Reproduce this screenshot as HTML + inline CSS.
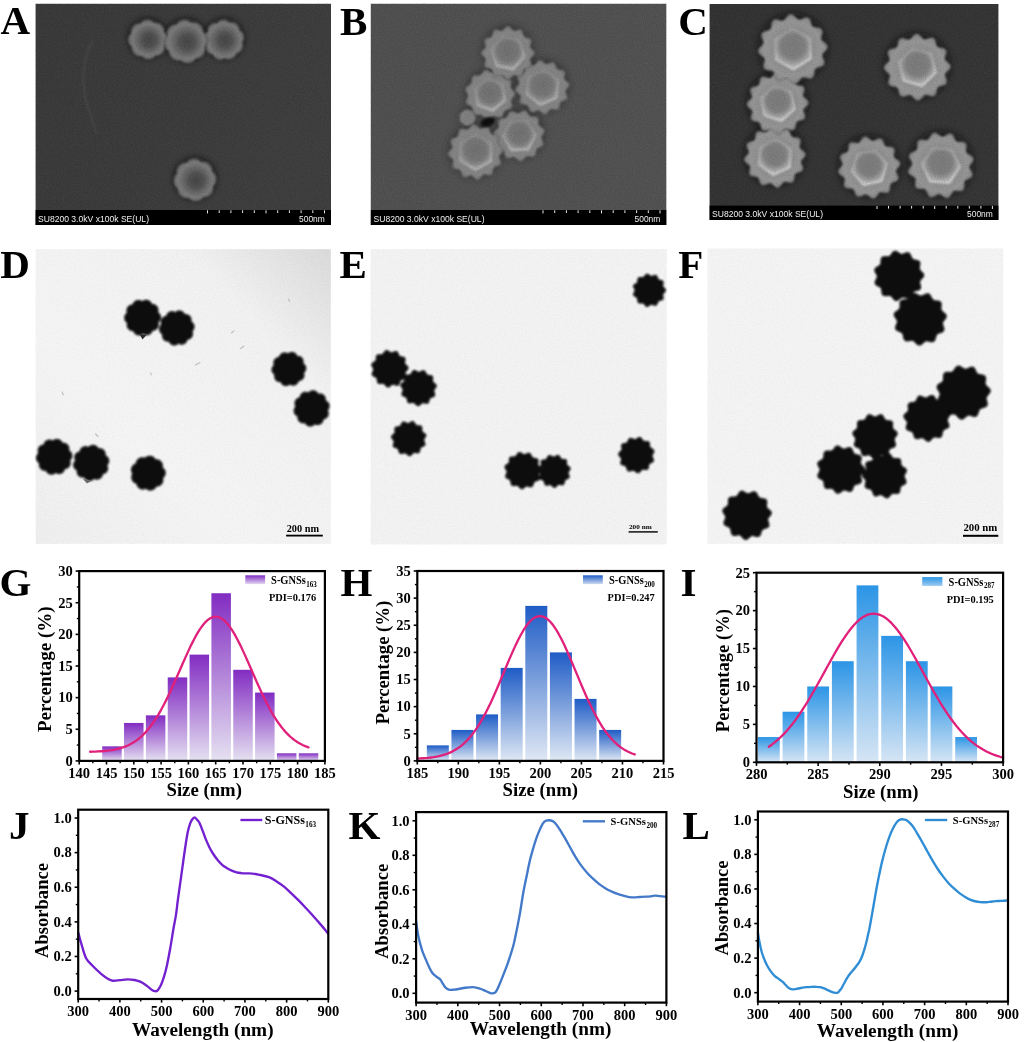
<!DOCTYPE html>
<html lang="en"><head><meta charset="utf-8"><title>S-GNSs characterization figure</title>
<style>html,body{margin:0;padding:0;background:#fff}svg{display:block}text{white-space:pre}</style>
</head><body>
<svg width="1024" height="1042" viewBox="0 0 1024 1042">
<defs>
<filter id="grain" x="0" y="0" width="100%" height="100%"><feTurbulence type="fractalNoise" baseFrequency="0.9" numOctaves="2" seed="3" result="n"/><feColorMatrix type="matrix" values="0 0 0 0 1  0 0 0 0 1  0 0 0 0 1  1.2 0 0 0 -0.35"/></filter>
<filter id="grainD" x="0" y="0" width="100%" height="100%"><feTurbulence type="fractalNoise" baseFrequency="0.9" numOctaves="2" seed="8" result="n"/><feColorMatrix type="matrix" values="0 0 0 0 0  0 0 0 0 0  0 0 0 0 0  1.2 0 0 0 -0.35"/></filter>
<filter id="b05" x="-20%" y="-20%" width="140%" height="140%"><feGaussianBlur stdDeviation="0.55"/></filter>
<filter id="b09" x="-5%" y="-5%" width="110%" height="110%"><feGaussianBlur stdDeviation="0.9"/></filter>
<filter id="b08" x="-20%" y="-20%" width="140%" height="140%"><feGaussianBlur stdDeviation="0.8"/></filter>
<filter id="b12" x="-20%" y="-20%" width="140%" height="140%"><feGaussianBlur stdDeviation="1.3"/></filter>
<filter id="b3" x="-30%" y="-30%" width="160%" height="160%"><feGaussianBlur stdDeviation="3"/></filter>
<linearGradient id="bgA" x1="0" y1="0" x2="1" y2="0.4"><stop offset="0" stop-color="#383838"/><stop offset="0.5" stop-color="#3a3a3a"/><stop offset="1" stop-color="#3d3d3d"/></linearGradient>
<linearGradient id="bgB" x1="0" y1="0" x2="1" y2="0.3"><stop offset="0" stop-color="#4f4f4f"/><stop offset="1" stop-color="#515151"/></linearGradient>
<linearGradient id="bgC" x1="0" y1="0" x2="1" y2="0.3"><stop offset="0" stop-color="#313131"/><stop offset="1" stop-color="#343434"/></linearGradient>
<radialGradient id="pA"><stop offset="0" stop-color="#6a6a6a"/><stop offset="0.45" stop-color="#757575"/><stop offset="0.7" stop-color="#8a8a8a"/><stop offset="1" stop-color="#7c7c7c"/></radialGradient>
<radialGradient id="pB"><stop offset="0" stop-color="#7e7e7e"/><stop offset="0.5" stop-color="#858585"/><stop offset="0.66" stop-color="#9a9a9a"/><stop offset="0.8" stop-color="#848484"/><stop offset="1" stop-color="#7a7a7a"/></radialGradient>
<radialGradient id="pC"><stop offset="0" stop-color="#8c8c8c"/><stop offset="0.45" stop-color="#969696"/><stop offset="0.62" stop-color="#b0b0b0"/><stop offset="0.8" stop-color="#8e8e8e"/><stop offset="1" stop-color="#808080"/></radialGradient>
<linearGradient id="bgD" x1="0" y1="1" x2="1" y2="0"><stop offset="0" stop-color="#f0f0f0"/><stop offset="0.35" stop-color="#f6f6f6"/><stop offset="0.75" stop-color="#f3f3f3"/><stop offset="1" stop-color="#dcdcdc"/></linearGradient>
<linearGradient id="gG" x1="0" y1="0" x2="0" y2="1"><stop offset="0" stop-color="#822cc2"/><stop offset="1" stop-color="#e5e1f1"/></linearGradient>
<linearGradient id="gH" x1="0" y1="0" x2="0" y2="1"><stop offset="0" stop-color="#1f5cc6"/><stop offset="1" stop-color="#dfe8f4"/></linearGradient>
<linearGradient id="lgG" x1="0" y1="0" x2="0" y2="1"><stop offset="0" stop-color="#822cc2"/><stop offset="1" stop-color="#e2d8f2"/></linearGradient>
<linearGradient id="lgH" x1="0" y1="0" x2="0" y2="1"><stop offset="0" stop-color="#1f5cc6"/><stop offset="1" stop-color="#cddaf0"/></linearGradient>
<linearGradient id="lgI" x1="0" y1="0" x2="0" y2="1"><stop offset="0" stop-color="#2c95e6"/><stop offset="1" stop-color="#9ccbf1"/></linearGradient>
<linearGradient id="gI" x1="0" y1="0" x2="0" y2="1"><stop offset="0" stop-color="#2c95e6"/><stop offset="1" stop-color="#d6e5f4"/></linearGradient>
</defs>
<rect x="0" y="0" width="1024" height="1042" fill="#ffffff"/>
<text x="0.6" y="33.9" font-size="41.0" font-family="Liberation Serif, serif" font-weight="bold" fill="#000">A</text>
<text x="340.0" y="34.7" font-size="41.0" font-family="Liberation Serif, serif" font-weight="bold" fill="#000">B</text>
<text x="678.2" y="35.0" font-size="41.0" font-family="Liberation Serif, serif" font-weight="bold" fill="#000">C</text>
<text x="0.2" y="277.7" font-size="41.0" font-family="Liberation Serif, serif" font-weight="bold" fill="#000">D</text>
<text x="339.6" y="278.0" font-size="41.0" font-family="Liberation Serif, serif" font-weight="bold" fill="#000">E</text>
<text x="678.2" y="277.8" font-size="41.0" font-family="Liberation Serif, serif" font-weight="bold" fill="#000">F</text>
<text x="-0.4" y="596.0" font-size="41.0" font-family="Liberation Serif, serif" font-weight="bold" fill="#000">G</text>
<text x="340.5" y="595.7" font-size="41.0" font-family="Liberation Serif, serif" font-weight="bold" fill="#000">H</text>
<text x="680.6" y="596.0" font-size="41.0" font-family="Liberation Serif, serif" font-weight="bold" fill="#000">I</text>
<text x="9.0" y="839.0" font-size="41.0" font-family="Liberation Serif, serif" font-weight="bold" fill="#000">J</text>
<text x="348.4" y="839.0" font-size="41.0" font-family="Liberation Serif, serif" font-weight="bold" fill="#000">K</text>
<text x="682.4" y="839.0" font-size="41.0" font-family="Liberation Serif, serif" font-weight="bold" fill="#000">L</text>
<g>
<rect x="35.6" y="3.8" width="295.4" height="221.2" fill="url(#bgA)"/>
<path d="M93 40 C84 55 81 80 86 100 C89 112 93 122 97 134" fill="none" stroke="#565656" stroke-opacity="0.5" stroke-width="1.6" filter="url(#b12)"/>
<circle cx="148.0" cy="38.0" r="20.0" fill="#0c0c0c" opacity="0.65" filter="url(#b3)"/>
<circle cx="224.0" cy="38.5" r="20.5" fill="#0c0c0c" opacity="0.65" filter="url(#b3)"/>
<circle cx="186.0" cy="40.0" r="22.0" fill="#0c0c0c" opacity="0.65" filter="url(#b3)"/>
<circle cx="195.0" cy="178.5" r="21.5" fill="#0c0c0c" opacity="0.65" filter="url(#b3)"/>
<radialGradient id="pg35_0" gradientUnits="userSpaceOnUse" cx="148.0" cy="39.5" r="20.0"><stop offset="0" stop-color="#6c6c6c"/><stop offset="0.55" stop-color="#6c6c6c"/><stop offset="0.8" stop-color="#7c7c7c"/><stop offset="1" stop-color="#646464"/></radialGradient>
<path d="M168.0 39.5 L167.9 40.4 L167.7 41.4 L167.4 42.3 L167.0 43.2 L166.4 44.0 L165.8 44.7 L165.0 45.4 L164.8 46.2 L164.9 47.2 L164.9 48.2 L164.7 49.2 L164.5 50.1 L164.1 51.0 L163.7 51.8 L163.1 52.6 L162.5 53.3 L161.8 53.9 L161.0 54.5 L160.2 55.0 L159.3 55.3 L158.4 55.6 L157.4 55.8 L156.4 55.8 L155.3 55.6 L154.8 56.6 L154.2 57.3 L153.4 57.9 L152.6 58.4 L151.7 58.8 L150.8 59.1 L149.9 59.4 L149.0 59.5 L148.0 59.5 L147.1 59.4 L146.1 59.2 L145.2 58.9 L144.3 58.5 L143.5 57.9 L142.8 57.3 L142.1 56.5 L141.3 56.3 L140.3 56.4 L139.3 56.4 L138.3 56.2 L137.4 56.0 L136.5 55.6 L135.7 55.2 L134.9 54.6 L134.2 54.0 L133.6 53.3 L133.0 52.5 L132.5 51.7 L132.2 50.8 L131.9 49.9 L131.7 48.9 L131.7 47.9 L131.9 46.8 L130.9 46.3 L130.2 45.7 L129.6 44.9 L129.1 44.1 L128.7 43.2 L128.4 42.3 L128.1 41.4 L128.0 40.5 L128.0 39.5 L128.1 38.6 L128.3 37.6 L128.6 36.7 L129.0 35.8 L129.6 35.0 L130.2 34.3 L131.0 33.6 L131.2 32.8 L131.1 31.8 L131.1 30.8 L131.3 29.8 L131.5 28.9 L131.9 28.0 L132.3 27.2 L132.9 26.4 L133.5 25.7 L134.2 25.1 L135.0 24.5 L135.8 24.0 L136.7 23.7 L137.6 23.4 L138.6 23.2 L139.6 23.2 L140.7 23.4 L141.2 22.4 L141.8 21.7 L142.6 21.1 L143.4 20.6 L144.3 20.2 L145.2 19.9 L146.1 19.6 L147.0 19.5 L148.0 19.5 L148.9 19.6 L149.9 19.8 L150.8 20.1 L151.7 20.5 L152.5 21.1 L153.2 21.7 L153.9 22.5 L154.7 22.7 L155.7 22.6 L156.7 22.6 L157.7 22.8 L158.6 23.0 L159.5 23.4 L160.3 23.8 L161.1 24.4 L161.8 25.0 L162.4 25.7 L163.0 26.5 L163.5 27.3 L163.8 28.2 L164.1 29.1 L164.3 30.1 L164.3 31.1 L164.1 32.2 L165.1 32.7 L165.8 33.3 L166.4 34.1 L166.9 34.9 L167.3 35.8 L167.6 36.7 L167.9 37.6 L168.0 38.5Z" fill="url(#pg35_0)" stroke="#0c0c0c" stroke-opacity="0.4" stroke-width="0.8" filter="url(#b08)"/>
<radialGradient id="hg35_0" gradientUnits="userSpaceOnUse" cx="149.0" cy="39.9" r="16.0"><stop offset="0" stop-color="#444444" stop-opacity="1"/><stop offset="0.45" stop-color="#4e4e4e" stop-opacity="0.9"/><stop offset="1" stop-color="#6c6c6c" stop-opacity="0"/></radialGradient>
<circle cx="149.0" cy="39.9" r="16.0" fill="url(#hg35_0)"/>
<radialGradient id="pg35_1" gradientUnits="userSpaceOnUse" cx="224.0" cy="40.0" r="20.5"><stop offset="0" stop-color="#6c6c6c"/><stop offset="0.55" stop-color="#6c6c6c"/><stop offset="0.8" stop-color="#7c7c7c"/><stop offset="1" stop-color="#646464"/></radialGradient>
<path d="M243.6 40.0 L243.2 40.9 L242.6 41.8 L242.2 42.6 L242.7 43.6 L243.0 44.6 L243.1 45.6 L243.0 46.6 L242.9 47.6 L242.6 48.5 L242.2 49.4 L241.7 50.2 L241.1 51.0 L240.4 51.7 L239.6 52.3 L238.7 52.8 L237.8 53.1 L236.7 53.3 L236.2 54.1 L235.9 55.1 L235.4 56.0 L234.8 56.8 L234.1 57.5 L233.3 58.1 L232.5 58.6 L231.6 59.0 L230.7 59.3 L229.7 59.5 L228.7 59.5 L227.7 59.4 L226.8 59.2 L225.8 58.8 L224.9 58.0 L224.0 58.9 L223.1 59.3 L222.1 59.7 L221.1 59.9 L220.2 59.9 L219.2 59.9 L218.2 59.7 L217.3 59.4 L216.4 58.9 L215.6 58.4 L214.8 57.7 L214.2 57.0 L213.6 56.2 L213.2 55.2 L212.6 54.5 L211.5 54.4 L210.5 54.1 L209.6 53.7 L208.8 53.2 L208.0 52.6 L207.3 51.9 L206.8 51.1 L206.3 50.2 L205.9 49.3 L205.7 48.4 L205.6 47.4 L205.6 46.4 L205.7 45.4 L206.1 44.3 L205.7 43.5 L205.0 42.7 L204.4 41.9 L204.1 41.0 L203.8 40.0 L203.6 39.0 L203.6 38.1 L203.7 37.1 L203.9 36.1 L204.3 35.2 L204.8 34.3 L205.3 33.5 L206.0 32.8 L206.8 32.2 L208.0 31.7 L207.7 30.6 L207.7 29.5 L207.9 28.5 L208.2 27.6 L208.7 26.7 L209.2 25.9 L209.9 25.2 L210.6 24.5 L211.4 24.0 L212.3 23.5 L213.2 23.2 L214.2 23.0 L215.2 22.9 L216.2 23.0 L217.2 22.9 L217.8 22.0 L218.5 21.3 L219.3 20.7 L220.2 20.2 L221.1 19.9 L222.1 19.6 L223.0 19.5 L224.0 19.5 L225.0 19.7 L225.9 19.9 L226.8 20.3 L227.7 20.8 L228.5 21.5 L229.2 22.3 L230.1 22.4 L231.1 22.2 L232.2 22.1 L233.2 22.2 L234.1 22.5 L235.0 22.8 L235.9 23.3 L236.7 23.9 L237.4 24.6 L238.0 25.3 L238.5 26.2 L238.9 27.1 L239.2 28.0 L239.4 29.1 L239.2 30.2 L240.3 30.6 L241.2 31.1 L242.0 31.8 L242.6 32.5 L243.2 33.4 L243.6 34.2 L243.9 35.2 L244.1 36.1 L244.2 37.1 L244.1 38.1 L243.9 39.0Z" fill="url(#pg35_1)" stroke="#0c0c0c" stroke-opacity="0.4" stroke-width="0.8" filter="url(#b08)"/>
<radialGradient id="hg35_1" gradientUnits="userSpaceOnUse" cx="225.0" cy="40.4" r="16.4"><stop offset="0" stop-color="#444444" stop-opacity="1"/><stop offset="0.45" stop-color="#4e4e4e" stop-opacity="0.9"/><stop offset="1" stop-color="#6c6c6c" stop-opacity="0"/></radialGradient>
<circle cx="225.0" cy="40.4" r="16.4" fill="url(#hg35_1)"/>
<radialGradient id="pg35_2" gradientUnits="userSpaceOnUse" cx="186.0" cy="41.5" r="22.0"><stop offset="0" stop-color="#6c6c6c"/><stop offset="0.55" stop-color="#6c6c6c"/><stop offset="0.8" stop-color="#7c7c7c"/><stop offset="1" stop-color="#646464"/></radialGradient>
<path d="M207.8 41.5 L207.5 42.5 L207.2 43.5 L206.7 44.5 L206.1 45.4 L205.4 46.2 L205.0 47.1 L205.3 48.2 L205.3 49.2 L205.3 50.3 L205.1 51.4 L204.8 52.4 L204.4 53.3 L203.9 54.2 L203.3 55.1 L202.6 55.9 L201.8 56.6 L201.0 57.2 L200.0 57.7 L199.1 58.1 L198.0 58.4 L196.9 58.5 L195.8 58.4 L195.2 59.4 L194.6 60.3 L193.8 61.0 L193.0 61.7 L192.1 62.2 L191.1 62.7 L190.2 63.0 L189.1 63.3 L188.1 63.4 L187.0 63.4 L186.0 63.3 L185.0 63.0 L184.0 62.7 L183.0 62.2 L182.1 61.6 L181.3 60.9 L180.4 60.5 L179.3 60.8 L178.3 60.8 L177.2 60.8 L176.1 60.6 L175.1 60.3 L174.2 59.9 L173.3 59.4 L172.4 58.8 L171.6 58.1 L170.9 57.3 L170.3 56.5 L169.8 55.5 L169.4 54.6 L169.1 53.5 L169.0 52.4 L169.1 51.3 L168.1 50.7 L167.2 50.1 L166.5 49.3 L165.8 48.5 L165.3 47.6 L164.8 46.6 L164.5 45.7 L164.2 44.6 L164.1 43.6 L164.1 42.5 L164.2 41.5 L164.5 40.5 L164.8 39.5 L165.3 38.5 L165.9 37.6 L166.6 36.8 L167.0 35.9 L166.7 34.8 L166.7 33.8 L166.7 32.7 L166.9 31.6 L167.2 30.6 L167.6 29.7 L168.1 28.8 L168.7 27.9 L169.4 27.1 L170.2 26.4 L171.0 25.8 L172.0 25.3 L172.9 24.9 L174.0 24.6 L175.1 24.5 L176.2 24.6 L176.8 23.6 L177.4 22.7 L178.2 22.0 L179.0 21.3 L179.9 20.8 L180.9 20.3 L181.8 20.0 L182.9 19.7 L183.9 19.6 L185.0 19.6 L186.0 19.7 L187.0 20.0 L188.0 20.3 L189.0 20.8 L189.9 21.4 L190.7 22.1 L191.6 22.5 L192.7 22.2 L193.7 22.2 L194.8 22.2 L195.9 22.4 L196.9 22.7 L197.8 23.1 L198.7 23.6 L199.6 24.2 L200.4 24.9 L201.1 25.7 L201.7 26.5 L202.2 27.5 L202.6 28.4 L202.9 29.5 L203.0 30.6 L202.9 31.7 L203.9 32.3 L204.8 32.9 L205.5 33.7 L206.2 34.5 L206.7 35.4 L207.2 36.4 L207.5 37.3 L207.8 38.4 L207.9 39.4 L207.9 40.5Z" fill="url(#pg35_2)" stroke="#0c0c0c" stroke-opacity="0.4" stroke-width="0.8" filter="url(#b08)"/>
<radialGradient id="hg35_2" gradientUnits="userSpaceOnUse" cx="187.1" cy="41.9" r="17.6"><stop offset="0" stop-color="#444444" stop-opacity="1"/><stop offset="0.45" stop-color="#4e4e4e" stop-opacity="0.9"/><stop offset="1" stop-color="#6c6c6c" stop-opacity="0"/></radialGradient>
<circle cx="187.1" cy="41.9" r="17.6" fill="url(#hg35_2)"/>
<radialGradient id="pg35_3" gradientUnits="userSpaceOnUse" cx="195.0" cy="180.0" r="21.5"><stop offset="0" stop-color="#6c6c6c"/><stop offset="0.55" stop-color="#6c6c6c"/><stop offset="0.8" stop-color="#7c7c7c"/><stop offset="1" stop-color="#646464"/></radialGradient>
<path d="M216.4 180.0 L216.3 181.0 L216.0 182.0 L215.7 183.0 L215.2 183.9 L214.6 184.8 L213.9 185.5 L213.0 186.2 L213.3 187.3 L213.4 188.4 L213.3 189.4 L213.1 190.5 L212.8 191.4 L212.4 192.4 L211.9 193.3 L211.2 194.1 L210.5 194.8 L209.8 195.5 L208.9 196.1 L208.0 196.5 L207.0 196.9 L206.0 197.2 L205.0 197.3 L203.9 197.2 L203.1 197.7 L202.4 198.6 L201.7 199.3 L200.9 199.9 L200.0 200.5 L199.0 200.9 L198.0 201.2 L197.0 201.4 L196.0 201.5 L195.0 201.4 L194.0 201.3 L193.0 201.0 L192.0 200.7 L191.1 200.2 L190.2 199.6 L189.5 198.9 L188.8 198.0 L187.7 198.3 L186.6 198.4 L185.6 198.3 L184.5 198.1 L183.6 197.8 L182.6 197.4 L181.7 196.9 L180.9 196.2 L180.2 195.5 L179.5 194.8 L178.9 193.9 L178.5 193.0 L178.1 192.0 L177.8 191.0 L177.7 190.0 L177.8 188.9 L177.3 188.1 L176.4 187.4 L175.7 186.7 L175.1 185.9 L174.5 185.0 L174.1 184.0 L173.8 183.0 L173.6 182.0 L173.5 181.0 L173.6 180.0 L173.7 179.0 L174.0 178.0 L174.3 177.0 L174.8 176.1 L175.4 175.2 L176.1 174.5 L177.0 173.8 L176.7 172.7 L176.6 171.6 L176.7 170.6 L176.9 169.5 L177.2 168.6 L177.6 167.6 L178.1 166.7 L178.8 165.9 L179.5 165.2 L180.2 164.5 L181.1 163.9 L182.0 163.5 L183.0 163.1 L184.0 162.8 L185.0 162.7 L186.1 162.8 L186.9 162.3 L187.6 161.4 L188.3 160.7 L189.1 160.1 L190.0 159.5 L191.0 159.1 L192.0 158.8 L193.0 158.6 L194.0 158.5 L195.0 158.6 L196.0 158.7 L197.0 159.0 L198.0 159.3 L198.9 159.8 L199.8 160.4 L200.5 161.1 L201.2 162.0 L202.3 161.7 L203.4 161.6 L204.4 161.7 L205.5 161.9 L206.4 162.2 L207.4 162.6 L208.3 163.1 L209.1 163.8 L209.8 164.5 L210.5 165.2 L211.1 166.1 L211.5 167.0 L211.9 168.0 L212.2 169.0 L212.3 170.0 L212.2 171.1 L212.7 171.9 L213.6 172.6 L214.3 173.3 L214.9 174.1 L215.5 175.0 L215.9 176.0 L216.2 177.0 L216.4 178.0 L216.5 179.0Z" fill="url(#pg35_3)" stroke="#0c0c0c" stroke-opacity="0.4" stroke-width="0.8" filter="url(#b08)"/>
<radialGradient id="hg35_3" gradientUnits="userSpaceOnUse" cx="196.1" cy="180.4" r="17.2"><stop offset="0" stop-color="#444444" stop-opacity="1"/><stop offset="0.45" stop-color="#4e4e4e" stop-opacity="0.9"/><stop offset="1" stop-color="#6c6c6c" stop-opacity="0"/></radialGradient>
<circle cx="196.1" cy="180.4" r="17.2" fill="url(#hg35_3)"/>
<rect x="35.6" y="3.8" width="295.4" height="206.2" filter="url(#grain)" opacity="0.07"/>
<rect x="35.6" y="3.8" width="295.4" height="206.2" filter="url(#grainD)" opacity="0.14"/>
<rect x="35.6" y="210.0" width="295.4" height="15.0" fill="#000"/>
<text x="38.0" y="221.6" font-size="8.6" font-family="Liberation Sans, sans-serif" fill="#f0f0f0" textLength="111" lengthAdjust="spacingAndGlyphs">SU8200 3.0kV x100k SE(UL)</text>
<text x="299.0" y="221.6" font-size="8.6" font-family="Liberation Sans, sans-serif" fill="#f0f0f0" textLength="25.8" lengthAdjust="spacingAndGlyphs">500nm</text>
<rect x="207.0" y="210.3" width="1" height="3.1" fill="#e8e8e8"/>
<rect x="218.7" y="210.3" width="1" height="2.7" fill="#e8e8e8"/>
<rect x="230.4" y="210.3" width="1" height="2.7" fill="#e8e8e8"/>
<rect x="242.1" y="210.3" width="1" height="2.7" fill="#e8e8e8"/>
<rect x="253.8" y="210.3" width="1" height="2.7" fill="#e8e8e8"/>
<rect x="265.5" y="210.3" width="1" height="3.1" fill="#e8e8e8"/>
<rect x="277.2" y="210.3" width="1" height="2.7" fill="#e8e8e8"/>
<rect x="288.9" y="210.3" width="1" height="2.7" fill="#e8e8e8"/>
<rect x="300.6" y="210.3" width="1" height="2.7" fill="#e8e8e8"/>
<rect x="312.3" y="210.3" width="1" height="2.7" fill="#e8e8e8"/>
<rect x="324.0" y="210.3" width="1" height="3.1" fill="#e8e8e8"/>
</g>
<g>
<rect x="370.8" y="3.8" width="295.5" height="221.2" fill="url(#bgB)"/>

<circle cx="467.5" cy="116.1" r="8.5" fill="#222222" opacity="0.50" filter="url(#b3)"/>
<circle cx="519.3" cy="134.0" r="26.0" fill="#222222" opacity="0.50" filter="url(#b3)"/>
<circle cx="490.0" cy="93.2" r="25.5" fill="#222222" opacity="0.50" filter="url(#b3)"/>
<circle cx="542.4" cy="85.8" r="27.5" fill="#222222" opacity="0.50" filter="url(#b3)"/>
<circle cx="507.9" cy="51.5" r="27.0" fill="#222222" opacity="0.50" filter="url(#b3)"/>
<circle cx="475.7" cy="150.5" r="28.0" fill="#222222" opacity="0.50" filter="url(#b3)"/>
<radialGradient id="pg370_0" gradientUnits="userSpaceOnUse" cx="467.5" cy="117.6" r="8.5"><stop offset="0" stop-color="#808080"/><stop offset="0.55" stop-color="#808080"/><stop offset="0.8" stop-color="#868686"/><stop offset="1" stop-color="#787878"/></radialGradient>
<path d="M476.0 117.6 L476.0 118.0 L475.9 118.4 L475.8 118.8 L475.6 119.2 L475.4 119.5 L475.2 119.9 L475.0 120.2 L474.8 120.5 L474.6 120.8 L474.5 121.2 L474.3 121.5 L474.2 121.9 L474.0 122.3 L473.9 122.6 L473.7 123.0 L473.5 123.4 L473.3 123.7 L473.1 124.0 L472.8 124.3 L472.4 124.5 L472.1 124.7 L471.7 124.8 L471.3 124.9 L470.9 125.0 L470.5 125.0 L470.1 125.1 L469.7 125.1 L469.3 125.2 L469.0 125.3 L468.6 125.4 L468.3 125.5 L467.9 125.6 L467.5 125.8 L467.1 125.9 L466.7 125.9 L466.3 126.0 L465.9 125.9 L465.5 125.9 L465.1 125.7 L464.8 125.5 L464.4 125.3 L464.1 125.1 L463.8 124.8 L463.5 124.5 L463.2 124.2 L462.9 124.0 L462.7 123.7 L462.4 123.5 L462.1 123.3 L461.7 123.1 L461.4 122.9 L461.1 122.7 L460.8 122.4 L460.4 122.1 L460.2 121.8 L460.0 121.5 L459.8 121.1 L459.6 120.7 L459.6 120.3 L459.5 119.9 L459.5 119.5 L459.6 119.1 L459.6 118.7 L459.6 118.4 L459.7 118.0 L459.7 117.6 L459.7 117.2 L459.6 116.8 L459.6 116.5 L459.6 116.1 L459.5 115.7 L459.5 115.3 L459.6 114.9 L459.6 114.5 L459.8 114.1 L460.0 113.7 L460.2 113.4 L460.4 113.1 L460.8 112.8 L461.1 112.5 L461.4 112.3 L461.7 112.1 L462.1 111.9 L462.4 111.7 L462.7 111.5 L462.9 111.2 L463.2 111.0 L463.5 110.7 L463.8 110.4 L464.1 110.1 L464.4 109.9 L464.8 109.7 L465.1 109.5 L465.5 109.3 L465.9 109.3 L466.3 109.2 L466.7 109.3 L467.1 109.3 L467.5 109.4 L467.9 109.6 L468.3 109.7 L468.6 109.8 L469.0 109.9 L469.3 110.0 L469.7 110.1 L470.1 110.1 L470.5 110.2 L470.9 110.2 L471.3 110.3 L471.7 110.4 L472.1 110.5 L472.4 110.7 L472.8 110.9 L473.1 111.2 L473.3 111.5 L473.5 111.8 L473.7 112.2 L473.9 112.6 L474.0 112.9 L474.2 113.3 L474.3 113.7 L474.5 114.0 L474.6 114.4 L474.8 114.7 L475.0 115.0 L475.2 115.3 L475.4 115.7 L475.6 116.0 L475.8 116.4 L475.9 116.8 L476.0 117.2Z" fill="url(#pg370_0)" stroke="#222222" stroke-opacity="0.4" stroke-width="0.8" filter="url(#b08)"/>
<radialGradient id="pg370_1" gradientUnits="userSpaceOnUse" cx="519.3" cy="135.5" r="26.0"><stop offset="0" stop-color="#808080"/><stop offset="0.55" stop-color="#808080"/><stop offset="0.8" stop-color="#868686"/><stop offset="1" stop-color="#787878"/></radialGradient>
<path d="M542.4 135.5 L541.8 136.6 L541.6 137.6 L541.8 138.7 L542.3 139.9 L543.0 141.2 L543.5 142.6 L543.7 144.0 L543.4 145.2 L542.6 146.2 L541.4 146.9 L540.1 147.5 L538.7 148.0 L537.6 148.6 L536.9 149.3 L536.5 150.4 L536.3 151.7 L536.1 153.1 L535.8 154.6 L535.3 155.8 L534.4 156.7 L533.2 157.1 L531.8 157.1 L530.3 156.8 L528.9 156.5 L527.7 156.4 L526.6 156.6 L525.7 157.3 L524.8 158.3 L523.9 159.4 L522.9 160.5 L521.8 161.2 L520.5 161.5 L519.3 161.2 L518.1 160.4 L517.0 159.4 L516.0 158.4 L515.0 157.6 L514.0 157.2 L512.9 157.3 L511.6 157.7 L510.2 158.1 L508.8 158.5 L507.5 158.5 L506.3 158.0 L505.4 157.1 L504.8 155.8 L504.5 154.4 L504.2 153.0 L503.8 151.8 L503.1 150.9 L502.1 150.4 L500.9 150.0 L499.4 149.6 L498.1 149.2 L496.9 148.4 L496.2 147.4 L496.0 146.2 L496.2 144.8 L496.6 143.3 L497.1 142.0 L497.4 140.8 L497.3 139.7 L496.8 138.7 L496.0 137.7 L495.0 136.7 L494.0 135.5 L493.5 134.3 L493.4 133.0 L493.9 131.8 L494.8 130.8 L496.0 129.8 L497.1 129.0 L498.0 128.1 L498.5 127.2 L498.6 126.1 L498.5 124.8 L498.2 123.3 L498.1 121.8 L498.2 120.5 L498.9 119.4 L499.9 118.7 L501.3 118.3 L502.7 118.1 L504.2 118.0 L505.4 117.8 L506.3 117.3 L507.0 116.4 L507.6 115.2 L508.1 113.8 L508.8 112.5 L509.7 111.5 L510.8 110.9 L512.1 110.9 L513.4 111.3 L514.8 111.9 L516.0 112.6 L517.2 113.1 L518.2 113.2 L519.3 112.8 L520.4 112.1 L521.6 111.2 L522.9 110.5 L524.2 110.1 L525.4 110.2 L526.5 110.9 L527.5 112.0 L528.2 113.2 L528.9 114.5 L529.6 115.5 L530.5 116.1 L531.6 116.4 L532.9 116.4 L534.4 116.3 L535.8 116.4 L537.1 116.8 L538.1 117.6 L538.7 118.7 L538.9 120.1 L538.8 121.6 L538.7 123.0 L538.8 124.2 L539.2 125.2 L540.0 126.1 L541.1 126.8 L542.3 127.5 L543.5 128.4 L544.4 129.4 L544.8 130.6 L544.7 131.8 L544.1 133.1 L543.3 134.4Z" fill="url(#pg370_1)" stroke="#222222" stroke-opacity="0.4" stroke-width="0.8" filter="url(#b08)"/>
<radialGradient id="hg370_1" gradientUnits="userSpaceOnUse" cx="519.3" cy="133.4" r="16.6"><stop offset="0" stop-color="#707070"/><stop offset="0.6" stop-color="#767676"/><stop offset="1" stop-color="#9c9c9c"/></radialGradient>
<linearGradient id="hs370_1" x1="0" y1="0" x2="0.25" y2="1"><stop offset="0" stop-color="#9c9c9c" stop-opacity="0.25"/><stop offset="0.5" stop-color="#a8a8a8" stop-opacity="0.5"/><stop offset="1" stop-color="#bebebe" stop-opacity="0.95"/></linearGradient>
<path d="M528.1 149.6 L511.5 150.2 L502.7 136.1 L510.5 121.4 L527.1 120.8 L535.9 134.9Z" fill="url(#hg370_1)" stroke="url(#hs370_1)" stroke-width="2" stroke-linejoin="round" filter="url(#b08)"/>
<radialGradient id="pg370_2" gradientUnits="userSpaceOnUse" cx="490.0" cy="94.7" r="25.5"><stop offset="0" stop-color="#808080"/><stop offset="0.55" stop-color="#808080"/><stop offset="0.8" stop-color="#868686"/><stop offset="1" stop-color="#787878"/></radialGradient>
<path d="M515.4 94.7 L514.8 95.9 L513.9 97.0 L513.0 98.0 L512.1 99.0 L511.6 99.9 L511.4 101.0 L511.6 102.2 L511.9 103.5 L512.3 104.9 L512.4 106.2 L512.1 107.4 L511.3 108.4 L510.2 109.1 L508.9 109.6 L507.5 109.9 L506.3 110.2 L505.3 110.8 L504.6 111.6 L504.1 112.7 L503.7 114.0 L503.2 115.3 L502.6 116.5 L501.7 117.4 L500.5 117.8 L499.2 117.8 L497.9 117.4 L496.5 117.0 L495.3 116.6 L494.2 116.5 L493.2 116.8 L492.2 117.4 L491.1 118.3 L490.0 119.2 L488.8 119.8 L487.6 120.1 L486.4 119.8 L485.3 119.1 L484.3 118.1 L483.5 117.0 L482.6 116.0 L481.7 115.3 L480.7 115.0 L479.5 115.0 L478.2 115.2 L476.8 115.3 L475.4 115.2 L474.2 114.7 L473.4 113.9 L472.9 112.7 L472.6 111.3 L472.5 109.9 L472.3 108.6 L471.9 107.6 L471.2 106.8 L470.2 106.1 L469.0 105.5 L467.7 104.9 L466.6 104.1 L465.9 103.0 L465.7 101.8 L465.9 100.6 L466.4 99.3 L467.0 98.0 L467.6 96.8 L467.8 95.8 L467.7 94.7 L467.2 93.6 L466.5 92.5 L465.8 91.2 L465.3 89.9 L465.2 88.7 L465.7 87.6 L466.5 86.6 L467.7 85.8 L468.9 85.1 L470.0 84.4 L470.8 83.6 L471.2 82.6 L471.4 81.4 L471.4 80.1 L471.5 78.7 L471.8 77.3 L472.4 76.3 L473.4 75.5 L474.6 75.2 L476.1 75.1 L477.5 75.2 L478.7 75.2 L479.8 75.0 L480.7 74.4 L481.5 73.5 L482.3 72.4 L483.1 71.2 L484.1 70.2 L485.2 69.7 L486.4 69.6 L487.6 70.0 L488.9 70.7 L490.0 71.5 L491.1 72.2 L492.1 72.6 L493.2 72.6 L494.3 72.3 L495.6 71.7 L496.9 71.2 L498.2 70.9 L499.5 71.0 L500.5 71.6 L501.4 72.6 L502.0 73.9 L502.5 75.2 L503.1 76.4 L503.7 77.3 L504.6 77.8 L505.8 78.2 L507.1 78.4 L508.5 78.7 L509.8 79.1 L510.8 79.9 L511.3 81.0 L511.5 82.3 L511.4 83.7 L511.1 85.1 L510.9 86.3 L511.0 87.4 L511.4 88.4 L512.2 89.3 L513.2 90.2 L514.2 91.2 L515.1 92.3 L515.5 93.5Z" fill="url(#pg370_2)" stroke="#222222" stroke-opacity="0.4" stroke-width="0.8" filter="url(#b08)"/>
<radialGradient id="hg370_2" gradientUnits="userSpaceOnUse" cx="490.0" cy="92.7" r="16.3"><stop offset="0" stop-color="#707070"/><stop offset="0.6" stop-color="#767676"/><stop offset="1" stop-color="#9c9c9c"/></radialGradient>
<linearGradient id="hs370_2" x1="0" y1="0" x2="0.25" y2="1"><stop offset="0" stop-color="#9c9c9c" stop-opacity="0.25"/><stop offset="0.5" stop-color="#a8a8a8" stop-opacity="0.5"/><stop offset="1" stop-color="#bebebe" stop-opacity="0.95"/></linearGradient>
<path d="M505.3 100.3 L492.9 110.8 L477.5 105.2 L474.7 89.1 L487.1 78.6 L502.5 84.2Z" fill="url(#hg370_2)" stroke="url(#hs370_2)" stroke-width="2" stroke-linejoin="round" filter="url(#b08)"/>
<radialGradient id="pg370_3" gradientUnits="userSpaceOnUse" cx="542.4" cy="87.3" r="27.5"><stop offset="0" stop-color="#808080"/><stop offset="0.55" stop-color="#808080"/><stop offset="0.8" stop-color="#868686"/><stop offset="1" stop-color="#787878"/></radialGradient>
<path d="M568.7 87.3 L567.6 88.5 L566.5 89.6 L565.9 90.7 L565.7 91.8 L566.1 93.1 L566.8 94.5 L567.4 96.0 L567.7 97.4 L567.4 98.7 L566.5 99.7 L565.2 100.4 L563.6 100.9 L562.1 101.4 L561.0 102.0 L560.4 102.9 L560.1 104.1 L559.9 105.7 L559.7 107.3 L559.2 108.7 L558.3 109.7 L557.1 110.1 L555.5 110.1 L553.9 109.7 L552.5 109.3 L551.2 109.3 L550.2 109.8 L549.3 110.7 L548.4 112.0 L547.4 113.3 L546.3 114.3 L545.0 114.7 L543.7 114.4 L542.4 113.6 L541.2 112.5 L540.1 111.4 L539.0 110.8 L537.9 110.6 L536.6 111.0 L535.2 111.7 L533.7 112.3 L532.3 112.6 L531.0 112.3 L530.0 111.4 L529.3 110.1 L528.8 108.5 L528.3 107.0 L527.7 105.9 L526.8 105.3 L525.6 105.0 L524.0 104.8 L522.4 104.6 L521.0 104.1 L520.0 103.2 L519.6 102.0 L519.6 100.4 L520.0 98.8 L520.4 97.4 L520.4 96.1 L519.9 95.1 L519.0 94.2 L517.7 93.3 L516.4 92.3 L515.4 91.2 L515.0 89.9 L515.3 88.6 L516.1 87.3 L517.2 86.1 L518.3 85.0 L518.9 83.9 L519.1 82.8 L518.7 81.5 L518.0 80.1 L517.4 78.6 L517.1 77.2 L517.4 75.9 L518.3 74.9 L519.6 74.2 L521.2 73.7 L522.7 73.2 L523.8 72.6 L524.4 71.7 L524.7 70.5 L524.9 68.9 L525.1 67.3 L525.6 65.9 L526.5 64.9 L527.7 64.5 L529.3 64.5 L530.9 64.9 L532.3 65.3 L533.6 65.3 L534.6 64.8 L535.5 63.9 L536.4 62.6 L537.4 61.3 L538.5 60.3 L539.8 59.9 L541.1 60.2 L542.4 61.0 L543.6 62.1 L544.7 63.2 L545.8 63.8 L546.9 64.0 L548.2 63.6 L549.6 62.9 L551.1 62.3 L552.5 62.0 L553.8 62.3 L554.8 63.2 L555.5 64.5 L556.0 66.1 L556.5 67.6 L557.1 68.7 L558.0 69.3 L559.2 69.6 L560.8 69.8 L562.4 70.0 L563.8 70.5 L564.8 71.4 L565.2 72.6 L565.2 74.2 L564.8 75.8 L564.4 77.2 L564.4 78.5 L564.9 79.5 L565.8 80.4 L567.1 81.3 L568.4 82.3 L569.4 83.4 L569.8 84.7 L569.5 86.0Z" fill="url(#pg370_3)" stroke="#222222" stroke-opacity="0.4" stroke-width="0.8" filter="url(#b08)"/>
<radialGradient id="hg370_3" gradientUnits="userSpaceOnUse" cx="542.4" cy="85.1" r="17.6"><stop offset="0" stop-color="#707070"/><stop offset="0.6" stop-color="#767676"/><stop offset="1" stop-color="#9c9c9c"/></radialGradient>
<linearGradient id="hs370_3" x1="0" y1="0" x2="0.25" y2="1"><stop offset="0" stop-color="#9c9c9c" stop-opacity="0.25"/><stop offset="0.5" stop-color="#a8a8a8" stop-opacity="0.5"/><stop offset="1" stop-color="#bebebe" stop-opacity="0.95"/></linearGradient>
<path d="M556.5 97.9 L540.3 104.8 L526.2 94.2 L528.3 76.7 L544.5 69.8 L558.6 80.4Z" fill="url(#hg370_3)" stroke="url(#hs370_3)" stroke-width="2" stroke-linejoin="round" filter="url(#b08)"/>
<radialGradient id="pg370_4" gradientUnits="userSpaceOnUse" cx="507.9" cy="53.0" r="27.0"><stop offset="0" stop-color="#808080"/><stop offset="0.55" stop-color="#808080"/><stop offset="0.8" stop-color="#868686"/><stop offset="1" stop-color="#787878"/></radialGradient>
<path d="M534.9 53.0 L534.6 54.3 L533.7 55.5 L532.5 56.5 L531.3 57.5 L530.5 58.5 L530.3 59.6 L530.5 60.8 L531.0 62.2 L531.5 63.8 L531.6 65.2 L531.3 66.5 L530.4 67.4 L529.0 68.0 L527.4 68.4 L525.9 68.6 L524.8 69.1 L524.0 69.9 L523.5 71.0 L523.3 72.5 L522.9 74.1 L522.3 75.5 L521.4 76.4 L520.1 76.7 L518.7 76.6 L517.1 76.1 L515.7 75.6 L514.5 75.4 L513.4 75.6 L512.4 76.4 L511.4 77.6 L510.4 78.8 L509.2 79.7 L507.9 80.0 L506.6 79.7 L505.4 78.8 L504.4 77.6 L503.4 76.4 L502.4 75.6 L501.3 75.4 L500.1 75.6 L498.7 76.1 L497.1 76.6 L495.7 76.7 L494.4 76.4 L493.5 75.5 L492.9 74.1 L492.5 72.5 L492.3 71.0 L491.8 69.9 L491.0 69.1 L489.9 68.6 L488.4 68.4 L486.8 68.0 L485.4 67.4 L484.5 66.5 L484.2 65.2 L484.3 63.8 L484.8 62.2 L485.3 60.8 L485.5 59.6 L485.3 58.5 L484.5 57.5 L483.3 56.5 L482.1 55.5 L481.2 54.3 L480.9 53.0 L481.2 51.7 L482.1 50.5 L483.3 49.5 L484.5 48.5 L485.3 47.5 L485.5 46.4 L485.3 45.2 L484.8 43.8 L484.3 42.2 L484.2 40.8 L484.5 39.5 L485.4 38.6 L486.8 38.0 L488.4 37.6 L489.9 37.4 L491.0 36.9 L491.8 36.1 L492.3 35.0 L492.5 33.5 L492.9 31.9 L493.5 30.5 L494.4 29.6 L495.7 29.3 L497.1 29.4 L498.7 29.9 L500.1 30.4 L501.3 30.6 L502.4 30.4 L503.4 29.6 L504.4 28.4 L505.4 27.2 L506.6 26.3 L507.9 26.0 L509.2 26.3 L510.4 27.2 L511.4 28.4 L512.4 29.6 L513.4 30.4 L514.5 30.6 L515.7 30.4 L517.1 29.9 L518.7 29.4 L520.1 29.3 L521.4 29.6 L522.3 30.5 L522.9 31.9 L523.3 33.5 L523.5 35.0 L524.0 36.1 L524.8 36.9 L525.9 37.4 L527.4 37.6 L529.0 38.0 L530.4 38.6 L531.3 39.5 L531.6 40.8 L531.5 42.2 L531.0 43.8 L530.5 45.2 L530.3 46.4 L530.5 47.5 L531.3 48.5 L532.5 49.5 L533.7 50.5 L534.6 51.7Z" fill="url(#pg370_4)" stroke="#222222" stroke-opacity="0.4" stroke-width="0.8" filter="url(#b08)"/>
<radialGradient id="hg370_4" gradientUnits="userSpaceOnUse" cx="507.9" cy="50.8" r="17.3"><stop offset="0" stop-color="#707070"/><stop offset="0.6" stop-color="#767676"/><stop offset="1" stop-color="#9c9c9c"/></radialGradient>
<linearGradient id="hs370_4" x1="0" y1="0" x2="0.25" y2="1"><stop offset="0" stop-color="#9c9c9c" stop-opacity="0.25"/><stop offset="0.5" stop-color="#a8a8a8" stop-opacity="0.5"/><stop offset="1" stop-color="#bebebe" stop-opacity="0.95"/></linearGradient>
<path d="M524.8 56.4 L513.4 69.4 L496.5 66.0 L491.0 49.6 L502.4 36.6 L519.3 40.0Z" fill="url(#hg370_4)" stroke="url(#hs370_4)" stroke-width="2" stroke-linejoin="round" filter="url(#b08)"/>
<radialGradient id="pg370_5" gradientUnits="userSpaceOnUse" cx="475.7" cy="152.0" r="28.0"><stop offset="0" stop-color="#808080"/><stop offset="0.55" stop-color="#808080"/><stop offset="0.8" stop-color="#868686"/><stop offset="1" stop-color="#787878"/></radialGradient>
<path d="M503.0 152.0 L501.9 153.2 L500.7 154.4 L499.8 155.5 L499.3 156.6 L499.4 157.8 L500.0 159.1 L500.7 160.6 L501.1 162.2 L501.1 163.6 L500.5 164.8 L499.3 165.6 L497.8 166.2 L496.2 166.6 L494.8 167.1 L493.9 167.8 L493.4 168.9 L493.2 170.3 L493.0 172.0 L492.6 173.5 L491.9 174.8 L490.8 175.5 L489.3 175.6 L487.7 175.3 L486.1 174.9 L484.7 174.6 L483.6 174.8 L482.6 175.4 L481.7 176.6 L480.7 177.9 L479.6 179.1 L478.4 179.8 L477.0 179.9 L475.7 179.3 L474.5 178.2 L473.3 177.0 L472.2 176.1 L471.1 175.6 L469.9 175.7 L468.6 176.3 L467.1 177.0 L465.5 177.4 L464.1 177.4 L462.9 176.8 L462.1 175.6 L461.5 174.1 L461.1 172.5 L460.6 171.1 L459.9 170.2 L458.8 169.7 L457.4 169.5 L455.7 169.3 L454.2 168.9 L452.9 168.2 L452.2 167.1 L452.1 165.6 L452.4 164.0 L452.8 162.4 L453.1 161.0 L452.9 159.9 L452.3 158.9 L451.1 158.0 L449.8 157.0 L448.6 155.9 L447.9 154.7 L447.8 153.3 L448.4 152.0 L449.5 150.8 L450.7 149.6 L451.6 148.5 L452.1 147.4 L452.0 146.2 L451.4 144.9 L450.7 143.4 L450.3 141.8 L450.3 140.4 L450.9 139.2 L452.1 138.4 L453.6 137.8 L455.2 137.4 L456.6 136.9 L457.5 136.2 L458.0 135.1 L458.2 133.7 L458.4 132.0 L458.8 130.5 L459.5 129.2 L460.6 128.5 L462.1 128.4 L463.7 128.7 L465.3 129.1 L466.7 129.4 L467.8 129.2 L468.8 128.6 L469.7 127.4 L470.7 126.1 L471.8 124.9 L473.0 124.2 L474.4 124.1 L475.7 124.7 L476.9 125.8 L478.1 127.0 L479.2 127.9 L480.3 128.4 L481.5 128.3 L482.8 127.7 L484.3 127.0 L485.9 126.6 L487.3 126.6 L488.5 127.2 L489.3 128.4 L489.9 129.9 L490.3 131.5 L490.8 132.9 L491.5 133.8 L492.6 134.3 L494.0 134.5 L495.7 134.7 L497.2 135.1 L498.5 135.8 L499.2 136.9 L499.3 138.4 L499.0 140.0 L498.6 141.6 L498.3 143.0 L498.5 144.1 L499.1 145.1 L500.3 146.0 L501.6 147.0 L502.8 148.1 L503.5 149.3 L503.6 150.7Z" fill="url(#pg370_5)" stroke="#222222" stroke-opacity="0.4" stroke-width="0.8" filter="url(#b08)"/>
<radialGradient id="hg370_5" gradientUnits="userSpaceOnUse" cx="475.7" cy="149.8" r="17.9"><stop offset="0" stop-color="#707070"/><stop offset="0.6" stop-color="#767676"/><stop offset="1" stop-color="#9c9c9c"/></radialGradient>
<linearGradient id="hs370_5" x1="0" y1="0" x2="0.25" y2="1"><stop offset="0" stop-color="#9c9c9c" stop-opacity="0.25"/><stop offset="0.5" stop-color="#a8a8a8" stop-opacity="0.5"/><stop offset="1" stop-color="#bebebe" stop-opacity="0.95"/></linearGradient>
<path d="M491.1 161.1 L475.5 169.9 L460.1 160.8 L460.3 142.9 L475.9 134.1 L491.3 143.2Z" fill="url(#hg370_5)" stroke="url(#hs370_5)" stroke-width="2" stroke-linejoin="round" filter="url(#b08)"/>
<rect x="370.8" y="3.8" width="295.5" height="206.2" filter="url(#grain)" opacity="0.07"/>
<rect x="370.8" y="3.8" width="295.5" height="206.2" filter="url(#grainD)" opacity="0.14"/>
<rect x="370.8" y="210.0" width="295.5" height="15.0" fill="#000"/>
<text x="373.5" y="221.6" font-size="8.6" font-family="Liberation Sans, sans-serif" fill="#f0f0f0" textLength="111" lengthAdjust="spacingAndGlyphs">SU8200 3.0kV x100k SE(UL)</text>
<text x="634.5" y="221.6" font-size="8.6" font-family="Liberation Sans, sans-serif" fill="#f0f0f0" textLength="25.8" lengthAdjust="spacingAndGlyphs">500nm</text>
<rect x="542.5" y="210.3" width="1" height="3.1" fill="#e8e8e8"/>
<rect x="554.2" y="210.3" width="1" height="2.7" fill="#e8e8e8"/>
<rect x="565.9" y="210.3" width="1" height="2.7" fill="#e8e8e8"/>
<rect x="577.6" y="210.3" width="1" height="2.7" fill="#e8e8e8"/>
<rect x="589.3" y="210.3" width="1" height="2.7" fill="#e8e8e8"/>
<rect x="601.0" y="210.3" width="1" height="3.1" fill="#e8e8e8"/>
<rect x="612.7" y="210.3" width="1" height="2.7" fill="#e8e8e8"/>
<rect x="624.4" y="210.3" width="1" height="2.7" fill="#e8e8e8"/>
<rect x="636.1" y="210.3" width="1" height="2.7" fill="#e8e8e8"/>
<rect x="647.8" y="210.3" width="1" height="2.7" fill="#e8e8e8"/>
<rect x="659.5" y="210.3" width="1" height="3.1" fill="#e8e8e8"/>
</g>
<ellipse cx="487.7" cy="122" rx="7.5" ry="4.5" fill="#0c0c0c" filter="url(#b08)" transform="rotate(-20 487.7 122)"/>
<g>
<rect x="709.6" y="4.0" width="288.8" height="216.0" fill="url(#bgC)"/>

<circle cx="774.9" cy="155.5" r="31.0" fill="#0a0a0a" opacity="0.60" filter="url(#b3)"/>
<circle cx="777.7" cy="102.0" r="31.0" fill="#0a0a0a" opacity="0.60" filter="url(#b3)"/>
<circle cx="792.9" cy="47.5" r="35.0" fill="#0a0a0a" opacity="0.60" filter="url(#b3)"/>
<circle cx="917.3" cy="65.7" r="33.5" fill="#0a0a0a" opacity="0.60" filter="url(#b3)"/>
<circle cx="869.3" cy="166.1" r="31.5" fill="#0a0a0a" opacity="0.60" filter="url(#b3)"/>
<circle cx="940.8" cy="163.9" r="33.5" fill="#0a0a0a" opacity="0.60" filter="url(#b3)"/>
<radialGradient id="pg709_0" gradientUnits="userSpaceOnUse" cx="774.9" cy="157.0" r="31.0"><stop offset="0" stop-color="#8e8e8e"/><stop offset="0.55" stop-color="#8e8e8e"/><stop offset="0.8" stop-color="#989898"/><stop offset="1" stop-color="#868686"/></radialGradient>
<path d="M804.7 157.0 L803.5 158.4 L802.3 159.6 L801.4 160.8 L801.1 162.1 L801.5 163.4 L802.2 165.0 L802.9 166.7 L803.3 168.4 L803.1 169.9 L802.2 171.1 L800.7 171.9 L799.0 172.5 L797.3 172.9 L795.9 173.6 L795.1 174.5 L794.7 175.9 L794.5 177.6 L794.3 179.4 L793.8 181.1 L792.9 182.3 L791.5 182.8 L789.8 182.8 L788.0 182.4 L786.3 182.0 L784.9 181.9 L783.6 182.3 L782.6 183.2 L781.6 184.6 L780.5 186.1 L779.3 187.3 L777.8 187.9 L776.4 187.7 L774.9 186.8 L773.5 185.6 L772.3 184.4 L771.1 183.5 L769.8 183.2 L768.5 183.6 L766.9 184.3 L765.2 185.0 L763.5 185.4 L762.0 185.2 L760.8 184.3 L760.0 182.8 L759.4 181.1 L759.0 179.4 L758.3 178.0 L757.4 177.2 L756.0 176.8 L754.3 176.6 L752.5 176.4 L750.8 175.9 L749.6 175.0 L749.1 173.6 L749.1 171.9 L749.5 170.1 L749.9 168.4 L750.0 167.0 L749.6 165.7 L748.7 164.7 L747.3 163.7 L745.8 162.6 L744.6 161.4 L744.0 159.9 L744.2 158.5 L745.1 157.0 L746.3 155.6 L747.5 154.4 L748.4 153.2 L748.7 151.9 L748.3 150.6 L747.6 149.0 L746.9 147.3 L746.5 145.6 L746.7 144.1 L747.6 142.9 L749.1 142.1 L750.8 141.5 L752.5 141.1 L753.9 140.4 L754.7 139.5 L755.1 138.1 L755.3 136.4 L755.5 134.6 L756.0 132.9 L756.9 131.7 L758.3 131.2 L760.0 131.2 L761.8 131.6 L763.5 132.0 L764.9 132.1 L766.2 131.7 L767.2 130.8 L768.2 129.4 L769.3 127.9 L770.5 126.7 L772.0 126.1 L773.4 126.3 L774.9 127.2 L776.3 128.4 L777.5 129.6 L778.7 130.5 L780.0 130.8 L781.3 130.4 L782.9 129.7 L784.6 129.0 L786.3 128.6 L787.8 128.8 L789.0 129.7 L789.8 131.2 L790.4 132.9 L790.8 134.6 L791.5 136.0 L792.4 136.8 L793.8 137.2 L795.5 137.4 L797.3 137.6 L799.0 138.1 L800.2 139.0 L800.7 140.4 L800.7 142.1 L800.3 143.9 L799.9 145.6 L799.8 147.0 L800.2 148.3 L801.1 149.3 L802.5 150.3 L804.0 151.4 L805.2 152.6 L805.8 154.1 L805.6 155.5Z" fill="url(#pg709_0)" stroke="#0a0a0a" stroke-opacity="0.4" stroke-width="0.8" filter="url(#b08)"/>
<radialGradient id="hg709_0" gradientUnits="userSpaceOnUse" cx="774.9" cy="154.5" r="18.0"><stop offset="0" stop-color="#7a7a7a"/><stop offset="0.6" stop-color="#808080"/><stop offset="1" stop-color="#b6b6b6"/></radialGradient>
<linearGradient id="hs709_0" x1="0" y1="0" x2="0.25" y2="1"><stop offset="0" stop-color="#b6b6b6" stop-opacity="0.25"/><stop offset="0.5" stop-color="#c2c2c2" stop-opacity="0.5"/><stop offset="1" stop-color="#d8d8d8" stop-opacity="0.95"/></linearGradient>
<path d="M789.7 167.3 L773.4 174.9 L758.6 164.7 L760.1 146.7 L776.4 139.1 L791.2 149.3Z" fill="url(#hg709_0)" stroke="url(#hs709_0)" stroke-width="2" stroke-linejoin="round" filter="url(#b08)"/>
<radialGradient id="pg709_1" gradientUnits="userSpaceOnUse" cx="777.7" cy="103.5" r="31.0"><stop offset="0" stop-color="#8e8e8e"/><stop offset="0.55" stop-color="#8e8e8e"/><stop offset="0.8" stop-color="#989898"/><stop offset="1" stop-color="#868686"/></radialGradient>
<path d="M808.6 103.5 L807.9 104.9 L806.7 106.3 L805.3 107.5 L804.2 108.6 L803.6 109.8 L803.6 111.1 L804.1 112.6 L804.8 114.3 L805.2 116.1 L805.2 117.7 L804.5 119.0 L803.1 119.8 L801.4 120.4 L799.6 120.7 L798.1 121.2 L797.0 121.9 L796.3 123.1 L796.0 124.6 L795.7 126.4 L795.3 128.2 L794.4 129.5 L793.2 130.3 L791.6 130.4 L789.8 130.0 L788.1 129.4 L786.5 129.0 L785.2 129.1 L784.1 129.8 L783.0 131.0 L781.9 132.4 L780.6 133.6 L779.2 134.4 L777.7 134.4 L776.3 133.7 L774.9 132.5 L773.7 131.1 L772.6 130.0 L771.4 129.4 L770.1 129.4 L768.6 129.9 L766.9 130.6 L765.1 131.0 L763.5 131.0 L762.2 130.3 L761.4 128.9 L760.8 127.2 L760.5 125.4 L760.0 123.9 L759.3 122.8 L758.1 122.1 L756.6 121.8 L754.8 121.5 L753.0 121.1 L751.7 120.2 L750.9 119.0 L750.8 117.4 L751.2 115.6 L751.8 113.9 L752.2 112.3 L752.1 111.0 L751.4 109.9 L750.2 108.8 L748.8 107.7 L747.6 106.4 L746.8 105.0 L746.8 103.5 L747.5 102.1 L748.7 100.7 L750.1 99.5 L751.2 98.4 L751.8 97.2 L751.8 95.9 L751.3 94.4 L750.6 92.7 L750.2 90.9 L750.2 89.3 L750.9 88.0 L752.3 87.2 L754.0 86.6 L755.8 86.3 L757.3 85.8 L758.4 85.1 L759.1 83.9 L759.4 82.4 L759.7 80.6 L760.1 78.8 L761.0 77.5 L762.2 76.7 L763.8 76.6 L765.6 77.0 L767.3 77.6 L768.9 78.0 L770.2 77.9 L771.3 77.2 L772.4 76.0 L773.5 74.6 L774.8 73.4 L776.2 72.6 L777.7 72.6 L779.1 73.3 L780.5 74.5 L781.7 75.9 L782.8 77.0 L784.0 77.6 L785.3 77.6 L786.8 77.1 L788.5 76.4 L790.3 76.0 L791.9 76.0 L793.2 76.7 L794.0 78.1 L794.6 79.8 L794.9 81.6 L795.4 83.1 L796.1 84.2 L797.3 84.9 L798.8 85.2 L800.6 85.5 L802.4 85.9 L803.7 86.8 L804.5 88.0 L804.6 89.6 L804.2 91.4 L803.6 93.1 L803.2 94.7 L803.3 96.0 L804.0 97.1 L805.2 98.2 L806.6 99.3 L807.8 100.6 L808.6 102.0Z" fill="url(#pg709_1)" stroke="#0a0a0a" stroke-opacity="0.4" stroke-width="0.8" filter="url(#b08)"/>
<radialGradient id="hg709_1" gradientUnits="userSpaceOnUse" cx="777.7" cy="101.0" r="18.0"><stop offset="0" stop-color="#7a7a7a"/><stop offset="0.6" stop-color="#808080"/><stop offset="1" stop-color="#b6b6b6"/></radialGradient>
<linearGradient id="hs709_1" x1="0" y1="0" x2="0.25" y2="1"><stop offset="0" stop-color="#b6b6b6" stop-opacity="0.25"/><stop offset="0.5" stop-color="#c2c2c2" stop-opacity="0.5"/><stop offset="1" stop-color="#d8d8d8" stop-opacity="0.95"/></linearGradient>
<path d="M794.8 109.0 L781.5 121.1 L764.4 115.6 L760.6 98.0 L773.9 85.9 L791.0 91.4Z" fill="url(#hg709_1)" stroke="url(#hs709_1)" stroke-width="2" stroke-linejoin="round" filter="url(#b08)"/>
<radialGradient id="pg709_2" gradientUnits="userSpaceOnUse" cx="792.9" cy="49.0" r="35.0"><stop offset="0" stop-color="#8e8e8e"/><stop offset="0.55" stop-color="#8e8e8e"/><stop offset="0.8" stop-color="#989898"/><stop offset="1" stop-color="#868686"/></radialGradient>
<path d="M827.2 49.0 L825.9 50.6 L824.4 52.0 L823.2 53.4 L822.5 54.7 L822.5 56.2 L823.0 57.8 L823.9 59.7 L824.5 61.7 L824.6 63.5 L824.0 65.0 L822.6 66.1 L820.7 66.9 L818.7 67.4 L816.9 67.9 L815.7 68.7 L814.9 70.0 L814.6 71.7 L814.4 73.8 L813.9 75.8 L813.1 77.4 L811.8 78.4 L810.0 78.7 L808.0 78.4 L806.1 77.8 L804.3 77.4 L802.7 77.4 L801.5 78.2 L800.3 79.5 L799.1 81.2 L797.7 82.7 L796.2 83.7 L794.6 83.9 L792.9 83.3 L791.3 82.0 L789.9 80.5 L788.5 79.3 L787.2 78.6 L785.7 78.6 L784.1 79.1 L782.2 80.0 L780.2 80.6 L778.4 80.7 L776.9 80.1 L775.8 78.7 L775.0 76.8 L774.5 74.8 L774.0 73.0 L773.2 71.8 L771.9 71.0 L770.2 70.7 L768.1 70.5 L766.1 70.0 L764.5 69.2 L763.5 67.9 L763.2 66.1 L763.5 64.1 L764.1 62.2 L764.5 60.4 L764.5 58.8 L763.7 57.6 L762.4 56.4 L760.7 55.2 L759.2 53.8 L758.2 52.3 L758.0 50.7 L758.6 49.0 L759.9 47.4 L761.4 46.0 L762.6 44.6 L763.3 43.3 L763.3 41.8 L762.8 40.2 L761.9 38.3 L761.3 36.3 L761.2 34.5 L761.8 33.0 L763.2 31.9 L765.1 31.1 L767.1 30.6 L768.9 30.1 L770.1 29.3 L770.9 28.0 L771.2 26.3 L771.4 24.2 L771.9 22.2 L772.7 20.6 L774.0 19.6 L775.8 19.3 L777.8 19.6 L779.7 20.2 L781.5 20.6 L783.1 20.6 L784.3 19.8 L785.5 18.5 L786.7 16.8 L788.1 15.3 L789.6 14.3 L791.2 14.1 L792.9 14.7 L794.5 16.0 L795.9 17.5 L797.3 18.7 L798.6 19.4 L800.1 19.4 L801.7 18.9 L803.6 18.0 L805.6 17.4 L807.4 17.3 L808.9 17.9 L810.0 19.3 L810.8 21.2 L811.3 23.2 L811.8 25.0 L812.6 26.2 L813.9 27.0 L815.6 27.3 L817.7 27.5 L819.7 28.0 L821.3 28.8 L822.3 30.1 L822.6 31.9 L822.3 33.9 L821.7 35.8 L821.3 37.6 L821.3 39.2 L822.1 40.4 L823.4 41.6 L825.1 42.8 L826.6 44.2 L827.6 45.7 L827.8 47.3Z" fill="url(#pg709_2)" stroke="#0a0a0a" stroke-opacity="0.4" stroke-width="0.8" filter="url(#b08)"/>
<radialGradient id="hg709_2" gradientUnits="userSpaceOnUse" cx="792.9" cy="46.2" r="20.3"><stop offset="0" stop-color="#7a7a7a"/><stop offset="0.6" stop-color="#808080"/><stop offset="1" stop-color="#b6b6b6"/></radialGradient>
<linearGradient id="hs709_2" x1="0" y1="0" x2="0.25" y2="1"><stop offset="0" stop-color="#b6b6b6" stop-opacity="0.25"/><stop offset="0.5" stop-color="#c2c2c2" stop-opacity="0.5"/><stop offset="1" stop-color="#d8d8d8" stop-opacity="0.95"/></linearGradient>
<path d="M810.8 58.7 L793.5 69.3 L775.6 59.6 L775.0 39.3 L792.3 28.7 L810.2 38.4Z" fill="url(#hg709_2)" stroke="url(#hs709_2)" stroke-width="2" stroke-linejoin="round" filter="url(#b08)"/>
<radialGradient id="pg709_3" gradientUnits="userSpaceOnUse" cx="917.3" cy="67.2" r="33.5"><stop offset="0" stop-color="#8e8e8e"/><stop offset="0.55" stop-color="#8e8e8e"/><stop offset="0.8" stop-color="#989898"/><stop offset="1" stop-color="#868686"/></radialGradient>
<path d="M950.8 67.2 L950.1 68.8 L948.8 70.2 L947.4 71.5 L946.1 72.7 L945.3 74.0 L945.2 75.4 L945.7 77.0 L946.3 78.8 L946.9 80.7 L946.9 82.5 L946.3 83.9 L944.9 85.0 L943.1 85.6 L941.2 86.0 L939.4 86.4 L938.2 87.1 L937.4 88.2 L936.9 89.9 L936.6 91.8 L936.2 93.7 L935.3 95.2 L934.0 96.2 L932.3 96.4 L930.5 96.0 L928.6 95.4 L926.9 94.9 L925.4 94.9 L924.2 95.5 L923.0 96.7 L921.8 98.2 L920.4 99.6 L918.9 100.5 L917.3 100.7 L915.7 100.0 L914.3 98.7 L913.0 97.3 L911.8 96.0 L910.5 95.2 L909.1 95.1 L907.5 95.6 L905.7 96.2 L903.8 96.8 L902.0 96.8 L900.6 96.2 L899.5 94.8 L898.9 93.0 L898.5 91.1 L898.1 89.3 L897.4 88.1 L896.3 87.3 L894.6 86.8 L892.7 86.5 L890.8 86.1 L889.3 85.2 L888.3 83.9 L888.1 82.2 L888.5 80.4 L889.1 78.5 L889.6 76.8 L889.6 75.3 L889.0 74.1 L887.8 72.9 L886.3 71.7 L884.9 70.3 L884.0 68.8 L883.8 67.2 L884.5 65.6 L885.8 64.2 L887.2 62.9 L888.5 61.7 L889.3 60.4 L889.4 59.0 L888.9 57.4 L888.3 55.6 L887.7 53.7 L887.7 51.9 L888.3 50.5 L889.7 49.4 L891.5 48.8 L893.4 48.4 L895.2 48.0 L896.4 47.3 L897.2 46.2 L897.7 44.5 L898.0 42.6 L898.4 40.7 L899.3 39.2 L900.6 38.2 L902.3 38.0 L904.1 38.4 L906.0 39.0 L907.7 39.5 L909.2 39.5 L910.4 38.9 L911.6 37.7 L912.8 36.2 L914.2 34.8 L915.7 33.9 L917.3 33.7 L918.9 34.4 L920.3 35.7 L921.6 37.1 L922.8 38.4 L924.1 39.2 L925.5 39.3 L927.1 38.8 L928.9 38.2 L930.8 37.6 L932.6 37.6 L934.0 38.2 L935.1 39.6 L935.7 41.4 L936.1 43.3 L936.5 45.1 L937.2 46.3 L938.3 47.1 L940.0 47.6 L941.9 47.9 L943.8 48.3 L945.3 49.2 L946.3 50.5 L946.5 52.2 L946.1 54.0 L945.5 55.9 L945.0 57.6 L945.0 59.1 L945.6 60.3 L946.8 61.5 L948.3 62.7 L949.7 64.1 L950.6 65.6Z" fill="url(#pg709_3)" stroke="#0a0a0a" stroke-opacity="0.4" stroke-width="0.8" filter="url(#b08)"/>
<radialGradient id="hg709_3" gradientUnits="userSpaceOnUse" cx="917.3" cy="64.5" r="19.4"><stop offset="0" stop-color="#7a7a7a"/><stop offset="0.6" stop-color="#808080"/><stop offset="1" stop-color="#b6b6b6"/></radialGradient>
<linearGradient id="hs709_3" x1="0" y1="0" x2="0.25" y2="1"><stop offset="0" stop-color="#b6b6b6" stop-opacity="0.25"/><stop offset="0.5" stop-color="#c2c2c2" stop-opacity="0.5"/><stop offset="1" stop-color="#d8d8d8" stop-opacity="0.95"/></linearGradient>
<path d="M936.0 72.5 L922.1 86.0 L903.4 80.8 L898.6 61.9 L912.5 48.4 L931.2 53.6Z" fill="url(#hg709_3)" stroke="url(#hs709_3)" stroke-width="2" stroke-linejoin="round" filter="url(#b08)"/>
<radialGradient id="pg709_4" gradientUnits="userSpaceOnUse" cx="869.3" cy="167.6" r="31.5"><stop offset="0" stop-color="#8e8e8e"/><stop offset="0.55" stop-color="#8e8e8e"/><stop offset="0.8" stop-color="#989898"/><stop offset="1" stop-color="#868686"/></radialGradient>
<path d="M898.3 167.6 L897.1 168.9 L896.4 170.2 L896.2 171.5 L896.6 172.9 L897.4 174.4 L898.3 176.1 L898.7 177.8 L898.5 179.3 L897.6 180.5 L896.2 181.5 L894.4 182.1 L892.7 182.7 L891.4 183.4 L890.7 184.4 L890.3 185.8 L890.3 187.6 L890.1 189.4 L889.7 191.1 L888.8 192.4 L887.4 193.0 L885.6 193.0 L883.8 192.7 L882.1 192.4 L880.6 192.3 L879.4 192.8 L878.4 193.9 L877.5 195.4 L876.4 196.9 L875.2 198.2 L873.8 198.8 L872.3 198.6 L870.7 197.8 L869.3 196.6 L868.0 195.4 L866.7 194.7 L865.4 194.5 L864.0 194.9 L862.5 195.7 L860.8 196.6 L859.1 197.0 L857.6 196.8 L856.4 195.9 L855.4 194.5 L854.8 192.7 L854.2 191.0 L853.5 189.7 L852.5 189.0 L851.1 188.6 L849.3 188.6 L847.5 188.4 L845.8 188.0 L844.5 187.1 L843.9 185.7 L843.9 183.9 L844.2 182.1 L844.5 180.4 L844.6 178.9 L844.1 177.7 L843.0 176.7 L841.5 175.8 L840.0 174.7 L838.7 173.5 L838.1 172.1 L838.3 170.6 L839.1 169.0 L840.3 167.6 L841.5 166.3 L842.2 165.0 L842.4 163.7 L842.0 162.3 L841.2 160.8 L840.3 159.1 L839.9 157.4 L840.1 155.9 L841.0 154.7 L842.4 153.7 L844.2 153.1 L845.9 152.5 L847.2 151.8 L847.9 150.8 L848.3 149.4 L848.3 147.6 L848.5 145.8 L848.9 144.1 L849.8 142.8 L851.2 142.2 L853.0 142.2 L854.8 142.5 L856.5 142.8 L858.0 142.9 L859.2 142.4 L860.2 141.3 L861.1 139.8 L862.2 138.3 L863.4 137.0 L864.8 136.4 L866.3 136.6 L867.9 137.4 L869.3 138.6 L870.6 139.8 L871.9 140.5 L873.2 140.7 L874.6 140.3 L876.1 139.5 L877.8 138.6 L879.5 138.2 L881.0 138.4 L882.2 139.3 L883.2 140.7 L883.8 142.5 L884.4 144.2 L885.1 145.5 L886.1 146.2 L887.5 146.6 L889.3 146.6 L891.1 146.8 L892.8 147.2 L894.1 148.1 L894.7 149.5 L894.7 151.3 L894.4 153.1 L894.1 154.8 L894.0 156.3 L894.5 157.5 L895.6 158.5 L897.1 159.4 L898.6 160.5 L899.9 161.7 L900.5 163.1 L900.3 164.6 L899.5 166.2Z" fill="url(#pg709_4)" stroke="#0a0a0a" stroke-opacity="0.4" stroke-width="0.8" filter="url(#b08)"/>
<radialGradient id="hg709_4" gradientUnits="userSpaceOnUse" cx="869.3" cy="165.1" r="18.3"><stop offset="0" stop-color="#7a7a7a"/><stop offset="0.6" stop-color="#808080"/><stop offset="1" stop-color="#b6b6b6"/></radialGradient>
<linearGradient id="hs709_4" x1="0" y1="0" x2="0.25" y2="1"><stop offset="0" stop-color="#b6b6b6" stop-opacity="0.25"/><stop offset="0.5" stop-color="#c2c2c2" stop-opacity="0.5"/><stop offset="1" stop-color="#d8d8d8" stop-opacity="0.95"/></linearGradient>
<path d="M881.6 181.1 L863.8 185.0 L851.5 171.6 L857.0 154.1 L874.8 150.2 L887.1 163.6Z" fill="url(#hg709_4)" stroke="url(#hs709_4)" stroke-width="2" stroke-linejoin="round" filter="url(#b08)"/>
<radialGradient id="pg709_5" gradientUnits="userSpaceOnUse" cx="940.8" cy="165.4" r="33.5"><stop offset="0" stop-color="#8e8e8e"/><stop offset="0.55" stop-color="#8e8e8e"/><stop offset="0.8" stop-color="#989898"/><stop offset="1" stop-color="#868686"/></radialGradient>
<path d="M970.1 165.4 L969.6 166.8 L969.8 168.2 L970.5 169.7 L971.6 171.3 L972.4 173.1 L972.8 174.8 L972.4 176.3 L971.3 177.6 L969.6 178.5 L967.8 179.3 L966.2 180.0 L965.0 181.0 L964.5 182.3 L964.4 184.0 L964.5 185.9 L964.4 187.9 L963.8 189.5 L962.7 190.7 L961.1 191.2 L959.2 191.2 L957.2 190.9 L955.4 190.8 L954.0 191.0 L952.9 191.9 L952.0 193.3 L951.0 195.0 L950.0 196.6 L948.7 197.8 L947.1 198.2 L945.5 197.9 L943.8 196.9 L942.2 195.7 L940.8 194.7 L939.4 194.2 L938.0 194.4 L936.5 195.1 L934.9 196.2 L933.1 197.0 L931.4 197.4 L929.9 197.0 L928.6 195.9 L927.7 194.2 L926.9 192.4 L926.2 190.8 L925.2 189.6 L923.9 189.1 L922.2 189.0 L920.3 189.1 L918.3 189.0 L916.7 188.4 L915.5 187.3 L915.0 185.7 L915.0 183.8 L915.3 181.8 L915.4 180.0 L915.2 178.6 L914.3 177.5 L912.9 176.6 L911.2 175.6 L909.6 174.6 L908.4 173.3 L908.0 171.7 L908.3 170.1 L909.3 168.4 L910.5 166.8 L911.5 165.4 L912.0 164.0 L911.8 162.6 L911.1 161.1 L910.0 159.5 L909.2 157.7 L908.8 156.0 L909.2 154.5 L910.3 153.2 L912.0 152.3 L913.8 151.5 L915.4 150.8 L916.6 149.8 L917.1 148.5 L917.2 146.8 L917.1 144.9 L917.2 142.9 L917.8 141.3 L918.9 140.1 L920.5 139.6 L922.4 139.6 L924.4 139.9 L926.2 140.0 L927.6 139.8 L928.7 138.9 L929.6 137.5 L930.6 135.8 L931.6 134.2 L932.9 133.0 L934.5 132.6 L936.1 132.9 L937.8 133.9 L939.4 135.1 L940.8 136.1 L942.2 136.6 L943.6 136.4 L945.1 135.7 L946.7 134.6 L948.5 133.8 L950.2 133.4 L951.7 133.8 L953.0 134.9 L953.9 136.6 L954.7 138.4 L955.4 140.0 L956.4 141.2 L957.7 141.7 L959.4 141.8 L961.3 141.7 L963.3 141.8 L964.9 142.4 L966.1 143.5 L966.6 145.1 L966.6 147.0 L966.3 149.0 L966.2 150.8 L966.4 152.2 L967.3 153.3 L968.7 154.2 L970.4 155.2 L972.0 156.2 L973.2 157.5 L973.6 159.1 L973.3 160.7 L972.3 162.4 L971.1 164.0Z" fill="url(#pg709_5)" stroke="#0a0a0a" stroke-opacity="0.4" stroke-width="0.8" filter="url(#b08)"/>
<radialGradient id="hg709_5" gradientUnits="userSpaceOnUse" cx="940.8" cy="162.7" r="19.4"><stop offset="0" stop-color="#7a7a7a"/><stop offset="0.6" stop-color="#808080"/><stop offset="1" stop-color="#b6b6b6"/></radialGradient>
<linearGradient id="hs709_5" x1="0" y1="0" x2="0.25" y2="1"><stop offset="0" stop-color="#b6b6b6" stop-opacity="0.25"/><stop offset="0.5" stop-color="#c2c2c2" stop-opacity="0.5"/><stop offset="1" stop-color="#d8d8d8" stop-opacity="0.95"/></linearGradient>
<path d="M949.2 182.9 L929.8 181.4 L921.4 163.9 L932.4 147.9 L951.8 149.4 L960.2 166.9Z" fill="url(#hg709_5)" stroke="url(#hs709_5)" stroke-width="2" stroke-linejoin="round" filter="url(#b08)"/>
<rect x="709.6" y="4.0" width="288.8" height="201.6" filter="url(#grain)" opacity="0.07"/>
<rect x="709.6" y="4.0" width="288.8" height="201.6" filter="url(#grainD)" opacity="0.14"/>
<rect x="709.6" y="205.6" width="288.8" height="14.4" fill="#000"/>
<text x="712.0" y="217.2" font-size="8.6" font-family="Liberation Sans, sans-serif" fill="#f0f0f0" textLength="111" lengthAdjust="spacingAndGlyphs">SU8200 3.0kV x100k SE(UL)</text>
<text x="967.0" y="217.2" font-size="8.6" font-family="Liberation Sans, sans-serif" fill="#f0f0f0" textLength="25.8" lengthAdjust="spacingAndGlyphs">500nm</text>
<rect x="876.5" y="205.9" width="1" height="3.1" fill="#e8e8e8"/>
<rect x="888.0" y="205.9" width="1" height="2.7" fill="#e8e8e8"/>
<rect x="899.6" y="205.9" width="1" height="2.7" fill="#e8e8e8"/>
<rect x="911.1" y="205.9" width="1" height="2.7" fill="#e8e8e8"/>
<rect x="922.7" y="205.9" width="1" height="2.7" fill="#e8e8e8"/>
<rect x="934.2" y="205.9" width="1" height="3.1" fill="#e8e8e8"/>
<rect x="945.7" y="205.9" width="1" height="2.7" fill="#e8e8e8"/>
<rect x="957.3" y="205.9" width="1" height="2.7" fill="#e8e8e8"/>
<rect x="968.8" y="205.9" width="1" height="2.7" fill="#e8e8e8"/>
<rect x="980.4" y="205.9" width="1" height="2.7" fill="#e8e8e8"/>
<rect x="991.9" y="205.9" width="1" height="3.1" fill="#e8e8e8"/>
</g>
<g>
<rect x="35.8" y="249.2" width="295.0" height="294.6" fill="url(#bgD)"/>
<rect x="35.8" y="249.2" width="295.0" height="294.6" filter="url(#grainD)" opacity="0.05"/>
<g filter="url(#b09)">
<path d="M161.0 317.6 L160.9 318.5 L160.7 319.3 L160.3 320.1 L159.8 320.9 L159.2 321.6 L158.4 322.2 L158.6 323.1 L158.7 324.1 L158.8 325.0 L158.7 325.9 L158.4 326.7 L158.1 327.5 L157.6 328.3 L157.0 328.9 L156.3 329.5 L155.6 330.0 L154.8 330.4 L153.9 330.6 L152.9 330.7 L152.3 331.3 L152.0 332.2 L151.5 332.9 L150.9 333.6 L150.2 334.2 L149.4 334.6 L148.6 335.0 L147.8 335.2 L146.9 335.3 L146.0 335.3 L145.1 335.1 L144.2 334.8 L143.4 334.3 L142.6 334.2 L141.8 334.8 L140.9 335.2 L140.0 335.4 L139.2 335.5 L138.3 335.4 L137.4 335.3 L136.6 335.0 L135.8 334.5 L135.1 334.0 L134.5 333.4 L133.9 332.6 L133.5 331.8 L133.0 331.0 L132.0 331.1 L131.1 330.9 L130.2 330.6 L129.5 330.1 L128.8 329.6 L128.1 329.0 L127.6 328.3 L127.2 327.5 L126.9 326.7 L126.8 325.8 L126.7 324.9 L126.8 323.9 L127.2 322.9 L126.3 322.4 L125.6 321.7 L125.1 321.0 L124.7 320.2 L124.4 319.3 L124.2 318.5 L124.2 317.6 L124.3 316.7 L124.5 315.9 L124.9 315.1 L125.4 314.3 L126.0 313.6 L126.8 313.0 L126.6 312.1 L126.5 311.1 L126.4 310.2 L126.5 309.3 L126.8 308.5 L127.1 307.7 L127.6 306.9 L128.2 306.3 L128.9 305.7 L129.6 305.2 L130.4 304.8 L131.3 304.6 L132.3 304.5 L132.9 303.9 L133.2 303.0 L133.7 302.3 L134.3 301.6 L135.0 301.0 L135.8 300.6 L136.6 300.2 L137.4 300.0 L138.3 299.9 L139.2 299.9 L140.1 300.1 L141.0 300.4 L141.8 300.9 L142.6 301.0 L143.4 300.4 L144.3 300.0 L145.2 299.8 L146.0 299.7 L146.9 299.8 L147.8 299.9 L148.6 300.2 L149.4 300.7 L150.1 301.2 L150.7 301.8 L151.3 302.6 L151.7 303.4 L152.2 304.2 L153.2 304.1 L154.1 304.3 L155.0 304.6 L155.7 305.1 L156.4 305.6 L157.1 306.2 L157.6 306.9 L158.0 307.7 L158.3 308.5 L158.4 309.4 L158.5 310.3 L158.4 311.3 L158.0 312.3 L158.9 312.8 L159.6 313.5 L160.1 314.2 L160.5 315.0 L160.8 315.9 L161.0 316.7Z" fill="#070707"/>
<path d="M194.4 327.9 L194.2 328.7 L193.8 329.5 L193.3 330.3 L192.7 331.0 L192.5 331.7 L192.8 332.6 L192.9 333.5 L192.9 334.4 L192.8 335.2 L192.6 336.0 L192.2 336.8 L191.7 337.5 L191.2 338.1 L190.5 338.7 L189.8 339.1 L188.9 339.5 L188.0 339.7 L187.3 340.0 L187.1 340.9 L186.7 341.8 L186.2 342.5 L185.6 343.1 L184.9 343.7 L184.2 344.1 L183.4 344.4 L182.6 344.6 L181.7 344.7 L180.9 344.6 L180.0 344.5 L179.1 344.1 L178.3 343.6 L177.6 344.4 L176.8 344.8 L176.0 345.2 L175.1 345.4 L174.3 345.4 L173.4 345.4 L172.6 345.2 L171.8 344.9 L171.1 344.5 L170.4 343.9 L169.8 343.3 L169.2 342.6 L168.9 341.6 L167.9 341.7 L167.0 341.6 L166.2 341.4 L165.3 341.1 L164.6 340.7 L163.9 340.2 L163.4 339.6 L162.9 338.9 L162.5 338.1 L162.2 337.3 L162.1 336.4 L162.1 335.5 L162.2 334.5 L161.7 333.9 L160.9 333.4 L160.3 332.7 L159.8 332.0 L159.5 331.2 L159.2 330.4 L159.1 329.6 L159.1 328.7 L159.2 327.9 L159.4 327.1 L159.8 326.3 L160.3 325.5 L160.9 324.8 L161.1 324.1 L160.8 323.2 L160.7 322.3 L160.7 321.4 L160.8 320.6 L161.0 319.8 L161.4 319.0 L161.9 318.3 L162.4 317.7 L163.1 317.1 L163.8 316.7 L164.7 316.3 L165.6 316.1 L166.3 315.8 L166.5 314.9 L166.9 314.0 L167.4 313.3 L168.0 312.7 L168.7 312.1 L169.4 311.7 L170.2 311.4 L171.0 311.2 L171.9 311.1 L172.7 311.2 L173.6 311.3 L174.5 311.7 L175.3 312.2 L176.0 311.4 L176.8 311.0 L177.6 310.6 L178.5 310.4 L179.3 310.4 L180.2 310.4 L181.0 310.6 L181.8 310.9 L182.5 311.3 L183.2 311.9 L183.8 312.5 L184.4 313.2 L184.7 314.2 L185.7 314.1 L186.6 314.2 L187.4 314.4 L188.3 314.7 L189.0 315.1 L189.7 315.6 L190.2 316.2 L190.7 316.9 L191.1 317.7 L191.4 318.5 L191.5 319.4 L191.5 320.3 L191.4 321.3 L191.9 321.9 L192.7 322.4 L193.3 323.1 L193.8 323.8 L194.1 324.6 L194.4 325.4 L194.5 326.2 L194.5 327.1Z" fill="#070707"/>
<path d="M306.2 369.0 L306.1 369.8 L305.8 370.6 L305.4 371.4 L304.8 372.1 L304.1 372.7 L304.1 373.5 L304.4 374.4 L304.5 375.2 L304.4 376.1 L304.2 376.9 L303.9 377.7 L303.5 378.4 L303.0 379.1 L302.4 379.6 L301.8 380.1 L301.0 380.5 L300.2 380.8 L299.3 380.9 L298.6 381.4 L298.4 382.3 L297.9 383.0 L297.4 383.7 L296.8 384.3 L296.1 384.8 L295.4 385.2 L294.6 385.4 L293.8 385.6 L292.9 385.6 L292.1 385.5 L291.2 385.2 L290.4 384.9 L289.6 384.6 L288.9 385.2 L288.1 385.6 L287.3 385.9 L286.5 386.0 L285.6 386.0 L284.8 385.9 L284.0 385.7 L283.2 385.3 L282.5 384.9 L281.9 384.3 L281.3 383.7 L280.9 382.9 L280.6 382.0 L279.6 382.1 L278.7 382.0 L277.8 381.8 L277.1 381.4 L276.4 380.9 L275.8 380.4 L275.2 379.8 L274.8 379.0 L274.5 378.3 L274.3 377.5 L274.2 376.6 L274.2 375.7 L274.5 374.8 L273.8 374.2 L273.1 373.6 L272.6 373.0 L272.1 372.2 L271.8 371.5 L271.6 370.7 L271.5 369.8 L271.6 369.0 L271.7 368.2 L272.0 367.4 L272.4 366.6 L273.0 365.9 L273.7 365.3 L273.7 364.5 L273.4 363.6 L273.3 362.8 L273.4 361.9 L273.6 361.1 L273.9 360.3 L274.3 359.6 L274.8 358.9 L275.4 358.4 L276.0 357.9 L276.8 357.5 L277.6 357.2 L278.5 357.1 L279.2 356.6 L279.4 355.7 L279.9 355.0 L280.4 354.3 L281.0 353.7 L281.7 353.2 L282.4 352.8 L283.2 352.6 L284.0 352.4 L284.9 352.4 L285.7 352.5 L286.6 352.8 L287.4 353.1 L288.2 353.4 L288.9 352.8 L289.7 352.4 L290.5 352.1 L291.3 352.0 L292.2 352.0 L293.0 352.1 L293.8 352.3 L294.6 352.7 L295.3 353.1 L295.9 353.7 L296.5 354.3 L296.9 355.1 L297.2 356.0 L298.2 355.9 L299.1 356.0 L300.0 356.2 L300.7 356.6 L301.4 357.1 L302.0 357.6 L302.6 358.2 L303.0 359.0 L303.3 359.7 L303.5 360.5 L303.6 361.4 L303.6 362.3 L303.3 363.2 L304.0 363.8 L304.7 364.4 L305.2 365.0 L305.7 365.8 L306.0 366.5 L306.2 367.3 L306.3 368.2Z" fill="#070707"/>
<path d="M329.0 408.4 L328.6 409.2 L328.0 410.0 L328.0 410.8 L328.4 411.6 L328.6 412.5 L328.7 413.4 L328.6 414.3 L328.5 415.1 L328.2 416.0 L327.7 416.7 L327.2 417.4 L326.6 418.0 L325.9 418.6 L325.0 419.0 L324.1 419.3 L323.5 419.7 L323.3 420.7 L323.0 421.6 L322.6 422.4 L322.0 423.1 L321.4 423.7 L320.7 424.2 L319.9 424.6 L319.1 424.8 L318.2 425.0 L317.3 425.0 L316.4 424.9 L315.5 424.6 L314.7 424.4 L314.0 425.1 L313.3 425.7 L312.4 426.1 L311.6 426.4 L310.7 426.5 L309.9 426.5 L309.0 426.4 L308.2 426.2 L307.4 425.8 L306.6 425.3 L305.9 424.7 L305.4 424.0 L304.9 423.0 L303.9 423.3 L303.0 423.4 L302.1 423.2 L301.2 423.0 L300.4 422.6 L299.7 422.1 L299.0 421.6 L298.5 420.9 L298.0 420.2 L297.7 419.3 L297.5 418.5 L297.4 417.5 L297.5 416.5 L296.8 416.1 L296.0 415.5 L295.3 414.9 L294.7 414.2 L294.3 413.5 L293.9 412.7 L293.7 411.8 L293.6 411.0 L293.7 410.1 L293.9 409.2 L294.2 408.4 L294.6 407.6 L295.2 406.8 L295.2 406.0 L294.8 405.2 L294.6 404.3 L294.5 403.4 L294.6 402.5 L294.7 401.7 L295.0 400.8 L295.5 400.1 L296.0 399.4 L296.6 398.8 L297.3 398.2 L298.2 397.8 L299.1 397.5 L299.7 397.1 L299.9 396.1 L300.2 395.2 L300.6 394.4 L301.2 393.7 L301.8 393.1 L302.5 392.6 L303.3 392.2 L304.1 392.0 L305.0 391.8 L305.9 391.8 L306.8 391.9 L307.7 392.2 L308.5 392.4 L309.2 391.7 L309.9 391.1 L310.8 390.7 L311.6 390.4 L312.5 390.3 L313.3 390.3 L314.2 390.4 L315.0 390.6 L315.8 391.0 L316.6 391.5 L317.3 392.1 L317.8 392.8 L318.3 393.8 L319.3 393.5 L320.2 393.4 L321.1 393.6 L322.0 393.8 L322.8 394.2 L323.5 394.7 L324.2 395.2 L324.7 395.9 L325.2 396.6 L325.5 397.5 L325.7 398.3 L325.8 399.3 L325.7 400.3 L326.4 400.7 L327.2 401.3 L327.9 401.9 L328.5 402.6 L328.9 403.3 L329.3 404.1 L329.5 405.0 L329.6 405.8 L329.5 406.7 L329.3 407.6Z" fill="#070707"/>
<path d="M72.2 456.8 L72.0 457.6 L71.7 458.5 L71.2 459.2 L70.5 459.9 L70.1 460.7 L70.5 461.6 L70.6 462.5 L70.7 463.4 L70.5 464.3 L70.3 465.1 L70.0 465.9 L69.5 466.6 L68.9 467.3 L68.3 467.9 L67.5 468.3 L66.7 468.7 L65.8 468.9 L64.8 469.0 L64.6 470.1 L64.2 470.9 L63.8 471.7 L63.2 472.3 L62.5 472.9 L61.8 473.3 L61.0 473.7 L60.1 473.9 L59.3 474.0 L58.4 474.0 L57.5 473.8 L56.6 473.5 L55.7 472.9 L55.0 473.5 L54.2 474.0 L53.4 474.4 L52.5 474.6 L51.6 474.7 L50.8 474.6 L49.9 474.5 L49.1 474.2 L48.3 473.8 L47.6 473.3 L47.0 472.6 L46.4 471.9 L46.0 471.0 L45.2 470.8 L44.3 470.8 L43.4 470.6 L42.5 470.3 L41.7 469.9 L41.1 469.3 L40.4 468.7 L39.9 468.0 L39.5 467.2 L39.2 466.4 L39.1 465.5 L39.0 464.6 L39.2 463.7 L38.9 462.9 L38.1 462.4 L37.4 461.7 L36.9 461.0 L36.5 460.2 L36.2 459.4 L36.1 458.5 L36.1 457.7 L36.2 456.8 L36.4 456.0 L36.7 455.1 L37.2 454.4 L37.9 453.7 L38.3 452.9 L37.9 452.0 L37.8 451.1 L37.7 450.2 L37.9 449.3 L38.1 448.5 L38.4 447.7 L38.9 447.0 L39.5 446.3 L40.1 445.7 L40.9 445.3 L41.7 444.9 L42.6 444.7 L43.6 444.6 L43.8 443.5 L44.2 442.7 L44.6 441.9 L45.2 441.3 L45.9 440.7 L46.6 440.3 L47.4 439.9 L48.3 439.7 L49.1 439.6 L50.0 439.6 L50.9 439.8 L51.8 440.1 L52.7 440.7 L53.4 440.1 L54.2 439.6 L55.0 439.2 L55.9 439.0 L56.8 438.9 L57.6 439.0 L58.5 439.1 L59.3 439.4 L60.1 439.8 L60.8 440.3 L61.4 441.0 L62.0 441.7 L62.4 442.6 L63.2 442.8 L64.1 442.8 L65.0 443.0 L65.9 443.3 L66.7 443.7 L67.3 444.3 L68.0 444.9 L68.5 445.6 L68.9 446.4 L69.2 447.2 L69.3 448.1 L69.4 449.0 L69.2 449.9 L69.5 450.7 L70.3 451.2 L71.0 451.9 L71.5 452.6 L71.9 453.4 L72.2 454.2 L72.3 455.1 L72.3 455.9Z" fill="#070707"/>
<path d="M108.8 462.9 L108.5 463.7 L107.9 464.5 L107.1 465.2 L107.7 466.1 L108.0 467.0 L108.1 467.9 L108.1 468.8 L108.0 469.6 L107.7 470.5 L107.4 471.2 L106.9 472.0 L106.3 472.6 L105.6 473.2 L104.9 473.6 L104.0 474.0 L103.0 474.1 L102.7 475.0 L102.5 475.9 L102.1 476.7 L101.6 477.4 L101.0 478.1 L100.3 478.6 L99.5 479.1 L98.7 479.4 L97.9 479.6 L97.0 479.7 L96.1 479.6 L95.2 479.4 L94.3 479.1 L93.6 479.3 L92.8 479.9 L92.0 480.4 L91.2 480.7 L90.3 480.9 L89.5 481.0 L88.6 480.9 L87.8 480.7 L86.9 480.4 L86.2 480.0 L85.5 479.5 L84.8 478.8 L84.3 478.0 L83.7 477.5 L82.7 477.6 L81.8 477.6 L80.9 477.4 L80.1 477.0 L79.3 476.6 L78.6 476.1 L78.0 475.4 L77.5 474.7 L77.2 473.9 L76.9 473.1 L76.7 472.2 L76.7 471.3 L76.8 470.3 L75.8 469.9 L75.1 469.3 L74.5 468.7 L74.0 468.0 L73.6 467.2 L73.3 466.3 L73.2 465.5 L73.2 464.6 L73.3 463.8 L73.6 462.9 L73.9 462.1 L74.5 461.3 L75.3 460.6 L74.7 459.7 L74.4 458.8 L74.3 457.9 L74.3 457.0 L74.4 456.2 L74.7 455.3 L75.0 454.6 L75.5 453.8 L76.1 453.2 L76.8 452.6 L77.5 452.2 L78.4 451.8 L79.4 451.7 L79.7 450.8 L79.9 449.9 L80.3 449.1 L80.8 448.4 L81.4 447.7 L82.1 447.2 L82.9 446.7 L83.7 446.4 L84.5 446.2 L85.4 446.1 L86.3 446.2 L87.2 446.4 L88.1 446.7 L88.8 446.5 L89.6 445.9 L90.4 445.4 L91.2 445.1 L92.1 444.9 L92.9 444.8 L93.8 444.9 L94.6 445.1 L95.5 445.4 L96.2 445.8 L96.9 446.3 L97.6 447.0 L98.1 447.8 L98.7 448.3 L99.7 448.2 L100.6 448.2 L101.5 448.4 L102.3 448.8 L103.1 449.2 L103.8 449.7 L104.4 450.4 L104.9 451.1 L105.2 451.9 L105.5 452.7 L105.7 453.6 L105.7 454.5 L105.6 455.5 L106.6 455.9 L107.3 456.5 L107.9 457.1 L108.4 457.8 L108.8 458.6 L109.1 459.5 L109.2 460.3 L109.2 461.2 L109.1 462.0Z" fill="#070707"/>
<path d="M165.7 473.2 L165.6 474.0 L165.4 474.8 L165.1 475.6 L164.6 476.4 L164.1 477.1 L163.5 477.7 L163.1 478.4 L163.3 479.3 L163.3 480.2 L163.3 481.0 L163.1 481.9 L162.8 482.6 L162.4 483.4 L161.9 484.1 L161.4 484.7 L160.7 485.2 L160.0 485.7 L159.3 486.1 L158.4 486.4 L157.6 486.5 L156.6 486.5 L156.1 487.1 L155.7 487.9 L155.1 488.5 L154.5 489.1 L153.8 489.6 L153.0 490.0 L152.2 490.3 L151.4 490.5 L150.6 490.6 L149.8 490.5 L148.9 490.4 L148.1 490.2 L147.3 489.8 L146.6 489.3 L145.9 488.6 L145.0 489.1 L144.2 489.4 L143.3 489.5 L142.5 489.5 L141.6 489.4 L140.8 489.2 L140.0 488.8 L139.3 488.4 L138.6 487.9 L138.0 487.3 L137.5 486.7 L137.1 485.9 L136.7 485.1 L136.5 484.2 L136.1 483.6 L135.2 483.3 L134.4 482.9 L133.7 482.4 L133.1 481.9 L132.6 481.2 L132.1 480.5 L131.8 479.7 L131.5 478.9 L131.3 478.1 L131.3 477.3 L131.4 476.4 L131.5 475.6 L131.8 474.8 L132.3 474.0 L132.1 473.2 L131.6 472.4 L131.3 471.6 L131.1 470.8 L131.0 469.9 L131.1 469.1 L131.2 468.2 L131.5 467.4 L131.8 466.7 L132.3 466.0 L132.8 465.3 L133.4 464.7 L134.1 464.2 L134.9 463.8 L135.9 463.6 L135.8 462.6 L136.1 461.7 L136.4 460.9 L136.8 460.2 L137.3 459.5 L137.9 458.9 L138.6 458.4 L139.3 458.0 L140.1 457.6 L140.9 457.4 L141.7 457.3 L142.6 457.3 L143.5 457.4 L144.3 457.6 L145.1 457.6 L145.8 457.0 L146.5 456.5 L147.3 456.2 L148.1 455.9 L148.9 455.8 L149.8 455.7 L150.6 455.8 L151.4 456.0 L152.2 456.2 L153.0 456.6 L153.7 457.1 L154.3 457.7 L154.9 458.3 L155.3 459.2 L156.1 459.3 L157.0 459.3 L157.9 459.5 L158.7 459.7 L159.5 460.1 L160.2 460.5 L160.8 461.1 L161.4 461.7 L161.9 462.4 L162.3 463.1 L162.6 463.9 L162.8 464.7 L162.9 465.6 L162.8 466.5 L162.5 467.4 L163.4 467.9 L164.1 468.5 L164.6 469.2 L165.0 469.9 L165.3 470.7 L165.6 471.5 L165.7 472.4Z" fill="#070707"/>
</g>
<rect x="286.1" y="534.70" width="36.7" height="1.8" fill="#000"/>
<text x="286.7" y="531.7" font-size="9.7" font-family="Liberation Serif, serif" font-weight="bold" fill="#000" textLength="32.4" lengthAdjust="spacingAndGlyphs">200 nm</text>
</g>
<path d="M139.5 334 l3 5.5 l4 -4.5z" fill="#2a2a2a" filter="url(#b05)"/>
<path d="M83 479 l4 4.5 l5 -3z" fill="#6a6a6a" filter="url(#b05)"/>
<g stroke="#bdbdbd" stroke-width="1.1" stroke-linecap="round" filter="url(#b05)" fill="none"><path d="M195.5 365 l4.5 -2.5"/><path d="M240.5 348.5 l3.5 -2.5"/><path d="M231.5 333 l2.5 -2.2"/><path d="M288.5 299 l1 2.5"/><path d="M150.5 373 l1.2 1.8"/><path d="M95.5 434 l2.5 2.5"/><path d="M62 392 l1.5 3"/></g>
<g>
<rect x="370.7" y="249.1" width="296.0" height="295.2" fill="#f4f4f4"/>
<rect x="370.7" y="249.1" width="296.0" height="295.2" filter="url(#grainD)" opacity="0.05"/>
<g filter="url(#b09)">
<path d="M666.0 290.3 L665.8 291.1 L665.4 291.8 L664.7 292.5 L664.1 293.2 L663.5 293.8 L663.2 294.4 L663.1 295.1 L663.3 295.9 L663.5 296.8 L663.6 297.7 L663.6 298.6 L663.3 299.4 L662.8 300.0 L662.0 300.3 L661.1 300.6 L660.2 300.7 L659.4 301.0 L658.7 301.3 L658.3 301.9 L658.0 302.6 L657.7 303.5 L657.3 304.4 L656.8 305.1 L656.2 305.6 L655.4 305.8 L654.5 305.7 L653.6 305.4 L652.8 305.0 L652.0 304.8 L651.3 304.7 L650.6 305.0 L649.9 305.4 L649.2 306.0 L648.4 306.5 L647.6 306.9 L646.8 306.9 L646.0 306.7 L645.4 306.1 L644.8 305.4 L644.2 304.6 L643.7 304.0 L643.1 303.6 L642.4 303.4 L641.6 303.4 L640.7 303.5 L639.8 303.5 L638.9 303.4 L638.2 303.0 L637.7 302.4 L637.4 301.5 L637.3 300.6 L637.3 299.7 L637.2 298.8 L636.9 298.2 L636.4 297.7 L635.7 297.2 L634.9 296.8 L634.1 296.3 L633.5 295.7 L633.1 295.0 L633.0 294.2 L633.2 293.4 L633.7 292.5 L634.1 291.7 L634.5 291.0 L634.6 290.3 L634.5 289.6 L634.1 288.9 L633.7 288.1 L633.2 287.2 L633.0 286.4 L633.1 285.6 L633.5 284.9 L634.1 284.3 L634.9 283.8 L635.7 283.4 L636.4 282.9 L636.9 282.4 L637.2 281.8 L637.3 280.9 L637.3 280.0 L637.4 279.1 L637.7 278.2 L638.2 277.6 L638.9 277.2 L639.8 277.1 L640.7 277.1 L641.6 277.2 L642.4 277.2 L643.1 277.0 L643.7 276.6 L644.2 276.0 L644.8 275.2 L645.4 274.5 L646.0 273.9 L646.8 273.7 L647.6 273.7 L648.4 274.1 L649.2 274.6 L649.9 275.2 L650.6 275.6 L651.3 275.9 L652.0 275.8 L652.8 275.6 L653.6 275.2 L654.5 274.9 L655.4 274.8 L656.2 275.0 L656.8 275.5 L657.3 276.2 L657.7 277.1 L658.0 278.0 L658.3 278.7 L658.7 279.3 L659.4 279.6 L660.2 279.9 L661.1 280.0 L662.0 280.3 L662.8 280.6 L663.3 281.2 L663.6 282.0 L663.6 282.9 L663.5 283.8 L663.3 284.7 L663.1 285.5 L663.2 286.2 L663.5 286.8 L664.1 287.4 L664.7 288.1 L665.4 288.8 L665.8 289.5Z" fill="#070707"/>
<path d="M408.4 368.7 L408.0 369.6 L407.3 370.4 L406.6 371.1 L406.0 371.8 L405.6 372.6 L405.6 373.4 L405.8 374.3 L406.1 375.2 L406.3 376.3 L406.3 377.3 L406.1 378.1 L405.5 378.8 L404.6 379.3 L403.6 379.6 L402.6 379.9 L401.7 380.1 L401.0 380.6 L400.5 381.2 L400.2 382.1 L399.9 383.1 L399.6 384.1 L399.1 384.9 L398.4 385.5 L397.5 385.8 L396.5 385.7 L395.5 385.4 L394.5 385.1 L393.6 384.8 L392.8 384.8 L392.1 385.1 L391.3 385.6 L390.5 386.3 L389.7 387.0 L388.8 387.4 L387.9 387.5 L387.0 387.3 L386.2 386.7 L385.5 385.9 L384.9 385.1 L384.3 384.4 L383.6 383.9 L382.8 383.8 L381.9 383.8 L380.9 384.0 L379.8 384.1 L378.8 383.9 L378.0 383.6 L377.4 382.9 L377.1 381.9 L376.9 380.9 L376.8 379.9 L376.7 379.0 L376.3 378.2 L375.8 377.7 L375.0 377.2 L374.0 376.8 L373.1 376.3 L372.3 375.7 L371.8 374.9 L371.7 374.0 L371.9 373.0 L372.3 372.0 L372.8 371.1 L373.2 370.3 L373.3 369.5 L373.1 368.7 L372.7 367.9 L372.2 367.0 L371.6 366.1 L371.3 365.2 L371.3 364.2 L371.7 363.4 L372.4 362.7 L373.3 362.1 L374.2 361.6 L375.0 361.1 L375.5 360.5 L375.8 359.7 L375.8 358.8 L375.8 357.8 L375.9 356.7 L376.2 355.8 L376.7 355.0 L377.4 354.5 L378.4 354.3 L379.4 354.3 L380.5 354.4 L381.4 354.3 L382.2 354.1 L382.8 353.6 L383.4 352.9 L383.9 352.0 L384.6 351.2 L385.3 350.5 L386.1 350.1 L387.0 350.1 L388.0 350.5 L388.9 351.0 L389.7 351.6 L390.5 352.1 L391.3 352.4 L392.1 352.3 L392.9 352.0 L393.9 351.6 L394.8 351.2 L395.8 351.0 L396.7 351.2 L397.5 351.6 L398.1 352.4 L398.5 353.4 L398.9 354.4 L399.3 355.2 L399.8 355.8 L400.5 356.2 L401.4 356.4 L402.5 356.5 L403.5 356.7 L404.4 357.1 L405.1 357.7 L405.5 358.6 L405.5 359.5 L405.4 360.6 L405.2 361.6 L405.1 362.5 L405.2 363.3 L405.6 364.0 L406.2 364.7 L407.0 365.4 L407.8 366.1 L408.3 366.9 L408.6 367.8Z" fill="#070707"/>
<path d="M436.0 387.8 L435.4 388.6 L434.8 389.4 L434.4 390.1 L434.2 390.8 L434.4 391.6 L434.7 392.6 L435.0 393.5 L435.2 394.5 L435.2 395.4 L434.8 396.2 L434.1 396.8 L433.2 397.3 L432.3 397.6 L431.3 397.9 L430.6 398.3 L430.1 398.8 L429.8 399.6 L429.5 400.5 L429.3 401.5 L429.0 402.5 L428.4 403.2 L427.7 403.7 L426.8 403.8 L425.8 403.7 L424.8 403.5 L423.8 403.2 L423.0 403.2 L422.3 403.4 L421.6 403.8 L420.9 404.5 L420.2 405.2 L419.4 405.8 L418.5 406.2 L417.6 406.1 L416.8 405.8 L416.0 405.1 L415.3 404.4 L414.6 403.7 L414.0 403.2 L413.3 402.9 L412.4 403.0 L411.5 403.1 L410.5 403.3 L409.5 403.4 L408.6 403.2 L407.8 402.8 L407.3 402.0 L407.0 401.0 L406.9 400.0 L406.7 399.1 L406.4 398.3 L405.9 397.7 L405.2 397.3 L404.3 396.9 L403.4 396.5 L402.5 396.1 L401.8 395.4 L401.5 394.6 L401.4 393.7 L401.7 392.7 L402.1 391.8 L402.5 390.9 L402.6 390.1 L402.6 389.3 L402.2 388.6 L401.6 387.8 L401.0 387.0 L400.5 386.1 L400.3 385.2 L400.5 384.3 L401.0 383.5 L401.7 382.9 L402.5 382.3 L403.3 381.7 L403.9 381.1 L404.3 380.5 L404.4 379.6 L404.3 378.7 L404.3 377.7 L404.3 376.7 L404.6 375.8 L405.2 375.1 L406.0 374.7 L407.0 374.6 L408.1 374.5 L409.0 374.5 L409.8 374.3 L410.5 373.9 L411.0 373.3 L411.5 372.5 L412.0 371.6 L412.6 370.8 L413.3 370.2 L414.2 370.0 L415.1 370.1 L416.0 370.5 L416.9 371.0 L417.7 371.5 L418.5 371.8 L419.3 371.8 L420.1 371.6 L420.9 371.1 L421.8 370.6 L422.8 370.3 L423.7 370.2 L424.5 370.4 L425.2 371.0 L425.8 371.9 L426.2 372.8 L426.7 373.7 L427.2 374.3 L427.8 374.8 L428.6 375.0 L429.5 375.1 L430.6 375.1 L431.6 375.4 L432.4 375.8 L432.9 376.4 L433.2 377.3 L433.2 378.3 L433.1 379.4 L433.0 380.3 L433.1 381.1 L433.4 381.8 L433.9 382.5 L434.7 383.0 L435.5 383.7 L436.2 384.4 L436.7 385.2 L436.8 386.1 L436.5 386.9Z" fill="#070707"/>
<path d="M424.8 438.4 L424.4 439.1 L424.2 439.9 L424.3 440.6 L424.6 441.4 L425.0 442.3 L425.3 443.3 L425.5 444.2 L425.3 445.0 L424.8 445.7 L424.1 446.3 L423.2 446.7 L422.3 447.1 L421.5 447.5 L420.9 448.0 L420.6 448.6 L420.4 449.5 L420.3 450.4 L420.1 451.4 L419.7 452.3 L419.1 452.9 L418.3 453.2 L417.4 453.3 L416.4 453.2 L415.5 453.0 L414.6 452.9 L413.9 453.0 L413.2 453.4 L412.6 454.0 L411.9 454.7 L411.3 455.4 L410.5 456.0 L409.6 456.2 L408.8 456.0 L408.0 455.6 L407.2 454.9 L406.5 454.3 L405.8 453.7 L405.2 453.4 L404.4 453.4 L403.6 453.6 L402.6 453.8 L401.6 454.1 L400.7 454.1 L399.9 453.8 L399.3 453.2 L398.8 452.4 L398.5 451.5 L398.3 450.5 L398.0 449.7 L397.6 449.1 L397.0 448.6 L396.2 448.3 L395.3 448.0 L394.3 447.7 L393.5 447.2 L393.0 446.6 L392.8 445.7 L392.8 444.8 L393.1 443.8 L393.4 442.9 L393.6 442.1 L393.6 441.3 L393.3 440.6 L392.8 439.9 L392.2 439.2 L391.6 438.4 L391.2 437.6 L391.1 436.7 L391.3 435.9 L391.9 435.1 L392.6 434.5 L393.4 433.9 L394.1 433.3 L394.5 432.7 L394.6 431.9 L394.5 431.0 L394.4 430.1 L394.3 429.1 L394.4 428.2 L394.8 427.4 L395.5 426.8 L396.3 426.5 L397.3 426.4 L398.3 426.3 L399.2 426.1 L399.8 425.8 L400.4 425.3 L400.8 424.5 L401.2 423.6 L401.6 422.7 L402.2 422.0 L403.0 421.6 L403.8 421.5 L404.7 421.7 L405.7 422.1 L406.5 422.5 L407.3 422.9 L408.1 423.0 L408.8 422.8 L409.6 422.4 L410.4 421.8 L411.3 421.4 L412.1 421.1 L413.0 421.1 L413.8 421.5 L414.4 422.1 L415.0 423.0 L415.5 423.8 L416.0 424.5 L416.5 425.0 L417.2 425.3 L418.1 425.3 L419.1 425.3 L420.1 425.4 L421.0 425.6 L421.7 426.1 L422.1 426.8 L422.3 427.8 L422.3 428.8 L422.3 429.7 L422.3 430.6 L422.5 431.3 L423.0 431.9 L423.7 432.4 L424.5 433.0 L425.3 433.5 L425.9 434.2 L426.3 435.0 L426.3 435.9 L425.9 436.8 L425.4 437.6Z" fill="#070707"/>
<path d="M541.5 470.5 L540.9 471.4 L540.2 472.1 L539.6 472.9 L539.1 473.6 L539.0 474.4 L539.1 475.2 L539.4 476.2 L539.7 477.2 L539.9 478.2 L539.8 479.1 L539.3 479.9 L538.6 480.5 L537.6 480.9 L536.6 481.2 L535.7 481.5 L534.9 481.8 L534.4 482.4 L534.0 483.2 L533.7 484.1 L533.4 485.2 L533.0 486.1 L532.4 486.8 L531.6 487.3 L530.7 487.3 L529.7 487.2 L528.7 486.9 L527.7 486.6 L526.9 486.5 L526.1 486.7 L525.4 487.1 L524.6 487.8 L523.9 488.5 L523.0 489.0 L522.1 489.3 L521.2 489.3 L520.4 488.8 L519.6 488.1 L518.9 487.3 L518.3 486.6 L517.6 486.0 L516.9 485.8 L516.0 485.8 L515.1 485.9 L514.0 486.1 L513.0 486.1 L512.1 485.9 L511.3 485.3 L510.9 484.5 L510.6 483.5 L510.5 482.4 L510.3 481.5 L510.1 480.7 L509.6 480.0 L508.9 479.6 L508.0 479.2 L507.0 478.7 L506.1 478.2 L505.5 477.5 L505.2 476.7 L505.2 475.7 L505.5 474.7 L506.0 473.8 L506.4 472.9 L506.6 472.1 L506.6 471.3 L506.2 470.5 L505.7 469.7 L505.1 468.8 L504.6 467.9 L504.5 466.9 L504.7 466.1 L505.2 465.3 L506.0 464.6 L506.9 464.1 L507.8 463.5 L508.4 463.0 L508.8 462.3 L508.9 461.4 L508.9 460.4 L508.9 459.4 L509.0 458.4 L509.3 457.5 L510.0 456.9 L510.9 456.5 L511.9 456.4 L513.0 456.4 L513.9 456.4 L514.8 456.3 L515.5 455.9 L516.0 455.2 L516.6 454.4 L517.1 453.5 L517.8 452.7 L518.6 452.2 L519.4 452.0 L520.4 452.2 L521.3 452.6 L522.2 453.2 L523.0 453.7 L523.8 454.1 L524.6 454.1 L525.4 453.9 L526.3 453.5 L527.2 453.0 L528.2 452.7 L529.2 452.7 L530.0 453.0 L530.7 453.7 L531.2 454.5 L531.7 455.5 L532.1 456.4 L532.5 457.1 L533.2 457.6 L534.0 457.8 L535.0 457.9 L536.0 458.1 L537.0 458.4 L537.8 458.8 L538.4 459.6 L538.6 460.5 L538.6 461.5 L538.4 462.6 L538.2 463.5 L538.3 464.4 L538.5 465.1 L539.1 465.8 L539.9 466.4 L540.7 467.1 L541.4 467.9 L541.8 468.7 L541.8 469.6Z" fill="#070707"/>
<path d="M569.4 471.1 L568.9 471.8 L568.6 472.5 L568.6 473.2 L568.8 473.9 L569.1 474.7 L569.5 475.6 L569.7 476.5 L569.7 477.3 L569.3 478.1 L568.7 478.6 L567.9 479.1 L567.0 479.4 L566.2 479.7 L565.6 480.1 L565.2 480.7 L564.9 481.4 L564.8 482.3 L564.6 483.2 L564.3 484.1 L563.8 484.8 L563.2 485.2 L562.3 485.3 L561.4 485.2 L560.5 485.0 L559.6 484.9 L558.9 484.9 L558.2 485.1 L557.6 485.6 L557.0 486.3 L556.4 487.0 L555.7 487.6 L554.9 487.9 L554.1 487.8 L553.3 487.5 L552.6 486.9 L551.9 486.3 L551.3 485.7 L550.7 485.3 L550.0 485.1 L549.2 485.2 L548.3 485.5 L547.4 485.7 L546.5 485.8 L545.7 485.6 L545.0 485.2 L544.6 484.5 L544.3 483.6 L544.1 482.7 L543.8 481.9 L543.5 481.2 L543.0 480.7 L542.3 480.3 L541.5 480.1 L540.6 479.8 L539.8 479.4 L539.2 478.8 L538.9 478.1 L538.9 477.2 L539.1 476.3 L539.4 475.4 L539.7 474.6 L539.8 473.9 L539.6 473.2 L539.2 472.5 L538.6 471.8 L538.1 471.1 L537.6 470.3 L537.4 469.5 L537.5 468.7 L538.0 468.0 L538.6 467.4 L539.4 466.8 L540.1 466.2 L540.5 465.7 L540.8 465.0 L540.8 464.2 L540.7 463.4 L540.6 462.4 L540.6 461.5 L540.9 460.7 L541.4 460.1 L542.2 459.8 L543.1 459.6 L544.1 459.5 L544.9 459.4 L545.6 459.2 L546.2 458.8 L546.6 458.1 L547.0 457.3 L547.4 456.5 L548.0 455.8 L548.6 455.2 L549.4 455.0 L550.2 455.1 L551.1 455.5 L551.9 455.9 L552.7 456.3 L553.4 456.5 L554.1 456.5 L554.8 456.2 L555.6 455.7 L556.4 455.2 L557.2 454.9 L558.1 454.8 L558.8 455.0 L559.5 455.6 L560.0 456.3 L560.5 457.2 L560.9 457.9 L561.4 458.5 L562.0 458.8 L562.8 458.9 L563.7 458.9 L564.6 459.0 L565.5 459.1 L566.2 459.5 L566.8 460.1 L567.0 460.9 L567.1 461.9 L567.0 462.8 L567.0 463.7 L567.1 464.4 L567.4 465.0 L568.0 465.5 L568.7 466.0 L569.5 466.6 L570.2 467.2 L570.6 467.9 L570.7 468.7 L570.4 469.5 L570.0 470.3Z" fill="#070707"/>
<path d="M652.6 455.0 L652.5 455.8 L652.6 456.5 L652.9 457.4 L653.4 458.2 L653.8 459.2 L654.0 460.1 L653.9 461.0 L653.4 461.8 L652.7 462.4 L651.8 462.9 L650.9 463.3 L650.1 463.7 L649.5 464.3 L649.2 465.0 L649.0 465.8 L648.9 466.8 L648.8 467.9 L648.4 468.8 L647.9 469.5 L647.1 469.9 L646.1 470.0 L645.1 469.9 L644.1 469.8 L643.2 469.7 L642.4 469.8 L641.8 470.2 L641.2 470.9 L640.5 471.7 L639.9 472.5 L639.1 473.0 L638.2 473.3 L637.4 473.2 L636.5 472.8 L635.7 472.2 L634.9 471.5 L634.2 471.0 L633.5 470.7 L632.7 470.7 L631.8 470.9 L630.9 471.2 L629.9 471.5 L628.9 471.6 L628.1 471.4 L627.4 470.8 L626.9 470.0 L626.5 469.0 L626.2 468.0 L625.9 467.2 L625.5 466.6 L624.8 466.1 L624.0 465.8 L623.0 465.6 L622.0 465.3 L621.2 464.9 L620.6 464.2 L620.3 463.4 L620.3 462.4 L620.5 461.4 L620.8 460.4 L621.0 459.5 L621.0 458.8 L620.7 458.1 L620.1 457.4 L619.4 456.6 L618.7 455.8 L618.3 455.0 L618.1 454.1 L618.3 453.3 L618.9 452.5 L619.6 451.7 L620.4 451.1 L621.0 450.5 L621.4 449.8 L621.5 449.0 L621.4 448.1 L621.2 447.1 L621.1 446.1 L621.2 445.1 L621.5 444.3 L622.2 443.7 L623.0 443.3 L624.0 443.1 L625.0 443.0 L625.9 442.8 L626.6 442.4 L627.1 441.9 L627.5 441.1 L627.9 440.1 L628.4 439.2 L628.9 438.4 L629.7 437.9 L630.5 437.8 L631.5 437.9 L632.4 438.3 L633.4 438.7 L634.2 439.0 L635.0 439.1 L635.7 438.9 L636.5 438.4 L637.3 437.9 L638.2 437.3 L639.1 437.0 L640.0 436.9 L640.8 437.3 L641.5 437.9 L642.1 438.7 L642.7 439.6 L643.2 440.3 L643.8 440.8 L644.6 441.0 L645.5 441.1 L646.5 441.0 L647.5 441.0 L648.4 441.2 L649.2 441.7 L649.7 442.4 L650.0 443.3 L650.0 444.4 L650.0 445.4 L650.1 446.3 L650.3 447.0 L650.8 447.6 L651.6 448.1 L652.4 448.6 L653.3 449.2 L654.0 449.9 L654.4 450.7 L654.4 451.5 L654.1 452.5 L653.6 453.4 L653.1 454.2Z" fill="#070707"/>
</g>
<rect x="628.6" y="531.20" width="29.2" height="1.4" fill="#000"/>
<text x="629.0" y="528.8" font-size="7.1" font-family="Liberation Serif, serif" font-weight="bold" fill="#000" textLength="22.7" lengthAdjust="spacingAndGlyphs">200 nm</text>
</g>
<g>
<rect x="707.6" y="248.6" width="295.5" height="295.2" fill="#f5f5f5"/>
<rect x="707.6" y="248.6" width="295.5" height="295.2" filter="url(#grainD)" opacity="0.05"/>
<g filter="url(#b09)">
<path d="M924.2 275.8 L923.7 277.0 L922.9 278.1 L921.9 279.1 L921.0 280.1 L920.4 281.0 L920.1 282.0 L920.2 283.2 L920.6 284.5 L920.9 285.9 L921.1 287.2 L920.9 288.5 L920.2 289.5 L919.2 290.2 L917.8 290.7 L916.5 291.0 L915.2 291.3 L914.1 291.8 L913.4 292.5 L912.9 293.6 L912.4 294.8 L912.0 296.2 L911.4 297.4 L910.5 298.3 L909.4 298.8 L908.1 298.9 L906.8 298.6 L905.4 298.1 L904.2 297.7 L903.1 297.5 L902.0 297.7 L901.0 298.3 L900.0 299.1 L898.9 300.0 L897.7 300.7 L896.5 301.0 L895.3 300.9 L894.2 300.2 L893.2 299.2 L892.4 298.1 L891.5 297.1 L890.7 296.3 L889.7 295.9 L888.6 295.9 L887.2 296.0 L885.8 296.2 L884.4 296.1 L883.2 295.7 L882.3 294.9 L881.7 293.8 L881.5 292.4 L881.3 291.0 L881.2 289.7 L880.9 288.6 L880.3 287.8 L879.3 287.1 L878.1 286.5 L876.9 285.9 L875.7 285.1 L874.9 284.1 L874.6 282.9 L874.7 281.7 L875.2 280.4 L875.9 279.1 L876.5 277.9 L876.8 276.9 L876.8 275.8 L876.3 274.7 L875.7 273.6 L874.9 272.4 L874.4 271.1 L874.3 269.8 L874.6 268.7 L875.4 267.7 L876.5 266.8 L877.8 266.2 L878.9 265.5 L879.8 264.8 L880.3 263.8 L880.5 262.7 L880.5 261.4 L880.6 259.9 L880.8 258.6 L881.4 257.4 L882.3 256.7 L883.5 256.3 L884.9 256.2 L886.3 256.3 L887.7 256.3 L888.8 256.2 L889.7 255.7 L890.5 254.8 L891.3 253.7 L892.1 252.6 L893.0 251.5 L894.1 250.9 L895.3 250.7 L896.5 251.0 L897.8 251.7 L898.9 252.6 L900.0 253.3 L901.0 253.8 L902.0 253.9 L903.2 253.6 L904.4 253.1 L905.7 252.6 L907.1 252.2 L908.3 252.3 L909.4 252.8 L910.3 253.7 L910.9 254.9 L911.5 256.3 L911.9 257.5 L912.6 258.4 L913.4 259.1 L914.5 259.5 L915.8 259.7 L917.2 259.9 L918.5 260.4 L919.6 261.1 L920.2 262.1 L920.4 263.4 L920.3 264.8 L920.0 266.2 L919.8 267.4 L919.8 268.6 L920.1 269.6 L920.8 270.5 L921.8 271.4 L922.9 272.4 L923.7 273.4 L924.2 274.6Z" fill="#070707"/>
<path d="M945.8 318.8 L944.8 320.0 L943.9 321.1 L943.2 322.1 L943.0 323.2 L943.1 324.4 L943.5 325.7 L944.0 327.1 L944.4 328.5 L944.4 329.9 L943.9 331.1 L943.0 332.0 L941.7 332.7 L940.3 333.2 L938.9 333.6 L937.8 334.1 L937.0 334.9 L936.4 335.9 L936.1 337.2 L935.7 338.7 L935.3 340.1 L934.5 341.2 L933.5 342.0 L932.2 342.3 L930.8 342.2 L929.3 341.8 L927.9 341.4 L926.7 341.2 L925.6 341.4 L924.6 342.0 L923.6 342.9 L922.5 344.0 L921.3 344.9 L920.1 345.5 L918.8 345.5 L917.6 345.1 L916.4 344.2 L915.4 343.1 L914.5 342.0 L913.5 341.2 L912.5 340.8 L911.3 340.8 L910.0 341.0 L908.5 341.3 L907.0 341.4 L905.7 341.2 L904.6 340.6 L903.8 339.6 L903.3 338.2 L903.0 336.7 L902.8 335.3 L902.4 334.1 L901.8 333.2 L900.8 332.5 L899.6 332.0 L898.2 331.5 L896.9 330.8 L895.8 329.9 L895.2 328.8 L895.1 327.4 L895.5 326.0 L896.0 324.6 L896.6 323.3 L897.0 322.1 L896.9 321.0 L896.5 319.9 L895.7 318.8 L894.8 317.6 L894.1 316.3 L893.7 315.0 L893.8 313.7 L894.4 312.6 L895.5 311.6 L896.7 310.7 L897.9 309.9 L898.8 309.1 L899.4 308.1 L899.6 307.0 L899.6 305.6 L899.5 304.1 L899.6 302.6 L899.9 301.3 L900.7 300.3 L901.9 299.7 L903.3 299.4 L904.8 299.3 L906.2 299.3 L907.5 299.1 L908.5 298.6 L909.3 297.8 L910.0 296.6 L910.7 295.3 L911.6 294.1 L912.6 293.2 L913.8 292.8 L915.1 292.9 L916.4 293.4 L917.7 294.2 L919.0 294.9 L920.1 295.4 L921.2 295.5 L922.3 295.3 L923.6 294.7 L924.9 294.0 L926.3 293.4 L927.6 293.2 L928.9 293.5 L929.9 294.3 L930.8 295.4 L931.4 296.8 L932.1 298.1 L932.7 299.1 L933.6 299.8 L934.7 300.2 L936.1 300.4 L937.6 300.5 L939.0 300.8 L940.3 301.3 L941.2 302.2 L941.6 303.5 L941.7 304.9 L941.5 306.4 L941.4 307.8 L941.4 309.1 L941.7 310.1 L942.5 311.1 L943.5 311.9 L944.7 312.8 L945.8 313.9 L946.5 315.0 L946.8 316.3 L946.5 317.5Z" fill="#070707"/>
<path d="M990.4 392.4 L989.6 393.6 L988.6 394.8 L987.6 395.9 L986.9 396.9 L986.5 398.0 L986.6 399.2 L987.0 400.6 L987.5 402.0 L987.7 403.5 L987.7 404.9 L987.1 406.1 L986.1 407.0 L984.7 407.6 L983.3 408.0 L981.9 408.4 L980.7 408.9 L979.8 409.6 L979.3 410.7 L978.8 412.0 L978.4 413.5 L977.9 414.9 L977.0 416.0 L975.9 416.7 L974.6 416.9 L973.1 416.7 L971.7 416.3 L970.3 415.8 L969.0 415.6 L967.9 415.8 L966.8 416.4 L965.8 417.3 L964.6 418.3 L963.4 419.2 L962.1 419.7 L960.8 419.6 L959.6 419.1 L958.4 418.1 L957.4 417.0 L956.5 415.8 L955.6 415.0 L954.6 414.5 L953.3 414.4 L952.0 414.6 L950.4 414.8 L948.9 414.9 L947.6 414.6 L946.5 413.9 L945.7 412.8 L945.3 411.4 L945.1 409.8 L944.9 408.4 L944.6 407.2 L944.0 406.2 L943.0 405.5 L941.8 404.9 L940.4 404.3 L939.1 403.5 L938.1 402.5 L937.5 401.4 L937.5 400.0 L937.9 398.6 L938.6 397.2 L939.2 395.9 L939.6 394.7 L939.6 393.5 L939.2 392.4 L938.5 391.2 L937.6 389.9 L936.9 388.6 L936.6 387.2 L936.8 385.9 L937.5 384.8 L938.6 383.8 L939.9 383.0 L941.2 382.3 L942.2 381.5 L942.8 380.5 L943.0 379.3 L943.1 377.9 L943.0 376.4 L943.2 374.9 L943.6 373.6 L944.5 372.6 L945.7 372.0 L947.2 371.8 L948.7 371.8 L950.2 371.9 L951.5 371.7 L952.5 371.2 L953.3 370.4 L954.1 369.2 L954.9 367.9 L955.9 366.7 L957.0 365.9 L958.2 365.5 L959.6 365.7 L960.9 366.3 L962.2 367.2 L963.4 368.0 L964.5 368.5 L965.7 368.7 L966.8 368.4 L968.1 367.9 L969.5 367.2 L970.9 366.7 L972.3 366.6 L973.6 367.0 L974.6 367.9 L975.4 369.1 L976.0 370.5 L976.6 371.9 L977.3 372.9 L978.1 373.7 L979.3 374.1 L980.6 374.3 L982.2 374.5 L983.6 374.9 L984.9 375.5 L985.7 376.5 L986.1 377.8 L986.1 379.3 L985.9 380.8 L985.6 382.3 L985.6 383.5 L985.9 384.6 L986.6 385.6 L987.7 386.5 L988.8 387.5 L989.9 388.6 L990.6 389.8 L990.7 391.1Z" fill="#070707"/>
<path d="M948.4 418.1 L947.9 419.1 L947.7 420.1 L947.8 421.1 L948.3 422.2 L948.9 423.4 L949.3 424.6 L949.5 425.8 L949.2 426.9 L948.5 427.9 L947.4 428.6 L946.2 429.1 L945.0 429.6 L944.0 430.2 L943.3 430.9 L942.9 431.8 L942.7 433.0 L942.6 434.3 L942.3 435.6 L941.7 436.7 L940.9 437.5 L939.8 437.9 L938.5 437.9 L937.2 437.7 L936.0 437.5 L934.8 437.4 L933.9 437.6 L933.0 438.2 L932.2 439.1 L931.3 440.1 L930.4 441.0 L929.3 441.7 L928.2 441.9 L927.1 441.6 L926.0 440.9 L925.0 440.1 L924.1 439.2 L923.2 438.5 L922.2 438.2 L921.2 438.2 L920.0 438.5 L918.8 438.9 L917.5 439.2 L916.3 439.1 L915.2 438.7 L914.4 437.9 L913.8 436.7 L913.5 435.4 L913.1 434.2 L912.8 433.1 L912.1 432.4 L911.3 431.8 L910.1 431.4 L908.9 431.1 L907.6 430.6 L906.6 429.9 L906.0 429.0 L905.7 427.9 L905.9 426.6 L906.2 425.3 L906.7 424.1 L906.9 423.0 L906.8 422.0 L906.4 421.1 L905.6 420.2 L904.7 419.2 L903.9 418.1 L903.5 417.0 L903.4 415.8 L903.8 414.8 L904.6 413.8 L905.7 412.9 L906.7 412.1 L907.4 411.3 L907.9 410.4 L908.0 409.4 L907.9 408.2 L907.7 406.9 L907.6 405.6 L907.8 404.4 L908.4 403.4 L909.3 402.7 L910.6 402.3 L911.9 402.1 L913.1 402.0 L914.2 401.8 L915.1 401.3 L915.8 400.5 L916.3 399.4 L916.8 398.2 L917.5 397.0 L918.3 396.1 L919.3 395.6 L920.5 395.6 L921.7 395.9 L922.9 396.4 L924.1 397.0 L925.1 397.4 L926.1 397.5 L927.1 397.1 L928.1 396.5 L929.2 395.8 L930.4 395.2 L931.6 394.9 L932.7 395.0 L933.7 395.6 L934.6 396.5 L935.3 397.6 L936.0 398.7 L936.6 399.6 L937.4 400.2 L938.4 400.5 L939.6 400.5 L940.9 400.5 L942.3 400.6 L943.4 401.0 L944.3 401.7 L944.9 402.7 L945.1 404.0 L945.1 405.3 L945.0 406.6 L945.1 407.7 L945.5 408.6 L946.2 409.4 L947.1 410.1 L948.3 410.8 L949.3 411.6 L950.1 412.5 L950.5 413.6 L950.4 414.8 L949.9 415.9 L949.1 417.1Z" fill="#070707"/>
<path d="M896.5 436.3 L895.7 437.3 L895.0 438.2 L894.7 439.1 L894.7 440.1 L895.0 441.1 L895.4 442.3 L895.8 443.5 L896.0 444.7 L895.8 445.8 L895.2 446.7 L894.3 447.4 L893.1 447.9 L891.9 448.3 L890.8 448.7 L890.0 449.3 L889.5 450.1 L889.2 451.2 L888.9 452.4 L888.6 453.6 L888.1 454.7 L887.4 455.6 L886.4 456.0 L885.2 456.1 L883.9 455.9 L882.7 455.5 L881.6 455.3 L880.6 455.4 L879.7 455.8 L878.9 456.5 L878.0 457.4 L877.1 458.2 L876.1 458.9 L875.0 459.2 L873.9 459.0 L872.9 458.4 L871.9 457.6 L871.1 456.7 L870.3 455.9 L869.4 455.4 L868.4 455.2 L867.4 455.4 L866.2 455.7 L864.9 455.9 L863.7 455.9 L862.6 455.6 L861.8 454.8 L861.3 453.8 L860.9 452.5 L860.7 451.3 L860.4 450.2 L860.0 449.3 L859.3 448.7 L858.3 448.2 L857.1 447.8 L855.9 447.3 L854.9 446.7 L854.2 445.8 L853.9 444.8 L854.0 443.6 L854.4 442.4 L854.9 441.2 L855.2 440.1 L855.3 439.1 L855.1 438.2 L854.5 437.3 L853.7 436.3 L853.0 435.3 L852.5 434.1 L852.3 433.0 L852.7 432.0 L853.4 431.1 L854.4 430.2 L855.4 429.5 L856.3 428.8 L856.9 428.0 L857.2 427.1 L857.2 426.0 L857.1 424.8 L857.0 423.5 L857.2 422.3 L857.7 421.3 L858.5 420.6 L859.7 420.2 L860.9 420.1 L862.2 420.0 L863.3 419.9 L864.3 419.6 L865.0 419.0 L865.6 418.0 L866.2 416.9 L866.8 415.8 L867.6 414.9 L868.5 414.3 L869.6 414.2 L870.8 414.5 L871.9 415.0 L873.0 415.7 L874.0 416.2 L875.0 416.4 L876.0 416.3 L877.0 415.9 L878.0 415.2 L879.2 414.6 L880.3 414.3 L881.5 414.3 L882.4 414.8 L883.3 415.7 L883.9 416.7 L884.5 417.9 L885.1 418.9 L885.7 419.6 L886.6 420.0 L887.7 420.2 L888.9 420.2 L890.2 420.3 L891.4 420.7 L892.3 421.3 L892.9 422.2 L893.1 423.4 L893.1 424.7 L893.0 425.9 L892.9 427.1 L893.1 428.0 L893.6 428.9 L894.4 429.6 L895.4 430.3 L896.4 431.1 L897.2 432.0 L897.7 433.0 L897.6 434.1 L897.2 435.2Z" fill="#070707"/>
<path d="M865.2 469.6 L864.9 470.7 L864.1 471.8 L863.2 472.8 L862.3 473.7 L861.5 474.6 L861.1 475.6 L861.1 476.6 L861.3 477.8 L861.7 479.1 L861.9 480.5 L861.8 481.7 L861.3 482.8 L860.4 483.6 L859.2 484.1 L857.9 484.4 L856.6 484.7 L855.5 485.0 L854.7 485.6 L854.1 486.5 L853.6 487.6 L853.2 488.9 L852.7 490.2 L851.9 491.2 L850.9 491.8 L849.8 492.0 L848.5 491.8 L847.2 491.3 L846.0 490.8 L844.8 490.5 L843.8 490.6 L842.8 491.0 L841.9 491.7 L840.8 492.6 L839.7 493.3 L838.5 493.7 L837.3 493.7 L836.2 493.3 L835.3 492.4 L834.4 491.3 L833.7 490.2 L832.9 489.4 L832.0 488.9 L831.0 488.7 L829.7 488.8 L828.4 488.9 L827.0 488.9 L825.8 488.7 L824.8 488.0 L824.2 487.0 L823.8 485.8 L823.7 484.4 L823.6 483.1 L823.4 482.0 L823.0 481.1 L822.2 480.3 L821.1 479.7 L819.9 479.1 L818.8 478.4 L817.9 477.5 L817.4 476.5 L817.4 475.3 L817.8 474.0 L818.4 472.8 L819.0 471.7 L819.5 470.6 L819.6 469.6 L819.3 468.6 L818.8 467.5 L818.1 466.3 L817.5 465.1 L817.2 463.9 L817.4 462.7 L818.0 461.7 L819.0 460.9 L820.2 460.2 L821.4 459.6 L822.3 458.9 L823.0 458.1 L823.3 457.1 L823.4 455.9 L823.5 454.6 L823.6 453.2 L824.1 452.0 L824.8 451.2 L825.9 450.7 L827.2 450.5 L828.6 450.6 L829.9 450.7 L831.0 450.6 L832.0 450.3 L832.8 449.7 L833.6 448.7 L834.3 447.6 L835.2 446.5 L836.2 445.8 L837.3 445.5 L838.5 445.6 L839.7 446.2 L840.8 447.0 L841.8 447.8 L842.8 448.4 L843.8 448.6 L844.9 448.5 L846.0 448.1 L847.3 447.6 L848.6 447.2 L849.8 447.1 L850.9 447.4 L851.8 448.2 L852.5 449.3 L853.0 450.6 L853.5 451.8 L854.0 452.8 L854.7 453.6 L855.6 454.1 L856.8 454.3 L858.1 454.6 L859.5 454.9 L860.6 455.5 L861.3 456.4 L861.7 457.6 L861.6 458.9 L861.4 460.2 L861.1 461.5 L860.9 462.6 L861.1 463.6 L861.7 464.5 L862.5 465.4 L863.5 466.3 L864.4 467.3 L865.0 468.4Z" fill="#070707"/>
<path d="M904.7 475.6 L904.6 476.5 L904.8 477.5 L905.4 478.6 L906.0 479.7 L906.4 480.9 L906.6 482.0 L906.3 483.1 L905.6 484.0 L904.6 484.7 L903.5 485.3 L902.4 485.8 L901.5 486.4 L900.9 487.1 L900.6 488.1 L900.5 489.3 L900.4 490.5 L900.1 491.8 L899.6 492.8 L898.8 493.6 L897.8 494.0 L896.5 494.0 L895.3 493.9 L894.1 493.7 L893.0 493.8 L892.1 494.1 L891.3 494.7 L890.6 495.6 L889.8 496.7 L888.9 497.6 L887.9 498.2 L886.9 498.4 L885.8 498.1 L884.7 497.5 L883.7 496.7 L882.8 495.9 L881.9 495.4 L880.9 495.1 L879.9 495.3 L878.8 495.6 L877.6 496.1 L876.4 496.4 L875.2 496.4 L874.2 495.9 L873.4 495.1 L872.9 494.0 L872.5 492.8 L872.1 491.6 L871.6 490.7 L871.0 490.0 L870.1 489.6 L868.9 489.3 L867.7 489.0 L866.5 488.6 L865.5 487.9 L864.9 487.0 L864.7 485.9 L864.8 484.7 L865.1 483.4 L865.4 482.3 L865.5 481.2 L865.4 480.3 L864.8 479.4 L864.0 478.6 L863.1 477.7 L862.4 476.7 L861.9 475.6 L861.9 474.5 L862.3 473.5 L863.0 472.5 L864.0 471.6 L864.9 470.8 L865.5 470.0 L865.9 469.1 L865.9 468.1 L865.7 466.9 L865.4 465.7 L865.3 464.4 L865.5 463.3 L866.1 462.3 L867.0 461.7 L868.2 461.3 L869.4 461.0 L870.6 460.8 L871.6 460.5 L872.4 460.0 L873.0 459.1 L873.4 458.0 L873.9 456.8 L874.5 455.7 L875.2 454.8 L876.2 454.4 L877.3 454.3 L878.5 454.6 L879.7 455.1 L880.8 455.6 L881.9 455.8 L882.8 455.8 L883.7 455.4 L884.7 454.7 L885.7 454.0 L886.8 453.3 L887.9 453.0 L889.0 453.1 L890.0 453.7 L890.9 454.6 L891.6 455.6 L892.3 456.7 L893.0 457.4 L893.8 457.9 L894.8 458.1 L896.0 458.0 L897.3 458.0 L898.5 458.0 L899.6 458.4 L900.5 459.0 L901.0 460.0 L901.2 461.3 L901.3 462.5 L901.3 463.8 L901.5 464.8 L901.9 465.6 L902.7 466.3 L903.7 466.9 L904.8 467.5 L905.8 468.3 L906.6 469.2 L906.9 470.2 L906.8 471.3 L906.4 472.5 L905.7 473.6 L905.1 474.6Z" fill="#070707"/>
<path d="M771.1 515.0 L770.3 516.1 L769.4 517.1 L768.6 518.1 L768.2 519.1 L768.2 520.2 L768.4 521.3 L768.9 522.6 L769.3 524.0 L769.4 525.3 L769.1 526.5 L768.4 527.4 L767.3 528.1 L766.0 528.6 L764.7 529.0 L763.5 529.4 L762.6 530.0 L762.0 530.8 L761.6 532.0 L761.3 533.3 L760.9 534.6 L760.3 535.8 L759.4 536.6 L758.3 537.1 L757.0 537.1 L755.6 536.7 L754.3 536.4 L753.1 536.1 L752.0 536.1 L751.0 536.5 L750.1 537.2 L749.1 538.2 L748.0 539.1 L746.9 539.7 L745.7 540.0 L744.5 539.7 L743.5 539.0 L742.5 538.0 L741.6 537.0 L740.7 536.1 L739.8 535.5 L738.8 535.3 L737.6 535.4 L736.2 535.7 L734.8 535.9 L733.5 535.8 L732.4 535.4 L731.6 534.5 L731.0 533.3 L730.7 532.0 L730.5 530.6 L730.3 529.4 L729.8 528.4 L729.1 527.7 L728.0 527.1 L726.7 526.6 L725.5 526.0 L724.4 525.3 L723.7 524.3 L723.4 523.1 L723.6 521.8 L724.1 520.5 L724.7 519.3 L725.2 518.1 L725.3 517.1 L725.0 516.0 L724.4 515.0 L723.7 513.9 L722.9 512.7 L722.4 511.5 L722.4 510.3 L722.8 509.1 L723.6 508.2 L724.8 507.3 L725.9 506.6 L726.9 505.9 L727.6 505.1 L727.9 504.1 L728.0 502.9 L727.9 501.5 L728.0 500.1 L728.2 498.8 L728.8 497.7 L729.8 497.0 L731.0 496.7 L732.4 496.6 L733.8 496.6 L735.0 496.5 L736.0 496.2 L736.9 495.5 L737.6 494.6 L738.3 493.4 L739.0 492.2 L739.9 491.3 L741.0 490.7 L742.2 490.6 L743.5 491.0 L744.7 491.7 L745.8 492.4 L746.9 493.0 L747.9 493.3 L749.0 493.2 L750.1 492.8 L751.3 492.1 L752.6 491.6 L753.9 491.3 L755.1 491.4 L756.1 492.0 L757.0 492.9 L757.6 494.2 L758.2 495.4 L758.8 496.5 L759.5 497.3 L760.4 497.8 L761.6 498.0 L763.0 498.2 L764.3 498.4 L765.6 498.8 L766.5 499.5 L767.1 500.6 L767.3 501.9 L767.2 503.3 L767.0 504.6 L766.9 505.9 L767.0 506.9 L767.6 507.8 L768.4 508.7 L769.5 509.5 L770.6 510.4 L771.4 511.5 L771.8 512.6 L771.7 513.8Z" fill="#070707"/>
</g>
<rect x="963.0" y="534.80" width="35.3" height="2.0" fill="#000"/>
<text x="963.4" y="531.0" font-size="10.4" font-family="Liberation Serif, serif" font-weight="bold" fill="#000" textLength="34.0" lengthAdjust="spacingAndGlyphs">200 nm</text>
</g>
<rect x="102.21" y="746.35" width="19.50" height="14.55" fill="url(#gG)"/>
<rect x="124.05" y="722.94" width="19.50" height="37.96" fill="url(#gG)"/>
<rect x="145.89" y="715.35" width="19.50" height="45.55" fill="url(#gG)"/>
<rect x="167.73" y="677.39" width="19.50" height="83.51" fill="url(#gG)"/>
<rect x="189.57" y="654.61" width="19.50" height="106.29" fill="url(#gG)"/>
<rect x="211.41" y="593.24" width="19.50" height="167.66" fill="url(#gG)"/>
<rect x="233.25" y="669.80" width="19.50" height="91.10" fill="url(#gG)"/>
<rect x="255.09" y="692.57" width="19.50" height="68.33" fill="url(#gG)"/>
<rect x="276.93" y="753.31" width="19.50" height="7.59" fill="url(#gG)"/>
<rect x="298.77" y="753.31" width="19.50" height="7.59" fill="url(#gG)"/>
<path d="M90.12 751.76 L92.85 751.67 L95.58 751.56 L98.31 751.42 L101.04 751.25 L103.77 751.03 L106.50 750.76 L109.23 750.43 L111.96 750.03 L114.69 749.53 L117.42 748.94 L120.15 748.23 L122.88 747.38 L125.61 746.37 L128.34 745.19 L131.07 743.81 L133.80 742.21 L136.53 740.36 L139.26 738.25 L141.99 735.86 L144.72 733.15 L147.45 730.13 L150.18 726.76 L152.91 723.05 L155.64 718.99 L158.37 714.58 L161.10 709.83 L163.83 704.75 L166.56 699.37 L169.29 693.71 L172.02 687.82 L174.75 681.75 L177.48 675.56 L180.21 669.30 L182.94 663.05 L185.67 656.88 L188.40 650.87 L191.13 645.11 L193.86 639.68 L196.59 634.66 L199.32 630.13 L202.05 626.16 L204.78 622.82 L207.51 620.16 L210.24 618.22 L212.97 617.05 L215.70 616.65 L218.43 617.05 L221.16 618.22 L223.89 620.16 L226.62 622.82 L229.35 626.16 L232.08 630.13 L234.81 634.66 L237.54 639.68 L240.27 645.11 L243.00 650.87 L245.73 656.88 L248.46 663.05 L251.19 669.30 L253.92 675.56 L256.65 681.75 L259.38 687.82 L262.11 693.71 L264.84 699.37 L267.57 704.75 L270.30 709.83 L273.03 714.58 L275.76 718.99 L278.49 723.05 L281.22 726.76 L283.95 730.13 L286.68 733.15 L289.41 735.86 L292.14 738.25 L294.87 740.36 L297.60 742.21 L300.33 743.81 L303.06 745.19 L305.79 746.37 L308.52 747.38" fill="none" stroke="#e0207a" stroke-width="2.3" stroke-linecap="round" stroke-linejoin="round"/>
<rect x="79.20" y="571.10" width="245.70" height="189.80" fill="none" stroke="#000" stroke-width="2.2"/>
<line x1="79.20" y1="760.90" x2="79.20" y2="764.50" stroke="#000" stroke-width="1.6"/>
<text x="79.20" y="777.80" font-size="14.5" font-family="Liberation Serif, serif" font-weight="bold" text-anchor="middle">140</text>
<line x1="106.50" y1="760.90" x2="106.50" y2="764.50" stroke="#000" stroke-width="1.6"/>
<text x="106.50" y="777.80" font-size="14.5" font-family="Liberation Serif, serif" font-weight="bold" text-anchor="middle">145</text>
<line x1="133.80" y1="760.90" x2="133.80" y2="764.50" stroke="#000" stroke-width="1.6"/>
<text x="133.80" y="777.80" font-size="14.5" font-family="Liberation Serif, serif" font-weight="bold" text-anchor="middle">150</text>
<line x1="161.10" y1="760.90" x2="161.10" y2="764.50" stroke="#000" stroke-width="1.6"/>
<text x="161.10" y="777.80" font-size="14.5" font-family="Liberation Serif, serif" font-weight="bold" text-anchor="middle">155</text>
<line x1="188.40" y1="760.90" x2="188.40" y2="764.50" stroke="#000" stroke-width="1.6"/>
<text x="188.40" y="777.80" font-size="14.5" font-family="Liberation Serif, serif" font-weight="bold" text-anchor="middle">160</text>
<line x1="215.70" y1="760.90" x2="215.70" y2="764.50" stroke="#000" stroke-width="1.6"/>
<text x="215.70" y="777.80" font-size="14.5" font-family="Liberation Serif, serif" font-weight="bold" text-anchor="middle">165</text>
<line x1="243.00" y1="760.90" x2="243.00" y2="764.50" stroke="#000" stroke-width="1.6"/>
<text x="243.00" y="777.80" font-size="14.5" font-family="Liberation Serif, serif" font-weight="bold" text-anchor="middle">170</text>
<line x1="270.30" y1="760.90" x2="270.30" y2="764.50" stroke="#000" stroke-width="1.6"/>
<text x="270.30" y="777.80" font-size="14.5" font-family="Liberation Serif, serif" font-weight="bold" text-anchor="middle">175</text>
<line x1="297.60" y1="760.90" x2="297.60" y2="764.50" stroke="#000" stroke-width="1.6"/>
<text x="297.60" y="777.80" font-size="14.5" font-family="Liberation Serif, serif" font-weight="bold" text-anchor="middle">180</text>
<line x1="324.90" y1="760.90" x2="324.90" y2="764.50" stroke="#000" stroke-width="1.6"/>
<text x="324.90" y="777.80" font-size="14.5" font-family="Liberation Serif, serif" font-weight="bold" text-anchor="middle">185</text>
<line x1="92.85" y1="760.90" x2="92.85" y2="763.30" stroke="#000" stroke-width="1.4"/>
<line x1="120.15" y1="760.90" x2="120.15" y2="763.30" stroke="#000" stroke-width="1.4"/>
<line x1="147.45" y1="760.90" x2="147.45" y2="763.30" stroke="#000" stroke-width="1.4"/>
<line x1="174.75" y1="760.90" x2="174.75" y2="763.30" stroke="#000" stroke-width="1.4"/>
<line x1="202.05" y1="760.90" x2="202.05" y2="763.30" stroke="#000" stroke-width="1.4"/>
<line x1="229.35" y1="760.90" x2="229.35" y2="763.30" stroke="#000" stroke-width="1.4"/>
<line x1="256.65" y1="760.90" x2="256.65" y2="763.30" stroke="#000" stroke-width="1.4"/>
<line x1="283.95" y1="760.90" x2="283.95" y2="763.30" stroke="#000" stroke-width="1.4"/>
<line x1="311.25" y1="760.90" x2="311.25" y2="763.30" stroke="#000" stroke-width="1.4"/>
<line x1="75.60" y1="760.90" x2="79.20" y2="760.90" stroke="#000" stroke-width="1.6"/>
<text x="72.70" y="765.75" font-size="14.5" font-family="Liberation Serif, serif" font-weight="bold" text-anchor="end">0</text>
<line x1="75.60" y1="729.27" x2="79.20" y2="729.27" stroke="#000" stroke-width="1.6"/>
<text x="72.70" y="734.12" font-size="14.5" font-family="Liberation Serif, serif" font-weight="bold" text-anchor="end">5</text>
<line x1="75.60" y1="697.63" x2="79.20" y2="697.63" stroke="#000" stroke-width="1.6"/>
<text x="72.70" y="702.48" font-size="14.5" font-family="Liberation Serif, serif" font-weight="bold" text-anchor="end">10</text>
<line x1="75.60" y1="666.00" x2="79.20" y2="666.00" stroke="#000" stroke-width="1.6"/>
<text x="72.70" y="670.85" font-size="14.5" font-family="Liberation Serif, serif" font-weight="bold" text-anchor="end">15</text>
<line x1="75.60" y1="634.37" x2="79.20" y2="634.37" stroke="#000" stroke-width="1.6"/>
<text x="72.70" y="639.22" font-size="14.5" font-family="Liberation Serif, serif" font-weight="bold" text-anchor="end">20</text>
<line x1="75.60" y1="602.73" x2="79.20" y2="602.73" stroke="#000" stroke-width="1.6"/>
<text x="72.70" y="607.58" font-size="14.5" font-family="Liberation Serif, serif" font-weight="bold" text-anchor="end">25</text>
<line x1="75.60" y1="571.10" x2="79.20" y2="571.10" stroke="#000" stroke-width="1.6"/>
<text x="72.70" y="575.95" font-size="14.5" font-family="Liberation Serif, serif" font-weight="bold" text-anchor="end">30</text>
<line x1="76.80" y1="745.08" x2="79.20" y2="745.08" stroke="#000" stroke-width="1.4"/>
<line x1="76.80" y1="713.45" x2="79.20" y2="713.45" stroke="#000" stroke-width="1.4"/>
<line x1="76.80" y1="681.82" x2="79.20" y2="681.82" stroke="#000" stroke-width="1.4"/>
<line x1="76.80" y1="650.18" x2="79.20" y2="650.18" stroke="#000" stroke-width="1.4"/>
<line x1="76.80" y1="618.55" x2="79.20" y2="618.55" stroke="#000" stroke-width="1.4"/>
<line x1="76.80" y1="586.92" x2="79.20" y2="586.92" stroke="#000" stroke-width="1.4"/>
<rect x="245.3" y="575.3" width="19.8" height="8.8" fill="url(#lgG)"/>
<text x="271.1" y="583.9" font-size="11.8" font-family="Liberation Serif, serif" font-weight="bold" textLength="34.8" lengthAdjust="spacingAndGlyphs">S-GNSs</text>
<text x="306.2" y="586.8" font-size="7.8" font-family="Liberation Serif, serif" font-weight="bold" textLength="10.6" lengthAdjust="spacingAndGlyphs">163</text>
<text x="269.0" y="600.6" font-size="11.1" font-family="Liberation Serif, serif" font-weight="bold" textLength="47.1" lengthAdjust="spacingAndGlyphs">PDI=0.176</text>
<text transform="translate(51.4 669.2) rotate(-90)" font-size="18.8" font-family="Liberation Serif, serif" font-weight="bold" text-anchor="middle" textLength="125.6" lengthAdjust="spacingAndGlyphs">Percentage (%)</text>
<text x="204.2" y="796.1" font-size="18.8" font-family="Liberation Serif, serif" font-weight="bold" text-anchor="middle" textLength="75.4" lengthAdjust="spacingAndGlyphs">Size (nm)</text>
<rect x="426.82" y="745.38" width="22.00" height="15.52" fill="url(#gH)"/>
<rect x="451.44" y="729.92" width="22.00" height="30.98" fill="url(#gH)"/>
<rect x="476.06" y="714.40" width="22.00" height="46.50" fill="url(#gH)"/>
<rect x="500.68" y="667.90" width="22.00" height="93.00" fill="url(#gH)"/>
<rect x="525.30" y="605.89" width="22.00" height="155.01" fill="url(#gH)"/>
<rect x="549.92" y="652.39" width="22.00" height="108.51" fill="url(#gH)"/>
<rect x="574.54" y="698.88" width="22.00" height="62.02" fill="url(#gH)"/>
<rect x="599.16" y="729.92" width="22.00" height="30.98" fill="url(#gH)"/>
<path d="M417.30 758.56 L420.02 758.43 L422.74 758.27 L425.46 758.07 L428.17 757.82 L430.89 757.51 L433.61 757.14 L436.33 756.68 L439.05 756.13 L441.77 755.47 L444.48 754.67 L447.20 753.74 L449.92 752.63 L452.64 751.34 L455.36 749.83 L458.08 748.09 L460.80 746.10 L463.51 743.82 L466.23 741.25 L468.95 738.36 L471.67 735.13 L474.39 731.55 L477.11 727.62 L479.82 723.32 L482.54 718.67 L485.26 713.67 L487.98 708.33 L490.70 702.69 L493.42 696.77 L496.14 690.62 L498.85 684.28 L501.57 677.82 L504.29 671.30 L507.01 664.79 L509.73 658.37 L512.45 652.12 L515.16 646.13 L517.88 640.47 L520.60 635.23 L523.32 630.48 L526.04 626.32 L528.76 622.79 L531.48 619.95 L534.19 617.86 L536.91 616.55 L539.63 616.04 L542.35 616.34 L545.07 617.44 L547.79 619.33 L550.50 621.97 L553.22 625.32 L555.94 629.32 L558.66 633.92 L561.38 639.04 L564.10 644.59 L566.82 650.51 L569.53 656.70 L572.25 663.08 L574.97 669.58 L577.69 676.10 L580.41 682.59 L583.13 688.96 L585.84 695.17 L588.56 701.15 L591.28 706.87 L594.00 712.29 L596.72 717.38 L599.44 722.13 L602.16 726.52 L604.87 730.55 L607.59 734.22 L610.31 737.54 L613.03 740.52 L615.75 743.17 L618.47 745.52 L621.18 747.59 L623.90 749.39 L626.62 750.96 L629.34 752.31 L632.06 753.46 L634.78 754.44" fill="none" stroke="#e0207a" stroke-width="2.3" stroke-linecap="round" stroke-linejoin="round"/>
<rect x="417.30" y="571.00" width="246.20" height="189.90" fill="none" stroke="#000" stroke-width="2.2"/>
<line x1="417.30" y1="760.90" x2="417.30" y2="764.50" stroke="#000" stroke-width="1.6"/>
<text x="417.30" y="777.80" font-size="14.5" font-family="Liberation Serif, serif" font-weight="bold" text-anchor="middle">185</text>
<line x1="458.33" y1="760.90" x2="458.33" y2="764.50" stroke="#000" stroke-width="1.6"/>
<text x="458.33" y="777.80" font-size="14.5" font-family="Liberation Serif, serif" font-weight="bold" text-anchor="middle">190</text>
<line x1="499.37" y1="760.90" x2="499.37" y2="764.50" stroke="#000" stroke-width="1.6"/>
<text x="499.37" y="777.80" font-size="14.5" font-family="Liberation Serif, serif" font-weight="bold" text-anchor="middle">195</text>
<line x1="540.40" y1="760.90" x2="540.40" y2="764.50" stroke="#000" stroke-width="1.6"/>
<text x="540.40" y="777.80" font-size="14.5" font-family="Liberation Serif, serif" font-weight="bold" text-anchor="middle">200</text>
<line x1="581.43" y1="760.90" x2="581.43" y2="764.50" stroke="#000" stroke-width="1.6"/>
<text x="581.43" y="777.80" font-size="14.5" font-family="Liberation Serif, serif" font-weight="bold" text-anchor="middle">205</text>
<line x1="622.47" y1="760.90" x2="622.47" y2="764.50" stroke="#000" stroke-width="1.6"/>
<text x="622.47" y="777.80" font-size="14.5" font-family="Liberation Serif, serif" font-weight="bold" text-anchor="middle">210</text>
<line x1="663.50" y1="760.90" x2="663.50" y2="764.50" stroke="#000" stroke-width="1.6"/>
<text x="663.50" y="777.80" font-size="14.5" font-family="Liberation Serif, serif" font-weight="bold" text-anchor="middle">215</text>
<line x1="437.82" y1="760.90" x2="437.82" y2="763.30" stroke="#000" stroke-width="1.4"/>
<line x1="478.85" y1="760.90" x2="478.85" y2="763.30" stroke="#000" stroke-width="1.4"/>
<line x1="519.88" y1="760.90" x2="519.88" y2="763.30" stroke="#000" stroke-width="1.4"/>
<line x1="560.92" y1="760.90" x2="560.92" y2="763.30" stroke="#000" stroke-width="1.4"/>
<line x1="601.95" y1="760.90" x2="601.95" y2="763.30" stroke="#000" stroke-width="1.4"/>
<line x1="642.98" y1="760.90" x2="642.98" y2="763.30" stroke="#000" stroke-width="1.4"/>
<line x1="413.70" y1="760.90" x2="417.30" y2="760.90" stroke="#000" stroke-width="1.6"/>
<text x="410.80" y="765.75" font-size="14.5" font-family="Liberation Serif, serif" font-weight="bold" text-anchor="end">0</text>
<line x1="413.70" y1="733.77" x2="417.30" y2="733.77" stroke="#000" stroke-width="1.6"/>
<text x="410.80" y="738.62" font-size="14.5" font-family="Liberation Serif, serif" font-weight="bold" text-anchor="end">5</text>
<line x1="413.70" y1="706.64" x2="417.30" y2="706.64" stroke="#000" stroke-width="1.6"/>
<text x="410.80" y="711.49" font-size="14.5" font-family="Liberation Serif, serif" font-weight="bold" text-anchor="end">10</text>
<line x1="413.70" y1="679.51" x2="417.30" y2="679.51" stroke="#000" stroke-width="1.6"/>
<text x="410.80" y="684.36" font-size="14.5" font-family="Liberation Serif, serif" font-weight="bold" text-anchor="end">15</text>
<line x1="413.70" y1="652.39" x2="417.30" y2="652.39" stroke="#000" stroke-width="1.6"/>
<text x="410.80" y="657.24" font-size="14.5" font-family="Liberation Serif, serif" font-weight="bold" text-anchor="end">20</text>
<line x1="413.70" y1="625.26" x2="417.30" y2="625.26" stroke="#000" stroke-width="1.6"/>
<text x="410.80" y="630.11" font-size="14.5" font-family="Liberation Serif, serif" font-weight="bold" text-anchor="end">25</text>
<line x1="413.70" y1="598.13" x2="417.30" y2="598.13" stroke="#000" stroke-width="1.6"/>
<text x="410.80" y="602.98" font-size="14.5" font-family="Liberation Serif, serif" font-weight="bold" text-anchor="end">30</text>
<line x1="413.70" y1="571.00" x2="417.30" y2="571.00" stroke="#000" stroke-width="1.6"/>
<text x="410.80" y="575.85" font-size="14.5" font-family="Liberation Serif, serif" font-weight="bold" text-anchor="end">35</text>
<line x1="414.90" y1="747.34" x2="417.30" y2="747.34" stroke="#000" stroke-width="1.4"/>
<line x1="414.90" y1="720.21" x2="417.30" y2="720.21" stroke="#000" stroke-width="1.4"/>
<line x1="414.90" y1="693.08" x2="417.30" y2="693.08" stroke="#000" stroke-width="1.4"/>
<line x1="414.90" y1="665.95" x2="417.30" y2="665.95" stroke="#000" stroke-width="1.4"/>
<line x1="414.90" y1="638.82" x2="417.30" y2="638.82" stroke="#000" stroke-width="1.4"/>
<line x1="414.90" y1="611.69" x2="417.30" y2="611.69" stroke="#000" stroke-width="1.4"/>
<line x1="414.90" y1="584.56" x2="417.30" y2="584.56" stroke="#000" stroke-width="1.4"/>
<rect x="583.0" y="575.3" width="19.8" height="8.8" fill="url(#lgH)"/>
<text x="609.0" y="583.7" font-size="11.8" font-family="Liberation Serif, serif" font-weight="bold" textLength="34.8" lengthAdjust="spacingAndGlyphs">S-GNSs</text>
<text x="644.2" y="586.6" font-size="7.8" font-family="Liberation Serif, serif" font-weight="bold" textLength="10.6" lengthAdjust="spacingAndGlyphs">200</text>
<text x="607.6" y="600.8" font-size="11.1" font-family="Liberation Serif, serif" font-weight="bold" textLength="47.1" lengthAdjust="spacingAndGlyphs">PDI=0.247</text>
<text transform="translate(388.7 662.6) rotate(-90)" font-size="18.8" font-family="Liberation Serif, serif" font-weight="bold" text-anchor="middle" textLength="123.7" lengthAdjust="spacingAndGlyphs">Percentage (%)</text>
<text x="540.3" y="796.1" font-size="18.8" font-family="Liberation Serif, serif" font-weight="bold" text-anchor="middle" textLength="75.4" lengthAdjust="spacingAndGlyphs">Size (nm)</text>
<rect x="757.93" y="737.05" width="21.80" height="25.25" fill="url(#gI)"/>
<rect x="782.59" y="711.71" width="21.80" height="50.59" fill="url(#gI)"/>
<rect x="807.25" y="686.46" width="21.80" height="75.84" fill="url(#gI)"/>
<rect x="831.91" y="661.21" width="21.80" height="101.09" fill="url(#gI)"/>
<rect x="856.57" y="585.37" width="21.80" height="176.93" fill="url(#gI)"/>
<rect x="881.23" y="635.87" width="21.80" height="126.43" fill="url(#gI)"/>
<rect x="905.89" y="661.21" width="21.80" height="101.09" fill="url(#gI)"/>
<rect x="930.55" y="686.46" width="21.80" height="75.84" fill="url(#gI)"/>
<rect x="955.21" y="737.05" width="21.80" height="25.25" fill="url(#gI)"/>
<path d="M768.83 746.75 L771.76 744.70 L774.69 742.43 L777.62 739.96 L780.54 737.27 L783.47 734.35 L786.40 731.20 L789.33 727.81 L792.26 724.20 L795.19 720.35 L798.11 716.27 L801.04 711.98 L803.97 707.48 L806.90 702.79 L809.83 697.93 L812.76 692.91 L815.68 687.77 L818.61 682.52 L821.54 677.21 L824.47 671.86 L827.40 666.51 L830.33 661.21 L833.25 655.99 L836.18 650.89 L839.11 645.95 L842.04 641.23 L844.97 636.76 L847.90 632.58 L850.82 628.73 L853.75 625.25 L856.68 622.18 L859.61 619.54 L862.54 617.37 L865.47 615.68 L868.39 614.49 L871.32 613.82 L874.25 613.67 L877.18 614.04 L880.11 614.93 L883.04 616.33 L885.97 618.23 L888.89 620.60 L891.82 623.42 L894.75 626.67 L897.68 630.31 L900.61 634.30 L903.54 638.61 L906.46 643.19 L909.39 648.01 L912.32 653.02 L915.25 658.17 L918.18 663.44 L921.11 668.76 L924.03 674.11 L926.96 679.45 L929.89 684.74 L932.82 689.95 L935.75 695.04 L938.68 700.00 L941.60 704.79 L944.53 709.40 L947.46 713.82 L950.39 718.02 L953.32 722.00 L956.25 725.75 L959.17 729.27 L962.10 732.55 L965.03 735.60 L967.96 738.43 L970.89 741.03 L973.82 743.41 L976.74 745.59 L979.67 747.56 L982.60 749.35 L985.53 750.96 L988.46 752.41 L991.39 753.70 L994.31 754.85 L997.24 755.87 L1000.17 756.77 L1003.10 757.56" fill="none" stroke="#e0207a" stroke-width="2.3" stroke-linecap="round" stroke-linejoin="round"/>
<rect x="756.50" y="572.70" width="246.60" height="189.60" fill="none" stroke="#000" stroke-width="2.2"/>
<line x1="756.50" y1="762.30" x2="756.50" y2="765.90" stroke="#000" stroke-width="1.6"/>
<text x="756.50" y="779.20" font-size="14.5" font-family="Liberation Serif, serif" font-weight="bold" text-anchor="middle">280</text>
<line x1="818.15" y1="762.30" x2="818.15" y2="765.90" stroke="#000" stroke-width="1.6"/>
<text x="818.15" y="779.20" font-size="14.5" font-family="Liberation Serif, serif" font-weight="bold" text-anchor="middle">285</text>
<line x1="879.80" y1="762.30" x2="879.80" y2="765.90" stroke="#000" stroke-width="1.6"/>
<text x="879.80" y="779.20" font-size="14.5" font-family="Liberation Serif, serif" font-weight="bold" text-anchor="middle">290</text>
<line x1="941.45" y1="762.30" x2="941.45" y2="765.90" stroke="#000" stroke-width="1.6"/>
<text x="941.45" y="779.20" font-size="14.5" font-family="Liberation Serif, serif" font-weight="bold" text-anchor="middle">295</text>
<line x1="1003.10" y1="762.30" x2="1003.10" y2="765.90" stroke="#000" stroke-width="1.6"/>
<text x="1003.10" y="779.20" font-size="14.5" font-family="Liberation Serif, serif" font-weight="bold" text-anchor="middle">300</text>
<line x1="787.33" y1="762.30" x2="787.33" y2="764.70" stroke="#000" stroke-width="1.4"/>
<line x1="848.98" y1="762.30" x2="848.98" y2="764.70" stroke="#000" stroke-width="1.4"/>
<line x1="910.62" y1="762.30" x2="910.62" y2="764.70" stroke="#000" stroke-width="1.4"/>
<line x1="972.28" y1="762.30" x2="972.28" y2="764.70" stroke="#000" stroke-width="1.4"/>
<line x1="752.90" y1="762.30" x2="756.50" y2="762.30" stroke="#000" stroke-width="1.6"/>
<text x="750.00" y="767.15" font-size="14.5" font-family="Liberation Serif, serif" font-weight="bold" text-anchor="end">0</text>
<line x1="752.90" y1="724.38" x2="756.50" y2="724.38" stroke="#000" stroke-width="1.6"/>
<text x="750.00" y="729.23" font-size="14.5" font-family="Liberation Serif, serif" font-weight="bold" text-anchor="end">5</text>
<line x1="752.90" y1="686.46" x2="756.50" y2="686.46" stroke="#000" stroke-width="1.6"/>
<text x="750.00" y="691.31" font-size="14.5" font-family="Liberation Serif, serif" font-weight="bold" text-anchor="end">10</text>
<line x1="752.90" y1="648.54" x2="756.50" y2="648.54" stroke="#000" stroke-width="1.6"/>
<text x="750.00" y="653.39" font-size="14.5" font-family="Liberation Serif, serif" font-weight="bold" text-anchor="end">15</text>
<line x1="752.90" y1="610.62" x2="756.50" y2="610.62" stroke="#000" stroke-width="1.6"/>
<text x="750.00" y="615.47" font-size="14.5" font-family="Liberation Serif, serif" font-weight="bold" text-anchor="end">20</text>
<line x1="752.90" y1="572.70" x2="756.50" y2="572.70" stroke="#000" stroke-width="1.6"/>
<text x="750.00" y="577.55" font-size="14.5" font-family="Liberation Serif, serif" font-weight="bold" text-anchor="end">25</text>
<line x1="754.10" y1="743.34" x2="756.50" y2="743.34" stroke="#000" stroke-width="1.4"/>
<line x1="754.10" y1="705.42" x2="756.50" y2="705.42" stroke="#000" stroke-width="1.4"/>
<line x1="754.10" y1="667.50" x2="756.50" y2="667.50" stroke="#000" stroke-width="1.4"/>
<line x1="754.10" y1="629.58" x2="756.50" y2="629.58" stroke="#000" stroke-width="1.4"/>
<line x1="754.10" y1="591.66" x2="756.50" y2="591.66" stroke="#000" stroke-width="1.4"/>
<rect x="922.2" y="577.1" width="20.2" height="8.8" fill="url(#lgI)"/>
<text x="948.6" y="585.5" font-size="11.8" font-family="Liberation Serif, serif" font-weight="bold" textLength="34.8" lengthAdjust="spacingAndGlyphs">S-GNSs</text>
<text x="983.9" y="588.4" font-size="7.8" font-family="Liberation Serif, serif" font-weight="bold" textLength="10.6" lengthAdjust="spacingAndGlyphs">287</text>
<text x="946.8" y="603.1" font-size="11.1" font-family="Liberation Serif, serif" font-weight="bold" textLength="47.0" lengthAdjust="spacingAndGlyphs">PDI=0.195</text>
<text transform="translate(728.8 670.6) rotate(-90)" font-size="18.8" font-family="Liberation Serif, serif" font-weight="bold" text-anchor="middle" textLength="123.2" lengthAdjust="spacingAndGlyphs">Percentage (%)</text>
<text x="880.8" y="797.5" font-size="18.8" font-family="Liberation Serif, serif" font-weight="bold" text-anchor="middle" textLength="75.4" lengthAdjust="spacingAndGlyphs">Size (nm)</text>
<path d="M78.20 932.25 C78.76 934.27 80.21 940.04 81.53 944.36 C82.85 948.69 84.24 954.60 86.12 958.21 C88.00 961.82 90.29 963.40 92.79 966.00 C95.29 968.60 98.56 971.63 101.13 973.79 C103.70 975.95 106.27 977.83 108.21 978.98 C110.16 980.14 110.85 980.51 112.80 980.71 C114.74 980.92 117.45 980.43 119.88 980.19 C122.31 979.96 124.95 979.36 127.39 979.33 C129.82 979.30 132.25 979.59 134.47 980.02 C136.70 980.45 138.64 980.94 140.73 981.93 C142.81 982.91 145.03 984.52 146.98 985.91 C148.92 987.29 151.08 989.37 152.40 990.23 C153.72 991.10 154.06 991.04 154.90 991.10 C155.73 991.16 156.38 991.59 157.40 990.58 C158.41 989.57 159.87 987.41 160.98 985.04 C162.09 982.68 163.07 979.70 164.07 976.39 C165.07 973.07 165.94 969.90 166.99 965.13 C168.03 960.37 169.28 953.68 170.32 947.83 C171.36 941.97 172.29 935.48 173.24 930.00 C174.18 924.51 175.22 919.90 175.99 914.94 C176.75 909.97 177.03 906.14 177.82 900.22 C178.62 894.31 179.80 886.23 180.74 879.45 C181.69 872.67 182.66 865.46 183.49 859.54 C184.33 853.63 185.02 848.58 185.74 843.97 C186.47 839.35 187.13 835.17 187.83 831.85 C188.52 828.53 189.22 826.08 189.91 824.06 C190.61 822.04 191.23 820.86 192.00 819.73 C192.76 818.61 193.66 817.31 194.50 817.31 C195.33 817.31 196.20 818.87 197.00 819.73 C197.80 820.60 198.39 820.77 199.29 822.50 C200.19 824.23 201.34 827.35 202.42 830.12 C203.49 832.89 204.57 836.23 205.75 839.12 C206.93 842.00 208.25 844.95 209.50 847.43 C210.75 849.91 211.86 851.87 213.25 854.00 C214.64 856.14 216.31 858.39 217.84 860.24 C219.37 862.08 220.90 863.76 222.42 865.08 C223.95 866.41 225.45 867.28 227.01 868.20 C228.57 869.12 230.16 869.93 231.76 870.62 C233.36 871.31 235.05 871.95 236.60 872.35 C238.15 872.76 239.32 872.87 241.06 873.05 C242.79 873.22 245.16 873.31 247.02 873.39 C248.88 873.48 250.14 873.33 252.23 873.57 C254.31 873.80 256.74 874.17 259.52 874.78 C262.31 875.38 266.16 876.13 268.94 877.20 C271.72 878.27 273.74 879.65 276.20 881.18 C278.66 882.71 281.27 884.44 283.70 886.37 C286.13 888.31 288.30 890.44 290.79 892.78 C293.27 895.12 296.19 897.94 298.62 900.40 C301.05 902.85 303.21 905.18 305.37 907.49 C307.54 909.80 309.54 911.94 311.63 914.24 C313.71 916.55 315.71 918.86 317.88 921.34 C320.05 923.82 322.90 927.02 324.63 929.13 C326.37 931.24 327.69 933.17 328.30 933.98" fill="none" stroke="#7320d0" stroke-width="2.35" stroke-linecap="butt" stroke-linejoin="round"/>
<rect x="78.20" y="809.70" width="250.10" height="189.30" fill="none" stroke="#000" stroke-width="2.2"/>
<line x1="78.20" y1="999.00" x2="78.20" y2="1002.60" stroke="#000" stroke-width="1.6"/>
<text x="78.20" y="1016.00" font-size="14.5" font-family="Liberation Serif, serif" font-weight="bold" text-anchor="middle">300</text>
<line x1="119.88" y1="999.00" x2="119.88" y2="1002.60" stroke="#000" stroke-width="1.6"/>
<text x="119.88" y="1016.00" font-size="14.5" font-family="Liberation Serif, serif" font-weight="bold" text-anchor="middle">400</text>
<line x1="161.57" y1="999.00" x2="161.57" y2="1002.60" stroke="#000" stroke-width="1.6"/>
<text x="161.57" y="1016.00" font-size="14.5" font-family="Liberation Serif, serif" font-weight="bold" text-anchor="middle">500</text>
<line x1="203.25" y1="999.00" x2="203.25" y2="1002.60" stroke="#000" stroke-width="1.6"/>
<text x="203.25" y="1016.00" font-size="14.5" font-family="Liberation Serif, serif" font-weight="bold" text-anchor="middle">600</text>
<line x1="244.93" y1="999.00" x2="244.93" y2="1002.60" stroke="#000" stroke-width="1.6"/>
<text x="244.93" y="1016.00" font-size="14.5" font-family="Liberation Serif, serif" font-weight="bold" text-anchor="middle">700</text>
<line x1="286.62" y1="999.00" x2="286.62" y2="1002.60" stroke="#000" stroke-width="1.6"/>
<text x="286.62" y="1016.00" font-size="14.5" font-family="Liberation Serif, serif" font-weight="bold" text-anchor="middle">800</text>
<line x1="328.30" y1="999.00" x2="328.30" y2="1002.60" stroke="#000" stroke-width="1.6"/>
<text x="328.30" y="1016.00" font-size="14.5" font-family="Liberation Serif, serif" font-weight="bold" text-anchor="middle">900</text>
<line x1="99.04" y1="999.00" x2="99.04" y2="1001.40" stroke="#000" stroke-width="1.4"/>
<line x1="140.73" y1="999.00" x2="140.73" y2="1001.40" stroke="#000" stroke-width="1.4"/>
<line x1="182.41" y1="999.00" x2="182.41" y2="1001.40" stroke="#000" stroke-width="1.4"/>
<line x1="224.09" y1="999.00" x2="224.09" y2="1001.40" stroke="#000" stroke-width="1.4"/>
<line x1="265.78" y1="999.00" x2="265.78" y2="1001.40" stroke="#000" stroke-width="1.4"/>
<line x1="307.46" y1="999.00" x2="307.46" y2="1001.40" stroke="#000" stroke-width="1.4"/>
<line x1="74.60" y1="991.10" x2="78.20" y2="991.10" stroke="#000" stroke-width="1.6"/>
<text x="71.70" y="995.95" font-size="14.5" font-family="Liberation Serif, serif" font-weight="bold" text-anchor="end">0.0</text>
<line x1="74.60" y1="956.48" x2="78.20" y2="956.48" stroke="#000" stroke-width="1.6"/>
<text x="71.70" y="961.33" font-size="14.5" font-family="Liberation Serif, serif" font-weight="bold" text-anchor="end">0.2</text>
<line x1="74.60" y1="921.86" x2="78.20" y2="921.86" stroke="#000" stroke-width="1.6"/>
<text x="71.70" y="926.71" font-size="14.5" font-family="Liberation Serif, serif" font-weight="bold" text-anchor="end">0.4</text>
<line x1="74.60" y1="887.24" x2="78.20" y2="887.24" stroke="#000" stroke-width="1.6"/>
<text x="71.70" y="892.09" font-size="14.5" font-family="Liberation Serif, serif" font-weight="bold" text-anchor="end">0.6</text>
<line x1="74.60" y1="852.62" x2="78.20" y2="852.62" stroke="#000" stroke-width="1.6"/>
<text x="71.70" y="857.47" font-size="14.5" font-family="Liberation Serif, serif" font-weight="bold" text-anchor="end">0.8</text>
<line x1="74.60" y1="818.00" x2="78.20" y2="818.00" stroke="#000" stroke-width="1.6"/>
<text x="71.70" y="822.85" font-size="14.5" font-family="Liberation Serif, serif" font-weight="bold" text-anchor="end">1.0</text>
<line x1="75.80" y1="973.79" x2="78.20" y2="973.79" stroke="#000" stroke-width="1.4"/>
<line x1="75.80" y1="939.17" x2="78.20" y2="939.17" stroke="#000" stroke-width="1.4"/>
<line x1="75.80" y1="904.55" x2="78.20" y2="904.55" stroke="#000" stroke-width="1.4"/>
<line x1="75.80" y1="869.93" x2="78.20" y2="869.93" stroke="#000" stroke-width="1.4"/>
<line x1="75.80" y1="835.31" x2="78.20" y2="835.31" stroke="#000" stroke-width="1.4"/>
<line x1="240.4" y1="820.0" x2="262.3" y2="820.0" stroke="#7320d0" stroke-width="2.35"/>
<text x="264.7" y="824.1" font-size="11.8" font-family="Liberation Serif, serif" font-weight="bold" textLength="40.3" lengthAdjust="spacingAndGlyphs">S-GNSs</text>
<text x="305.3" y="827.0" font-size="7.8" font-family="Liberation Serif, serif" font-weight="bold" textLength="10.8" lengthAdjust="spacingAndGlyphs">163</text>
<text transform="translate(48.0 910.5) rotate(-90)" font-size="18.8" font-family="Liberation Serif, serif" font-weight="bold" text-anchor="middle" textLength="95.0" lengthAdjust="spacingAndGlyphs">Absorbance</text>
<text x="202.8" y="1036.0" font-size="19.2" font-family="Liberation Serif, serif" font-weight="bold" text-anchor="middle" textLength="141.5" lengthAdjust="spacingAndGlyphs">Wavelength (nm)</text>
<path d="M416.10 921.02 C416.38 923.01 417.15 929.36 417.77 932.92 C418.39 936.49 419.05 939.39 419.81 942.41 C420.58 945.43 421.45 948.39 422.36 951.04 C423.27 953.68 424.23 955.78 425.28 958.28 C426.32 960.78 427.46 963.63 428.62 966.04 C429.77 968.46 430.95 971.05 432.20 972.77 C433.45 974.50 434.78 975.27 436.12 976.39 C437.47 977.52 439.25 978.41 440.30 979.50 C441.34 980.59 441.63 981.74 442.38 982.95 C443.13 984.16 444.04 985.77 444.80 986.75 C445.57 987.72 446.19 988.30 446.97 988.81 C447.75 989.33 448.36 989.71 449.47 989.85 C450.59 989.99 452.12 989.82 453.65 989.68 C455.17 989.53 456.70 989.30 458.65 988.99 C460.60 988.67 463.00 988.10 465.33 987.78 C467.65 987.46 470.68 987.09 472.63 987.09 C474.57 987.09 475.62 987.46 477.01 987.78 C478.40 988.10 479.44 988.41 480.97 988.99 C482.50 989.56 484.48 990.51 486.18 991.23 C487.89 991.95 489.74 993.04 491.19 993.30 C492.64 993.56 493.89 993.36 494.86 992.78 C495.83 992.21 496.25 991.26 497.03 989.85 C497.81 988.44 498.56 986.63 499.53 984.33 C500.51 982.03 501.64 979.15 502.87 976.05 C504.10 972.94 505.67 969.15 506.92 965.70 C508.17 962.25 509.30 958.74 510.38 955.35 C511.46 951.96 512.35 949.63 513.42 945.34 C514.50 941.06 515.73 934.94 516.80 929.65 C517.88 924.36 518.81 919.79 519.89 913.60 C520.98 907.42 522.19 898.83 523.31 892.56 C524.44 886.29 525.56 881.29 526.65 876.00 C527.73 870.71 528.78 865.28 529.82 860.82 C530.86 856.36 531.84 852.97 532.91 849.26 C533.98 845.55 535.13 841.76 536.24 838.57 C537.36 835.38 538.49 832.62 539.58 830.12 C540.67 827.61 541.75 825.11 542.79 823.56 C543.84 822.01 544.76 821.35 545.84 820.80 C546.92 820.25 548.22 820.28 549.26 820.28 C550.30 820.28 551.16 820.40 552.10 820.80 C553.03 821.20 553.67 821.40 554.85 822.70 C556.03 823.99 557.64 826.23 559.19 828.56 C560.73 830.89 562.51 833.94 564.11 836.67 C565.71 839.40 567.24 842.16 568.78 844.95 C570.33 847.74 571.84 850.76 573.37 853.40 C574.90 856.05 576.42 858.49 577.96 860.82 C579.50 863.15 580.96 865.22 582.63 867.38 C584.30 869.53 586.12 871.74 587.97 873.76 C589.83 875.77 591.89 877.72 593.77 879.45 C595.65 881.17 597.38 882.70 599.24 884.11 C601.09 885.52 603.03 886.75 604.91 887.90 C606.79 889.05 608.64 890.09 610.50 891.01 C612.36 891.93 614.38 892.76 616.05 893.42 C617.72 894.08 618.97 894.51 620.51 894.97 C622.06 895.43 623.85 895.84 625.31 896.18 C626.77 896.53 627.88 896.84 629.27 897.04 C630.66 897.25 631.91 897.39 633.65 897.39 C635.39 897.39 637.69 897.16 639.70 897.04 C641.71 896.93 643.97 896.81 645.71 896.70 C647.45 896.58 648.59 896.53 650.13 896.35 C651.67 896.18 653.30 895.69 654.97 895.66 C656.64 895.64 658.24 896.01 660.14 896.18 C662.05 896.36 665.36 896.61 666.40 896.70" fill="none" stroke="#4379c9" stroke-width="2.35" stroke-linecap="butt" stroke-linejoin="round"/>
<rect x="416.10" y="812.10" width="250.30" height="190.50" fill="none" stroke="#000" stroke-width="2.2"/>
<line x1="416.10" y1="1002.60" x2="416.10" y2="1006.20" stroke="#000" stroke-width="1.6"/>
<text x="416.10" y="1019.60" font-size="14.5" font-family="Liberation Serif, serif" font-weight="bold" text-anchor="middle">300</text>
<line x1="457.82" y1="1002.60" x2="457.82" y2="1006.20" stroke="#000" stroke-width="1.6"/>
<text x="457.82" y="1019.60" font-size="14.5" font-family="Liberation Serif, serif" font-weight="bold" text-anchor="middle">400</text>
<line x1="499.53" y1="1002.60" x2="499.53" y2="1006.20" stroke="#000" stroke-width="1.6"/>
<text x="499.53" y="1019.60" font-size="14.5" font-family="Liberation Serif, serif" font-weight="bold" text-anchor="middle">500</text>
<line x1="541.25" y1="1002.60" x2="541.25" y2="1006.20" stroke="#000" stroke-width="1.6"/>
<text x="541.25" y="1019.60" font-size="14.5" font-family="Liberation Serif, serif" font-weight="bold" text-anchor="middle">600</text>
<line x1="582.97" y1="1002.60" x2="582.97" y2="1006.20" stroke="#000" stroke-width="1.6"/>
<text x="582.97" y="1019.60" font-size="14.5" font-family="Liberation Serif, serif" font-weight="bold" text-anchor="middle">700</text>
<line x1="624.68" y1="1002.60" x2="624.68" y2="1006.20" stroke="#000" stroke-width="1.6"/>
<text x="624.68" y="1019.60" font-size="14.5" font-family="Liberation Serif, serif" font-weight="bold" text-anchor="middle">800</text>
<line x1="666.40" y1="1002.60" x2="666.40" y2="1006.20" stroke="#000" stroke-width="1.6"/>
<text x="666.40" y="1019.60" font-size="14.5" font-family="Liberation Serif, serif" font-weight="bold" text-anchor="middle">900</text>
<line x1="436.96" y1="1002.60" x2="436.96" y2="1005.00" stroke="#000" stroke-width="1.4"/>
<line x1="478.68" y1="1002.60" x2="478.68" y2="1005.00" stroke="#000" stroke-width="1.4"/>
<line x1="520.39" y1="1002.60" x2="520.39" y2="1005.00" stroke="#000" stroke-width="1.4"/>
<line x1="562.11" y1="1002.60" x2="562.11" y2="1005.00" stroke="#000" stroke-width="1.4"/>
<line x1="603.83" y1="1002.60" x2="603.83" y2="1005.00" stroke="#000" stroke-width="1.4"/>
<line x1="645.54" y1="1002.60" x2="645.54" y2="1005.00" stroke="#000" stroke-width="1.4"/>
<line x1="412.50" y1="993.30" x2="416.10" y2="993.30" stroke="#000" stroke-width="1.6"/>
<text x="409.60" y="998.15" font-size="14.5" font-family="Liberation Serif, serif" font-weight="bold" text-anchor="end">0.0</text>
<line x1="412.50" y1="958.80" x2="416.10" y2="958.80" stroke="#000" stroke-width="1.6"/>
<text x="409.60" y="963.65" font-size="14.5" font-family="Liberation Serif, serif" font-weight="bold" text-anchor="end">0.2</text>
<line x1="412.50" y1="924.30" x2="416.10" y2="924.30" stroke="#000" stroke-width="1.6"/>
<text x="409.60" y="929.15" font-size="14.5" font-family="Liberation Serif, serif" font-weight="bold" text-anchor="end">0.4</text>
<line x1="412.50" y1="889.80" x2="416.10" y2="889.80" stroke="#000" stroke-width="1.6"/>
<text x="409.60" y="894.65" font-size="14.5" font-family="Liberation Serif, serif" font-weight="bold" text-anchor="end">0.6</text>
<line x1="412.50" y1="855.30" x2="416.10" y2="855.30" stroke="#000" stroke-width="1.6"/>
<text x="409.60" y="860.15" font-size="14.5" font-family="Liberation Serif, serif" font-weight="bold" text-anchor="end">0.8</text>
<line x1="412.50" y1="820.80" x2="416.10" y2="820.80" stroke="#000" stroke-width="1.6"/>
<text x="409.60" y="825.65" font-size="14.5" font-family="Liberation Serif, serif" font-weight="bold" text-anchor="end">1.0</text>
<line x1="413.70" y1="976.05" x2="416.10" y2="976.05" stroke="#000" stroke-width="1.4"/>
<line x1="413.70" y1="941.55" x2="416.10" y2="941.55" stroke="#000" stroke-width="1.4"/>
<line x1="413.70" y1="907.05" x2="416.10" y2="907.05" stroke="#000" stroke-width="1.4"/>
<line x1="413.70" y1="872.55" x2="416.10" y2="872.55" stroke="#000" stroke-width="1.4"/>
<line x1="413.70" y1="838.05" x2="416.10" y2="838.05" stroke="#000" stroke-width="1.4"/>
<line x1="582.8" y1="821.3" x2="605.0" y2="821.3" stroke="#4379c9" stroke-width="2.35"/>
<text x="610.6" y="825.0" font-size="10.6" font-family="Liberation Serif, serif" font-weight="bold" textLength="35.3" lengthAdjust="spacingAndGlyphs">S-GNSs</text>
<text x="646.4" y="827.9" font-size="7.8" font-family="Liberation Serif, serif" font-weight="bold" textLength="10.8" lengthAdjust="spacingAndGlyphs">200</text>
<text transform="translate(387.5 911.3) rotate(-90)" font-size="18.8" font-family="Liberation Serif, serif" font-weight="bold" text-anchor="middle" textLength="95.0" lengthAdjust="spacingAndGlyphs">Absorbance</text>
<text x="540.6" y="1035.4" font-size="19.2" font-family="Liberation Serif, serif" font-weight="bold" text-anchor="middle" textLength="141.5" lengthAdjust="spacingAndGlyphs">Wavelength (nm)</text>
<path d="M757.90 932.19 C758.18 933.91 758.94 939.30 759.57 942.56 C760.19 945.82 760.89 948.99 761.65 951.72 C762.42 954.46 763.22 956.65 764.15 958.98 C765.08 961.32 766.13 963.65 767.24 965.73 C768.35 967.80 769.60 969.73 770.82 971.43 C772.04 973.13 773.25 974.69 774.57 975.93 C775.89 977.17 777.33 977.83 778.74 978.87 C780.15 979.91 781.92 981.17 783.04 982.15 C784.15 983.13 784.63 983.91 785.41 984.75 C786.19 985.58 786.94 986.50 787.70 987.17 C788.47 987.83 789.23 988.35 790.00 988.72 C790.77 989.10 791.29 989.39 792.33 989.41 C793.37 989.44 794.85 989.13 796.25 988.90 C797.65 988.67 799.04 988.32 800.71 988.03 C802.38 987.74 804.39 987.37 806.25 987.17 C808.11 986.97 810.21 986.88 811.88 986.82 C813.55 986.76 814.87 986.76 816.26 986.82 C817.65 986.88 819.04 986.94 820.22 987.17 C821.40 987.40 822.27 987.80 823.34 988.20 C824.42 988.61 825.50 989.07 826.68 989.59 C827.86 990.11 829.18 990.80 830.43 991.32 C831.68 991.84 832.94 992.50 834.18 992.70 C835.42 992.90 836.99 992.87 837.89 992.53 C838.79 992.18 838.98 991.37 839.60 990.63 C840.22 989.88 840.84 989.27 841.60 988.03 C842.36 986.79 843.25 984.89 844.18 983.19 C845.12 981.49 846.14 979.47 847.19 977.83 C848.23 976.19 849.35 974.72 850.44 973.34 C851.52 971.95 852.72 970.71 853.69 969.53 C854.66 968.35 855.34 967.49 856.27 966.25 C857.20 965.01 858.37 963.60 859.27 962.10 C860.18 960.60 860.91 959.13 861.69 957.26 C862.47 955.38 863.18 953.31 863.94 950.86 C864.71 948.41 865.51 945.67 866.28 942.56 C867.05 939.45 868.08 934.32 868.57 932.19 C869.06 930.05 868.58 933.22 869.24 929.76 C869.90 926.31 871.45 917.60 872.53 911.44 C873.61 905.27 874.70 898.53 875.74 892.76 C876.78 887.00 877.70 882.13 878.78 876.86 C879.86 871.58 881.02 866.02 882.20 861.12 C883.38 856.22 884.63 851.64 885.87 847.46 C887.10 843.29 888.44 839.22 889.62 836.05 C890.80 832.88 891.87 830.61 892.95 828.44 C894.04 826.28 895.15 824.44 896.12 823.09 C897.09 821.73 897.87 820.95 898.79 820.32 C899.71 819.68 900.69 819.40 901.67 819.28 C902.64 819.17 903.69 819.40 904.63 819.63 C905.56 819.86 906.28 820.00 907.25 820.66 C908.22 821.33 909.38 822.45 910.46 823.60 C911.54 824.76 912.39 825.62 913.71 827.58 C915.03 829.54 916.83 832.71 918.38 835.36 C919.93 838.01 921.48 840.75 923.01 843.49 C924.54 846.22 926.01 849.02 927.55 851.79 C929.09 854.55 930.59 857.26 932.26 860.09 C933.93 862.91 935.70 865.94 937.56 868.73 C939.41 871.53 941.52 874.41 943.39 876.86 C945.27 879.31 946.95 881.41 948.81 883.43 C950.66 885.44 952.64 887.26 954.52 888.96 C956.40 890.66 958.21 892.25 960.06 893.63 C961.92 895.01 963.98 896.25 965.65 897.26 C967.32 898.27 968.52 899.02 970.07 899.68 C971.62 900.34 973.21 900.83 974.95 901.24 C976.68 901.64 978.63 901.93 980.49 902.10 C982.34 902.27 984.41 902.33 986.07 902.27 C987.74 902.22 988.95 901.96 990.49 901.75 C992.04 901.55 993.52 901.21 995.33 901.06 C997.13 900.92 999.22 900.98 1001.33 900.89 C1003.44 900.80 1006.89 900.60 1008.00 900.54" fill="none" stroke="#2f8dd5" stroke-width="2.35" stroke-linecap="butt" stroke-linejoin="round"/>
<rect x="757.90" y="811.50" width="250.10" height="190.10" fill="none" stroke="#000" stroke-width="2.2"/>
<line x1="757.90" y1="1001.60" x2="757.90" y2="1005.20" stroke="#000" stroke-width="1.6"/>
<text x="757.90" y="1018.60" font-size="14.5" font-family="Liberation Serif, serif" font-weight="bold" text-anchor="middle">300</text>
<line x1="799.58" y1="1001.60" x2="799.58" y2="1005.20" stroke="#000" stroke-width="1.6"/>
<text x="799.58" y="1018.60" font-size="14.5" font-family="Liberation Serif, serif" font-weight="bold" text-anchor="middle">400</text>
<line x1="841.27" y1="1001.60" x2="841.27" y2="1005.20" stroke="#000" stroke-width="1.6"/>
<text x="841.27" y="1018.60" font-size="14.5" font-family="Liberation Serif, serif" font-weight="bold" text-anchor="middle">500</text>
<line x1="882.95" y1="1001.60" x2="882.95" y2="1005.20" stroke="#000" stroke-width="1.6"/>
<text x="882.95" y="1018.60" font-size="14.5" font-family="Liberation Serif, serif" font-weight="bold" text-anchor="middle">600</text>
<line x1="924.63" y1="1001.60" x2="924.63" y2="1005.20" stroke="#000" stroke-width="1.6"/>
<text x="924.63" y="1018.60" font-size="14.5" font-family="Liberation Serif, serif" font-weight="bold" text-anchor="middle">700</text>
<line x1="966.32" y1="1001.60" x2="966.32" y2="1005.20" stroke="#000" stroke-width="1.6"/>
<text x="966.32" y="1018.60" font-size="14.5" font-family="Liberation Serif, serif" font-weight="bold" text-anchor="middle">800</text>
<line x1="1008.00" y1="1001.60" x2="1008.00" y2="1005.20" stroke="#000" stroke-width="1.6"/>
<text x="1008.00" y="1018.60" font-size="14.5" font-family="Liberation Serif, serif" font-weight="bold" text-anchor="middle">900</text>
<line x1="778.74" y1="1001.60" x2="778.74" y2="1004.00" stroke="#000" stroke-width="1.4"/>
<line x1="820.42" y1="1001.60" x2="820.42" y2="1004.00" stroke="#000" stroke-width="1.4"/>
<line x1="862.11" y1="1001.60" x2="862.11" y2="1004.00" stroke="#000" stroke-width="1.4"/>
<line x1="903.79" y1="1001.60" x2="903.79" y2="1004.00" stroke="#000" stroke-width="1.4"/>
<line x1="945.48" y1="1001.60" x2="945.48" y2="1004.00" stroke="#000" stroke-width="1.4"/>
<line x1="987.16" y1="1001.60" x2="987.16" y2="1004.00" stroke="#000" stroke-width="1.4"/>
<line x1="754.30" y1="992.70" x2="757.90" y2="992.70" stroke="#000" stroke-width="1.6"/>
<text x="751.40" y="997.55" font-size="14.5" font-family="Liberation Serif, serif" font-weight="bold" text-anchor="end">0.0</text>
<line x1="754.30" y1="958.12" x2="757.90" y2="958.12" stroke="#000" stroke-width="1.6"/>
<text x="751.40" y="962.97" font-size="14.5" font-family="Liberation Serif, serif" font-weight="bold" text-anchor="end">0.2</text>
<line x1="754.30" y1="923.54" x2="757.90" y2="923.54" stroke="#000" stroke-width="1.6"/>
<text x="751.40" y="928.39" font-size="14.5" font-family="Liberation Serif, serif" font-weight="bold" text-anchor="end">0.4</text>
<line x1="754.30" y1="888.96" x2="757.90" y2="888.96" stroke="#000" stroke-width="1.6"/>
<text x="751.40" y="893.81" font-size="14.5" font-family="Liberation Serif, serif" font-weight="bold" text-anchor="end">0.6</text>
<line x1="754.30" y1="854.38" x2="757.90" y2="854.38" stroke="#000" stroke-width="1.6"/>
<text x="751.40" y="859.23" font-size="14.5" font-family="Liberation Serif, serif" font-weight="bold" text-anchor="end">0.8</text>
<line x1="754.30" y1="819.80" x2="757.90" y2="819.80" stroke="#000" stroke-width="1.6"/>
<text x="751.40" y="824.65" font-size="14.5" font-family="Liberation Serif, serif" font-weight="bold" text-anchor="end">1.0</text>
<line x1="755.50" y1="975.41" x2="757.90" y2="975.41" stroke="#000" stroke-width="1.4"/>
<line x1="755.50" y1="940.83" x2="757.90" y2="940.83" stroke="#000" stroke-width="1.4"/>
<line x1="755.50" y1="906.25" x2="757.90" y2="906.25" stroke="#000" stroke-width="1.4"/>
<line x1="755.50" y1="871.67" x2="757.90" y2="871.67" stroke="#000" stroke-width="1.4"/>
<line x1="755.50" y1="837.09" x2="757.90" y2="837.09" stroke="#000" stroke-width="1.4"/>
<line x1="924.9" y1="820.0" x2="947.2" y2="820.0" stroke="#2f8dd5" stroke-width="2.35"/>
<text x="952.8" y="823.8" font-size="10.6" font-family="Liberation Serif, serif" font-weight="bold" textLength="35.2" lengthAdjust="spacingAndGlyphs">S-GNSs</text>
<text x="988.5" y="826.7" font-size="7.8" font-family="Liberation Serif, serif" font-weight="bold" textLength="10.8" lengthAdjust="spacingAndGlyphs">287</text>
<text transform="translate(727.8 907.9) rotate(-90)" font-size="18.8" font-family="Liberation Serif, serif" font-weight="bold" text-anchor="middle" textLength="95.0" lengthAdjust="spacingAndGlyphs">Absorbance</text>
<text x="887.6" y="1037.0" font-size="19.2" font-family="Liberation Serif, serif" font-weight="bold" text-anchor="middle" textLength="141.5" lengthAdjust="spacingAndGlyphs">Wavelength (nm)</text>
</svg>
</body></html>
